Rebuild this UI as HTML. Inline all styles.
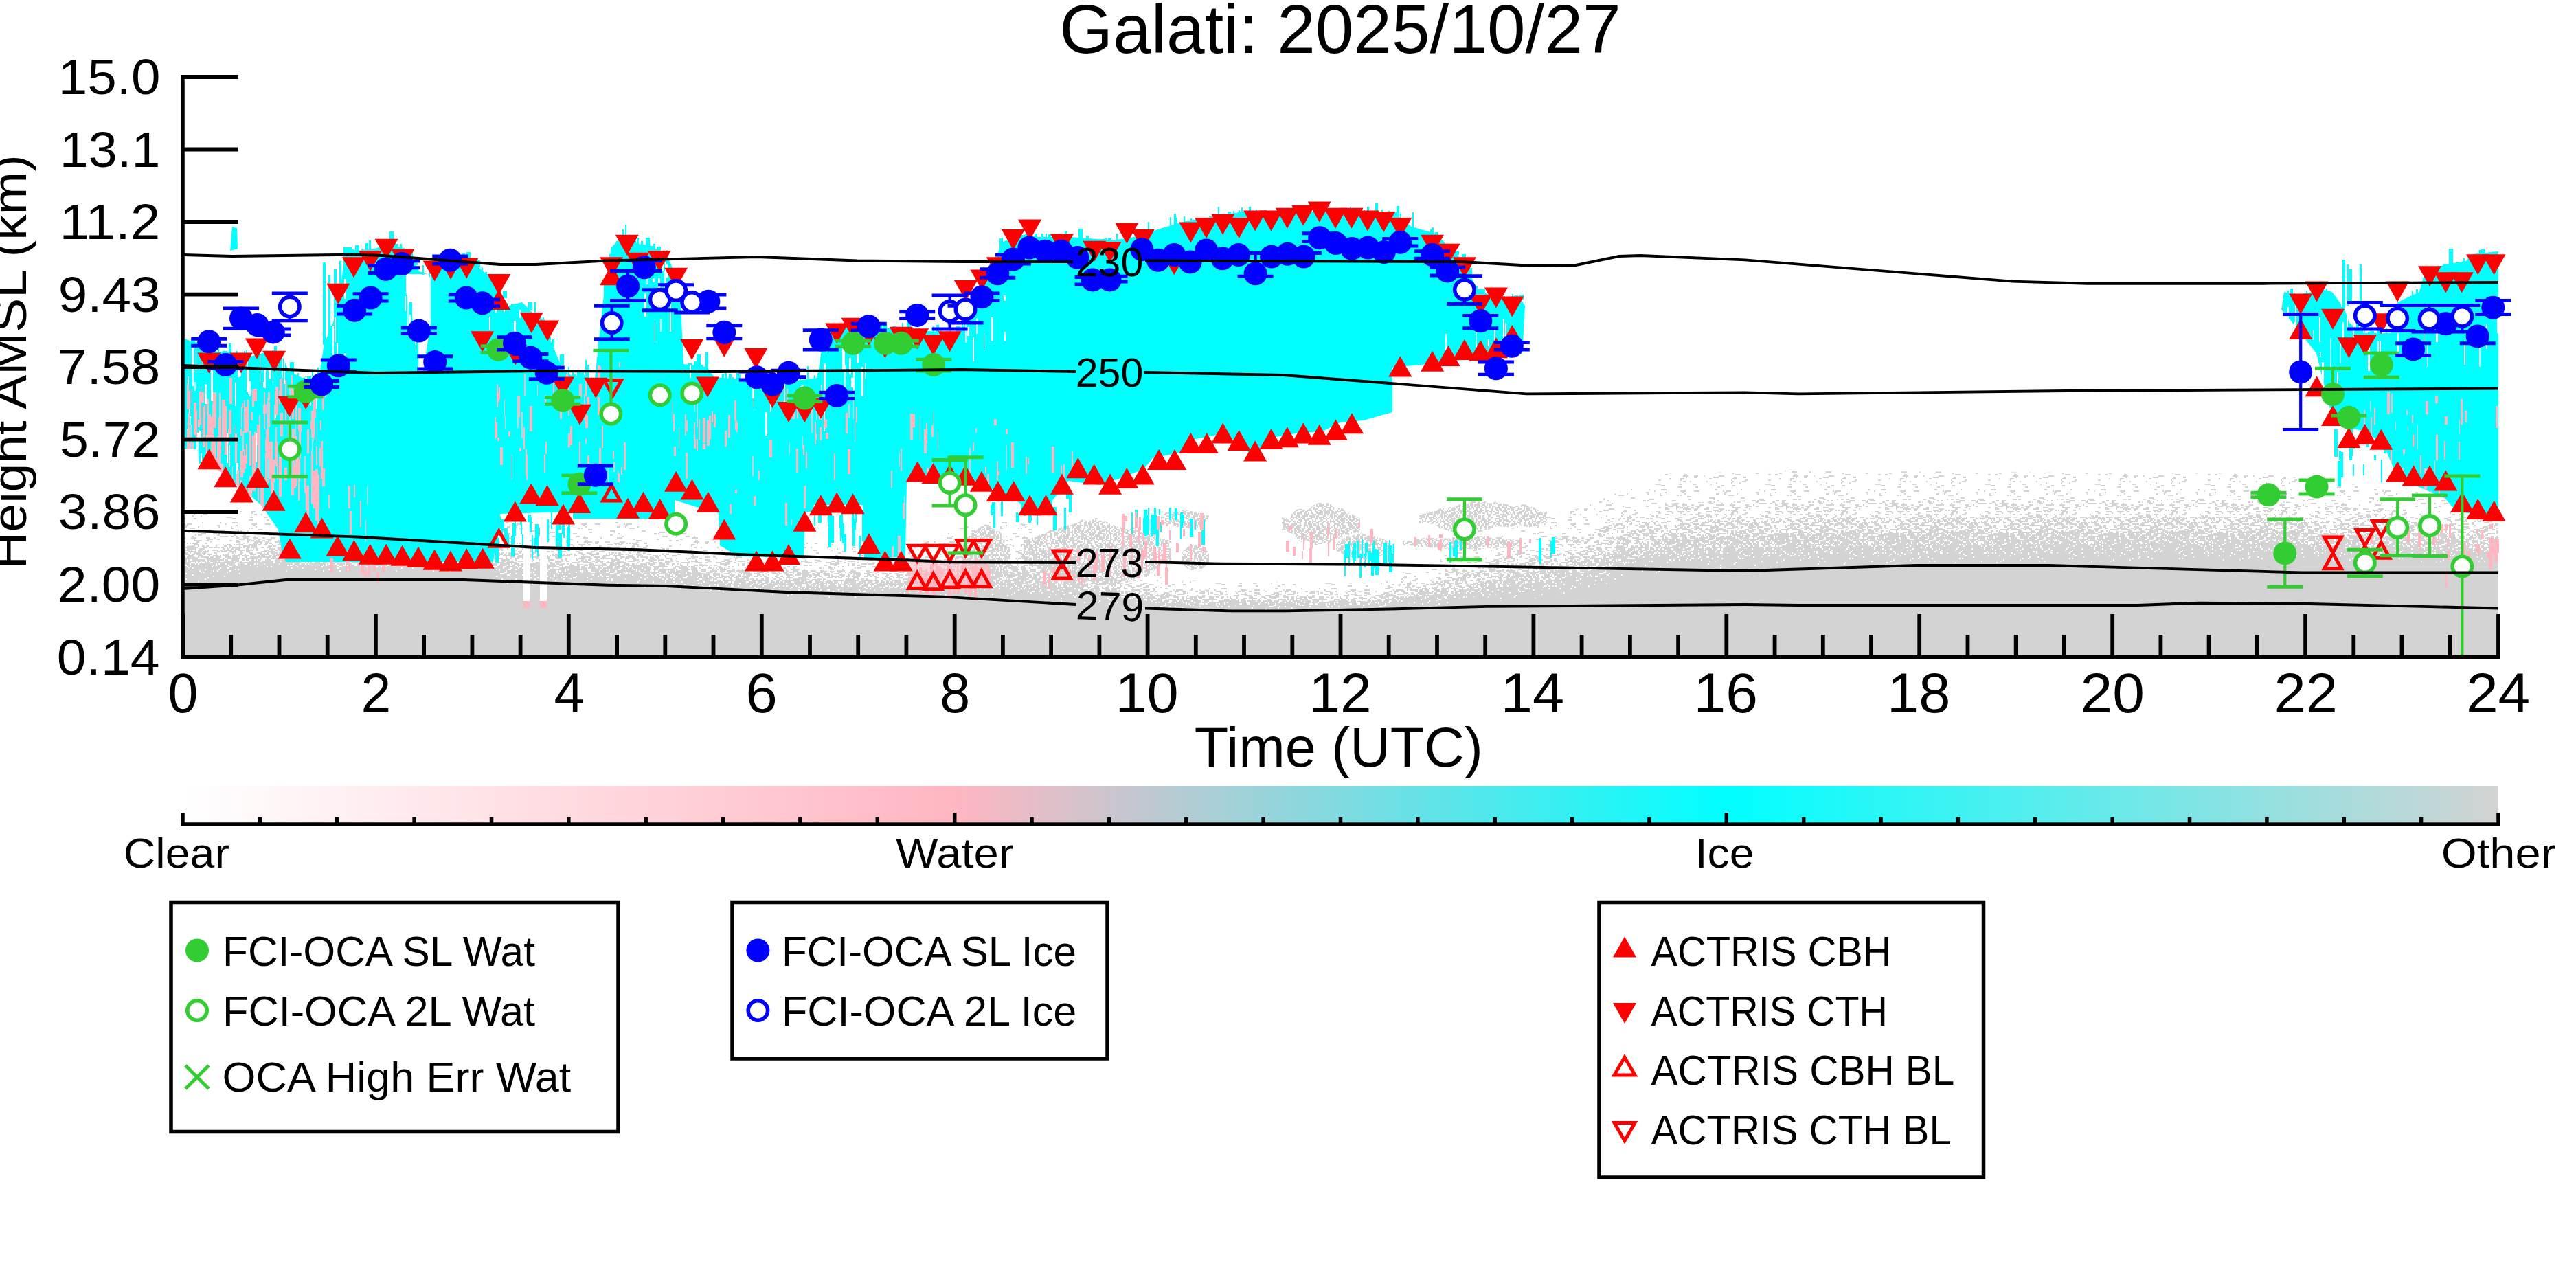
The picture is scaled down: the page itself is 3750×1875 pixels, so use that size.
<!DOCTYPE html><html><head><meta charset="utf-8"><style>html,body{margin:0;padding:0;background:#fff;}svg{display:block}text{font-family:"Liberation Sans",sans-serif}</style></head><body>
<svg width="3750" height="1875" viewBox="0 0 3750 1875">
<rect width="3750" height="1875" fill="#fff"/>
<defs><pattern id="sp0" width="160" height="48" patternUnits="userSpaceOnUse"><g fill="#d3d3d3"><rect x="16" y="0" width="4" height="2"/><rect x="42" y="0" width="2" height="2"/><rect x="46" y="0" width="2" height="2"/><rect x="116" y="0" width="8" height="2"/><rect x="56" y="2" width="6" height="2"/><rect x="88" y="4" width="8" height="2"/><rect x="134" y="4" width="6" height="2"/><rect x="0" y="6" width="8" height="2"/><rect x="58" y="6" width="4" height="2"/><rect x="94" y="6" width="2" height="2"/><rect x="34" y="8" width="6" height="2"/><rect x="100" y="8" width="2" height="2"/><rect x="152" y="8" width="4" height="2"/><rect x="158" y="8" width="2" height="2"/><rect x="88" y="10" width="4" height="2"/><rect x="4" y="12" width="8" height="2"/><rect x="24" y="12" width="2" height="2"/><rect x="38" y="12" width="6" height="2"/><rect x="50" y="12" width="2" height="2"/><rect x="106" y="12" width="2" height="2"/><rect x="48" y="14" width="8" height="2"/><rect x="74" y="14" width="2" height="2"/><rect x="98" y="14" width="8" height="2"/><rect x="30" y="16" width="4" height="2"/><rect x="122" y="16" width="2" height="2"/><rect x="156" y="16" width="4" height="2"/><rect x="14" y="18" width="4" height="2"/><rect x="24" y="18" width="4" height="2"/><rect x="52" y="18" width="4" height="2"/><rect x="126" y="18" width="8" height="2"/><rect x="50" y="20" width="8" height="2"/><rect x="66" y="20" width="6" height="2"/><rect x="80" y="20" width="2" height="2"/><rect x="102" y="20" width="8" height="2"/><rect x="54" y="22" width="2" height="2"/><rect x="66" y="22" width="4" height="2"/><rect x="94" y="22" width="8" height="2"/><rect x="124" y="22" width="4" height="2"/><rect x="138" y="22" width="4" height="2"/><rect x="30" y="24" width="2" height="2"/><rect x="46" y="24" width="6" height="2"/><rect x="88" y="24" width="4" height="2"/><rect x="122" y="24" width="6" height="2"/><rect x="14" y="26" width="4" height="2"/><rect x="46" y="26" width="2" height="2"/><rect x="120" y="26" width="2" height="2"/><rect x="140" y="26" width="4" height="2"/><rect x="50" y="28" width="4" height="2"/><rect x="60" y="28" width="2" height="2"/><rect x="84" y="28" width="2" height="2"/><rect x="122" y="28" width="2" height="2"/><rect x="136" y="28" width="6" height="2"/><rect x="98" y="30" width="2" height="2"/><rect x="120" y="30" width="2" height="2"/><rect x="132" y="30" width="2" height="2"/><rect x="10" y="32" width="8" height="2"/><rect x="44" y="32" width="4" height="2"/><rect x="64" y="32" width="6" height="2"/><rect x="90" y="32" width="2" height="2"/><rect x="18" y="34" width="6" height="2"/><rect x="106" y="34" width="4" height="2"/><rect x="122" y="34" width="4" height="2"/><rect x="42" y="36" width="6" height="2"/><rect x="68" y="36" width="4" height="2"/><rect x="100" y="36" width="4" height="2"/><rect x="0" y="40" width="2" height="2"/><rect x="18" y="40" width="8" height="2"/><rect x="96" y="40" width="4" height="2"/><rect x="134" y="40" width="2" height="2"/><rect x="8" y="42" width="2" height="2"/><rect x="46" y="42" width="8" height="2"/><rect x="66" y="42" width="8" height="2"/><rect x="108" y="42" width="2" height="2"/><rect x="112" y="42" width="8" height="2"/><rect x="24" y="44" width="2" height="2"/><rect x="48" y="44" width="4" height="2"/><rect x="110" y="44" width="4" height="2"/><rect x="156" y="44" width="4" height="2"/><rect x="16" y="46" width="2" height="2"/><rect x="52" y="46" width="2" height="2"/><rect x="98" y="46" width="4" height="2"/><rect x="110" y="46" width="2" height="2"/><rect x="128" y="46" width="2" height="2"/><rect x="158" y="46" width="2" height="2"/></g></pattern><pattern id="sp1" width="160" height="48" patternUnits="userSpaceOnUse"><g fill="#d3d3d3"><rect x="8" y="0" width="6" height="2"/><rect x="24" y="0" width="4" height="2"/><rect x="48" y="0" width="8" height="2"/><rect x="70" y="0" width="6" height="2"/><rect x="90" y="0" width="6" height="2"/><rect x="98" y="0" width="8" height="2"/><rect x="114" y="0" width="2" height="2"/><rect x="158" y="0" width="2" height="2"/><rect x="14" y="2" width="2" height="2"/><rect x="36" y="2" width="8" height="2"/><rect x="52" y="2" width="4" height="2"/><rect x="66" y="2" width="4" height="2"/><rect x="82" y="2" width="8" height="2"/><rect x="96" y="2" width="6" height="2"/><rect x="108" y="2" width="4" height="2"/><rect x="128" y="2" width="2" height="2"/><rect x="142" y="2" width="2" height="2"/><rect x="150" y="2" width="4" height="2"/><rect x="0" y="4" width="8" height="2"/><rect x="26" y="4" width="2" height="2"/><rect x="30" y="4" width="2" height="2"/><rect x="40" y="4" width="2" height="2"/><rect x="96" y="4" width="6" height="2"/><rect x="114" y="4" width="2" height="2"/><rect x="120" y="4" width="4" height="2"/><rect x="140" y="4" width="2" height="2"/><rect x="144" y="4" width="8" height="2"/><rect x="4" y="6" width="2" height="2"/><rect x="50" y="6" width="6" height="2"/><rect x="80" y="6" width="4" height="2"/><rect x="94" y="6" width="4" height="2"/><rect x="114" y="6" width="2" height="2"/><rect x="120" y="6" width="4" height="2"/><rect x="128" y="6" width="4" height="2"/><rect x="2" y="8" width="8" height="2"/><rect x="26" y="8" width="4" height="2"/><rect x="86" y="8" width="4" height="2"/><rect x="106" y="8" width="2" height="2"/><rect x="132" y="8" width="8" height="2"/><rect x="150" y="8" width="4" height="2"/><rect x="20" y="10" width="4" height="2"/><rect x="34" y="10" width="4" height="2"/><rect x="72" y="10" width="4" height="2"/><rect x="78" y="10" width="2" height="2"/><rect x="86" y="10" width="4" height="2"/><rect x="94" y="10" width="2" height="2"/><rect x="124" y="10" width="2" height="2"/><rect x="128" y="10" width="6" height="2"/><rect x="156" y="10" width="4" height="2"/><rect x="0" y="12" width="6" height="2"/><rect x="8" y="12" width="2" height="2"/><rect x="16" y="12" width="4" height="2"/><rect x="32" y="12" width="6" height="2"/><rect x="88" y="12" width="6" height="2"/><rect x="120" y="12" width="2" height="2"/><rect x="24" y="14" width="4" height="2"/><rect x="34" y="14" width="8" height="2"/><rect x="50" y="14" width="2" height="2"/><rect x="62" y="14" width="4" height="2"/><rect x="76" y="14" width="4" height="2"/><rect x="102" y="14" width="8" height="2"/><rect x="118" y="14" width="8" height="2"/><rect x="140" y="14" width="6" height="2"/><rect x="152" y="14" width="2" height="2"/><rect x="28" y="16" width="8" height="2"/><rect x="40" y="16" width="6" height="2"/><rect x="50" y="16" width="2" height="2"/><rect x="56" y="16" width="4" height="2"/><rect x="68" y="16" width="8" height="2"/><rect x="142" y="16" width="8" height="2"/><rect x="40" y="18" width="4" height="2"/><rect x="46" y="18" width="4" height="2"/><rect x="54" y="18" width="4" height="2"/><rect x="62" y="18" width="4" height="2"/><rect x="70" y="18" width="4" height="2"/><rect x="84" y="18" width="4" height="2"/><rect x="94" y="18" width="8" height="2"/><rect x="122" y="18" width="4" height="2"/><rect x="140" y="18" width="4" height="2"/><rect x="24" y="20" width="6" height="2"/><rect x="40" y="20" width="2" height="2"/><rect x="54" y="20" width="8" height="2"/><rect x="82" y="20" width="6" height="2"/><rect x="126" y="20" width="4" height="2"/><rect x="146" y="20" width="2" height="2"/><rect x="104" y="22" width="4" height="2"/><rect x="112" y="22" width="2" height="2"/><rect x="116" y="22" width="2" height="2"/><rect x="120" y="22" width="6" height="2"/><rect x="138" y="22" width="2" height="2"/><rect x="10" y="24" width="6" height="2"/><rect x="26" y="24" width="8" height="2"/><rect x="42" y="24" width="6" height="2"/><rect x="56" y="24" width="4" height="2"/><rect x="84" y="24" width="4" height="2"/><rect x="96" y="24" width="2" height="2"/><rect x="100" y="24" width="6" height="2"/><rect x="126" y="24" width="4" height="2"/><rect x="14" y="26" width="4" height="2"/><rect x="34" y="26" width="2" height="2"/><rect x="72" y="26" width="4" height="2"/><rect x="122" y="26" width="2" height="2"/><rect x="128" y="26" width="2" height="2"/><rect x="2" y="28" width="2" height="2"/><rect x="24" y="28" width="6" height="2"/><rect x="60" y="28" width="4" height="2"/><rect x="68" y="28" width="6" height="2"/><rect x="86" y="28" width="4" height="2"/><rect x="96" y="28" width="6" height="2"/><rect x="110" y="28" width="2" height="2"/><rect x="118" y="28" width="4" height="2"/><rect x="4" y="30" width="4" height="2"/><rect x="10" y="30" width="4" height="2"/><rect x="72" y="30" width="8" height="2"/><rect x="84" y="30" width="8" height="2"/><rect x="112" y="30" width="2" height="2"/><rect x="26" y="32" width="2" height="2"/><rect x="66" y="32" width="2" height="2"/><rect x="76" y="32" width="2" height="2"/><rect x="80" y="32" width="4" height="2"/><rect x="86" y="32" width="2" height="2"/><rect x="108" y="32" width="4" height="2"/><rect x="118" y="32" width="2" height="2"/><rect x="128" y="32" width="8" height="2"/><rect x="142" y="32" width="2" height="2"/><rect x="148" y="32" width="6" height="2"/><rect x="2" y="34" width="4" height="2"/><rect x="38" y="34" width="6" height="2"/><rect x="60" y="34" width="6" height="2"/><rect x="72" y="34" width="8" height="2"/><rect x="114" y="34" width="6" height="2"/><rect x="128" y="34" width="6" height="2"/><rect x="156" y="34" width="4" height="2"/><rect x="54" y="36" width="8" height="2"/><rect x="86" y="36" width="2" height="2"/><rect x="90" y="36" width="4" height="2"/><rect x="96" y="36" width="2" height="2"/><rect x="116" y="36" width="2" height="2"/><rect x="128" y="36" width="4" height="2"/><rect x="136" y="36" width="4" height="2"/><rect x="4" y="38" width="2" height="2"/><rect x="10" y="38" width="4" height="2"/><rect x="26" y="38" width="6" height="2"/><rect x="46" y="38" width="4" height="2"/><rect x="64" y="38" width="8" height="2"/><rect x="82" y="38" width="2" height="2"/><rect x="88" y="38" width="4" height="2"/><rect x="94" y="38" width="2" height="2"/><rect x="100" y="38" width="8" height="2"/><rect x="126" y="38" width="8" height="2"/><rect x="142" y="38" width="6" height="2"/><rect x="6" y="40" width="4" height="2"/><rect x="48" y="40" width="2" height="2"/><rect x="78" y="40" width="4" height="2"/><rect x="96" y="40" width="8" height="2"/><rect x="128" y="40" width="2" height="2"/><rect x="134" y="40" width="2" height="2"/><rect x="150" y="40" width="8" height="2"/><rect x="52" y="42" width="4" height="2"/><rect x="78" y="42" width="4" height="2"/><rect x="108" y="42" width="2" height="2"/><rect x="118" y="42" width="4" height="2"/><rect x="132" y="42" width="4" height="2"/><rect x="146" y="42" width="2" height="2"/><rect x="154" y="42" width="6" height="2"/><rect x="10" y="44" width="8" height="2"/><rect x="38" y="44" width="2" height="2"/><rect x="42" y="44" width="4" height="2"/><rect x="58" y="44" width="4" height="2"/><rect x="82" y="44" width="2" height="2"/><rect x="102" y="44" width="4" height="2"/><rect x="110" y="44" width="6" height="2"/><rect x="120" y="44" width="6" height="2"/><rect x="140" y="44" width="4" height="2"/><rect x="148" y="44" width="6" height="2"/><rect x="2" y="46" width="4" height="2"/><rect x="18" y="46" width="2" height="2"/><rect x="40" y="46" width="2" height="2"/><rect x="66" y="46" width="8" height="2"/><rect x="94" y="46" width="4" height="2"/><rect x="122" y="46" width="4" height="2"/><rect x="146" y="46" width="8" height="2"/></g></pattern><pattern id="sp2" width="160" height="48" patternUnits="userSpaceOnUse"><g fill="#d3d3d3"><rect x="8" y="0" width="8" height="2"/><rect x="44" y="0" width="6" height="2"/><rect x="52" y="0" width="4" height="2"/><rect x="62" y="0" width="4" height="2"/><rect x="68" y="0" width="4" height="2"/><rect x="74" y="0" width="4" height="2"/><rect x="84" y="0" width="2" height="2"/><rect x="90" y="0" width="2" height="2"/><rect x="98" y="0" width="2" height="2"/><rect x="102" y="0" width="6" height="2"/><rect x="130" y="0" width="2" height="2"/><rect x="134" y="0" width="2" height="2"/><rect x="146" y="0" width="6" height="2"/><rect x="0" y="2" width="4" height="2"/><rect x="8" y="2" width="6" height="2"/><rect x="32" y="2" width="8" height="2"/><rect x="48" y="2" width="8" height="2"/><rect x="58" y="2" width="4" height="2"/><rect x="74" y="2" width="4" height="2"/><rect x="82" y="2" width="4" height="2"/><rect x="88" y="2" width="6" height="2"/><rect x="102" y="2" width="6" height="2"/><rect x="140" y="2" width="6" height="2"/><rect x="150" y="2" width="6" height="2"/><rect x="0" y="4" width="6" height="2"/><rect x="10" y="4" width="4" height="2"/><rect x="18" y="4" width="4" height="2"/><rect x="58" y="4" width="6" height="2"/><rect x="76" y="4" width="6" height="2"/><rect x="108" y="4" width="8" height="2"/><rect x="126" y="4" width="2" height="2"/><rect x="132" y="4" width="6" height="2"/><rect x="146" y="4" width="4" height="2"/><rect x="152" y="4" width="2" height="2"/><rect x="18" y="6" width="2" height="2"/><rect x="30" y="6" width="4" height="2"/><rect x="40" y="6" width="2" height="2"/><rect x="62" y="6" width="8" height="2"/><rect x="74" y="6" width="2" height="2"/><rect x="90" y="6" width="8" height="2"/><rect x="126" y="6" width="2" height="2"/><rect x="132" y="6" width="4" height="2"/><rect x="138" y="6" width="4" height="2"/><rect x="146" y="6" width="4" height="2"/><rect x="0" y="8" width="6" height="2"/><rect x="10" y="8" width="2" height="2"/><rect x="22" y="8" width="6" height="2"/><rect x="32" y="8" width="6" height="2"/><rect x="42" y="8" width="2" height="2"/><rect x="46" y="8" width="6" height="2"/><rect x="62" y="8" width="2" height="2"/><rect x="72" y="8" width="2" height="2"/><rect x="84" y="8" width="4" height="2"/><rect x="100" y="8" width="6" height="2"/><rect x="108" y="8" width="4" height="2"/><rect x="114" y="8" width="2" height="2"/><rect x="118" y="8" width="6" height="2"/><rect x="126" y="8" width="2" height="2"/><rect x="136" y="8" width="8" height="2"/><rect x="152" y="8" width="8" height="2"/><rect x="4" y="10" width="2" height="2"/><rect x="28" y="10" width="8" height="2"/><rect x="38" y="10" width="4" height="2"/><rect x="46" y="10" width="8" height="2"/><rect x="58" y="10" width="2" height="2"/><rect x="70" y="10" width="4" height="2"/><rect x="82" y="10" width="2" height="2"/><rect x="98" y="10" width="4" height="2"/><rect x="118" y="10" width="2" height="2"/><rect x="122" y="10" width="8" height="2"/><rect x="136" y="10" width="2" height="2"/><rect x="142" y="10" width="6" height="2"/><rect x="152" y="10" width="4" height="2"/><rect x="8" y="12" width="2" height="2"/><rect x="16" y="12" width="6" height="2"/><rect x="46" y="12" width="8" height="2"/><rect x="60" y="12" width="8" height="2"/><rect x="76" y="12" width="4" height="2"/><rect x="84" y="12" width="2" height="2"/><rect x="92" y="12" width="6" height="2"/><rect x="108" y="12" width="2" height="2"/><rect x="114" y="12" width="2" height="2"/><rect x="118" y="12" width="2" height="2"/><rect x="130" y="12" width="6" height="2"/><rect x="144" y="12" width="2" height="2"/><rect x="156" y="12" width="2" height="2"/><rect x="2" y="14" width="6" height="2"/><rect x="20" y="14" width="2" height="2"/><rect x="36" y="14" width="2" height="2"/><rect x="50" y="14" width="2" height="2"/><rect x="60" y="14" width="8" height="2"/><rect x="78" y="14" width="6" height="2"/><rect x="88" y="14" width="8" height="2"/><rect x="98" y="14" width="2" height="2"/><rect x="102" y="14" width="4" height="2"/><rect x="112" y="14" width="6" height="2"/><rect x="124" y="14" width="2" height="2"/><rect x="128" y="14" width="2" height="2"/><rect x="136" y="14" width="4" height="2"/><rect x="2" y="16" width="8" height="2"/><rect x="12" y="16" width="4" height="2"/><rect x="20" y="16" width="6" height="2"/><rect x="42" y="16" width="4" height="2"/><rect x="48" y="16" width="8" height="2"/><rect x="72" y="16" width="6" height="2"/><rect x="80" y="16" width="2" height="2"/><rect x="90" y="16" width="2" height="2"/><rect x="100" y="16" width="4" height="2"/><rect x="110" y="16" width="2" height="2"/><rect x="116" y="16" width="6" height="2"/><rect x="124" y="16" width="8" height="2"/><rect x="146" y="16" width="2" height="2"/><rect x="150" y="16" width="2" height="2"/><rect x="158" y="16" width="2" height="2"/><rect x="4" y="18" width="8" height="2"/><rect x="22" y="18" width="2" height="2"/><rect x="34" y="18" width="2" height="2"/><rect x="44" y="18" width="2" height="2"/><rect x="50" y="18" width="2" height="2"/><rect x="54" y="18" width="2" height="2"/><rect x="78" y="18" width="8" height="2"/><rect x="96" y="18" width="4" height="2"/><rect x="104" y="18" width="2" height="2"/><rect x="114" y="18" width="2" height="2"/><rect x="118" y="18" width="2" height="2"/><rect x="122" y="18" width="8" height="2"/><rect x="138" y="18" width="4" height="2"/><rect x="144" y="18" width="2" height="2"/><rect x="154" y="18" width="2" height="2"/><rect x="10" y="20" width="4" height="2"/><rect x="24" y="20" width="2" height="2"/><rect x="30" y="20" width="4" height="2"/><rect x="38" y="20" width="8" height="2"/><rect x="48" y="20" width="2" height="2"/><rect x="56" y="20" width="4" height="2"/><rect x="64" y="20" width="2" height="2"/><rect x="72" y="20" width="2" height="2"/><rect x="80" y="20" width="6" height="2"/><rect x="90" y="20" width="2" height="2"/><rect x="102" y="20" width="2" height="2"/><rect x="106" y="20" width="4" height="2"/><rect x="114" y="20" width="4" height="2"/><rect x="122" y="20" width="2" height="2"/><rect x="128" y="20" width="6" height="2"/><rect x="142" y="20" width="4" height="2"/><rect x="150" y="20" width="2" height="2"/><rect x="158" y="20" width="2" height="2"/><rect x="8" y="22" width="4" height="2"/><rect x="16" y="22" width="4" height="2"/><rect x="26" y="22" width="4" height="2"/><rect x="34" y="22" width="2" height="2"/><rect x="48" y="22" width="8" height="2"/><rect x="58" y="22" width="4" height="2"/><rect x="66" y="22" width="4" height="2"/><rect x="72" y="22" width="4" height="2"/><rect x="86" y="22" width="2" height="2"/><rect x="90" y="22" width="4" height="2"/><rect x="98" y="22" width="2" height="2"/><rect x="114" y="22" width="2" height="2"/><rect x="122" y="22" width="4" height="2"/><rect x="128" y="22" width="4" height="2"/><rect x="142" y="22" width="2" height="2"/><rect x="146" y="22" width="4" height="2"/><rect x="152" y="22" width="4" height="2"/><rect x="4" y="24" width="2" height="2"/><rect x="12" y="24" width="4" height="2"/><rect x="20" y="24" width="2" height="2"/><rect x="24" y="24" width="4" height="2"/><rect x="50" y="24" width="4" height="2"/><rect x="58" y="24" width="2" height="2"/><rect x="64" y="24" width="4" height="2"/><rect x="76" y="24" width="2" height="2"/><rect x="88" y="24" width="2" height="2"/><rect x="96" y="24" width="2" height="2"/><rect x="114" y="24" width="2" height="2"/><rect x="154" y="24" width="6" height="2"/><rect x="6" y="26" width="4" height="2"/><rect x="28" y="26" width="2" height="2"/><rect x="36" y="26" width="8" height="2"/><rect x="46" y="26" width="8" height="2"/><rect x="70" y="26" width="6" height="2"/><rect x="78" y="26" width="4" height="2"/><rect x="112" y="26" width="8" height="2"/><rect x="134" y="26" width="4" height="2"/><rect x="142" y="26" width="2" height="2"/><rect x="154" y="26" width="2" height="2"/><rect x="4" y="28" width="2" height="2"/><rect x="10" y="28" width="2" height="2"/><rect x="14" y="28" width="2" height="2"/><rect x="18" y="28" width="8" height="2"/><rect x="30" y="28" width="2" height="2"/><rect x="34" y="28" width="2" height="2"/><rect x="40" y="28" width="4" height="2"/><rect x="46" y="28" width="4" height="2"/><rect x="60" y="28" width="2" height="2"/><rect x="68" y="28" width="2" height="2"/><rect x="84" y="28" width="6" height="2"/><rect x="102" y="28" width="4" height="2"/><rect x="112" y="28" width="6" height="2"/><rect x="120" y="28" width="8" height="2"/><rect x="144" y="28" width="6" height="2"/><rect x="152" y="28" width="8" height="2"/><rect x="10" y="30" width="2" height="2"/><rect x="16" y="30" width="4" height="2"/><rect x="22" y="30" width="8" height="2"/><rect x="38" y="30" width="4" height="2"/><rect x="48" y="30" width="2" height="2"/><rect x="52" y="30" width="4" height="2"/><rect x="72" y="30" width="6" height="2"/><rect x="86" y="30" width="2" height="2"/><rect x="96" y="30" width="2" height="2"/><rect x="112" y="30" width="8" height="2"/><rect x="122" y="30" width="4" height="2"/><rect x="130" y="30" width="8" height="2"/><rect x="0" y="32" width="4" height="2"/><rect x="6" y="32" width="4" height="2"/><rect x="12" y="32" width="6" height="2"/><rect x="20" y="32" width="4" height="2"/><rect x="28" y="32" width="8" height="2"/><rect x="38" y="32" width="8" height="2"/><rect x="52" y="32" width="4" height="2"/><rect x="64" y="32" width="8" height="2"/><rect x="74" y="32" width="2" height="2"/><rect x="88" y="32" width="4" height="2"/><rect x="100" y="32" width="2" height="2"/><rect x="108" y="32" width="8" height="2"/><rect x="124" y="32" width="2" height="2"/><rect x="138" y="32" width="2" height="2"/><rect x="152" y="32" width="6" height="2"/><rect x="4" y="34" width="6" height="2"/><rect x="14" y="34" width="8" height="2"/><rect x="30" y="34" width="2" height="2"/><rect x="38" y="34" width="4" height="2"/><rect x="66" y="34" width="2" height="2"/><rect x="70" y="34" width="8" height="2"/><rect x="88" y="34" width="8" height="2"/><rect x="116" y="34" width="6" height="2"/><rect x="128" y="34" width="2" height="2"/><rect x="136" y="34" width="8" height="2"/><rect x="12" y="36" width="2" height="2"/><rect x="18" y="36" width="2" height="2"/><rect x="22" y="36" width="2" height="2"/><rect x="30" y="36" width="4" height="2"/><rect x="68" y="36" width="4" height="2"/><rect x="80" y="36" width="4" height="2"/><rect x="102" y="36" width="2" height="2"/><rect x="108" y="36" width="6" height="2"/><rect x="122" y="36" width="8" height="2"/><rect x="134" y="36" width="4" height="2"/><rect x="152" y="36" width="4" height="2"/><rect x="8" y="38" width="2" height="2"/><rect x="20" y="38" width="2" height="2"/><rect x="36" y="38" width="2" height="2"/><rect x="48" y="38" width="4" height="2"/><rect x="58" y="38" width="8" height="2"/><rect x="70" y="38" width="2" height="2"/><rect x="86" y="38" width="2" height="2"/><rect x="94" y="38" width="2" height="2"/><rect x="100" y="38" width="2" height="2"/><rect x="104" y="38" width="2" height="2"/><rect x="110" y="38" width="6" height="2"/><rect x="120" y="38" width="4" height="2"/><rect x="136" y="38" width="2" height="2"/><rect x="142" y="38" width="2" height="2"/><rect x="154" y="38" width="2" height="2"/><rect x="4" y="40" width="2" height="2"/><rect x="8" y="40" width="4" height="2"/><rect x="24" y="40" width="6" height="2"/><rect x="36" y="40" width="4" height="2"/><rect x="60" y="40" width="4" height="2"/><rect x="82" y="40" width="6" height="2"/><rect x="92" y="40" width="8" height="2"/><rect x="114" y="40" width="8" height="2"/><rect x="130" y="40" width="4" height="2"/><rect x="144" y="40" width="2" height="2"/><rect x="152" y="40" width="2" height="2"/><rect x="156" y="40" width="2" height="2"/><rect x="10" y="42" width="6" height="2"/><rect x="52" y="42" width="8" height="2"/><rect x="64" y="42" width="2" height="2"/><rect x="68" y="42" width="2" height="2"/><rect x="72" y="42" width="2" height="2"/><rect x="76" y="42" width="4" height="2"/><rect x="96" y="42" width="2" height="2"/><rect x="102" y="42" width="8" height="2"/><rect x="122" y="42" width="2" height="2"/><rect x="128" y="42" width="2" height="2"/><rect x="132" y="42" width="2" height="2"/><rect x="136" y="42" width="8" height="2"/><rect x="148" y="42" width="4" height="2"/><rect x="154" y="42" width="2" height="2"/><rect x="158" y="42" width="2" height="2"/><rect x="14" y="44" width="2" height="2"/><rect x="22" y="44" width="2" height="2"/><rect x="46" y="44" width="4" height="2"/><rect x="68" y="44" width="2" height="2"/><rect x="74" y="44" width="8" height="2"/><rect x="84" y="44" width="8" height="2"/><rect x="96" y="44" width="4" height="2"/><rect x="146" y="44" width="6" height="2"/><rect x="0" y="46" width="2" height="2"/><rect x="4" y="46" width="2" height="2"/><rect x="18" y="46" width="2" height="2"/><rect x="22" y="46" width="4" height="2"/><rect x="38" y="46" width="4" height="2"/><rect x="46" y="46" width="4" height="2"/><rect x="56" y="46" width="4" height="2"/><rect x="90" y="46" width="8" height="2"/><rect x="126" y="46" width="2" height="2"/><rect x="134" y="46" width="4" height="2"/><rect x="144" y="46" width="4" height="2"/><rect x="154" y="46" width="2" height="2"/></g></pattern><pattern id="sp3" width="160" height="48" patternUnits="userSpaceOnUse"><g fill="#d3d3d3"><rect x="6" y="0" width="2" height="2"/><rect x="10" y="0" width="2" height="2"/><rect x="18" y="0" width="2" height="2"/><rect x="22" y="0" width="6" height="2"/><rect x="30" y="0" width="2" height="2"/><rect x="42" y="0" width="4" height="2"/><rect x="54" y="0" width="4" height="2"/><rect x="64" y="0" width="4" height="2"/><rect x="70" y="0" width="8" height="2"/><rect x="80" y="0" width="4" height="2"/><rect x="86" y="0" width="2" height="2"/><rect x="100" y="0" width="4" height="2"/><rect x="110" y="0" width="2" height="2"/><rect x="114" y="0" width="2" height="2"/><rect x="120" y="0" width="6" height="2"/><rect x="128" y="0" width="4" height="2"/><rect x="134" y="0" width="6" height="2"/><rect x="142" y="0" width="2" height="2"/><rect x="146" y="0" width="4" height="2"/><rect x="152" y="0" width="4" height="2"/><rect x="0" y="2" width="8" height="2"/><rect x="16" y="2" width="8" height="2"/><rect x="28" y="2" width="6" height="2"/><rect x="36" y="2" width="4" height="2"/><rect x="44" y="2" width="6" height="2"/><rect x="52" y="2" width="2" height="2"/><rect x="56" y="2" width="2" height="2"/><rect x="60" y="2" width="6" height="2"/><rect x="72" y="2" width="2" height="2"/><rect x="86" y="2" width="2" height="2"/><rect x="92" y="2" width="4" height="2"/><rect x="98" y="2" width="6" height="2"/><rect x="110" y="2" width="8" height="2"/><rect x="124" y="2" width="2" height="2"/><rect x="132" y="2" width="2" height="2"/><rect x="138" y="2" width="8" height="2"/><rect x="150" y="2" width="4" height="2"/><rect x="156" y="2" width="4" height="2"/><rect x="0" y="4" width="6" height="2"/><rect x="12" y="4" width="8" height="2"/><rect x="30" y="4" width="2" height="2"/><rect x="42" y="4" width="8" height="2"/><rect x="52" y="4" width="2" height="2"/><rect x="56" y="4" width="4" height="2"/><rect x="62" y="4" width="2" height="2"/><rect x="66" y="4" width="2" height="2"/><rect x="70" y="4" width="6" height="2"/><rect x="80" y="4" width="4" height="2"/><rect x="92" y="4" width="6" height="2"/><rect x="104" y="4" width="2" height="2"/><rect x="108" y="4" width="2" height="2"/><rect x="112" y="4" width="4" height="2"/><rect x="118" y="4" width="2" height="2"/><rect x="130" y="4" width="8" height="2"/><rect x="142" y="4" width="6" height="2"/><rect x="150" y="4" width="2" height="2"/><rect x="156" y="4" width="2" height="2"/><rect x="0" y="6" width="4" height="2"/><rect x="8" y="6" width="2" height="2"/><rect x="14" y="6" width="6" height="2"/><rect x="28" y="6" width="4" height="2"/><rect x="34" y="6" width="2" height="2"/><rect x="42" y="6" width="2" height="2"/><rect x="58" y="6" width="2" height="2"/><rect x="62" y="6" width="2" height="2"/><rect x="70" y="6" width="4" height="2"/><rect x="76" y="6" width="8" height="2"/><rect x="86" y="6" width="4" height="2"/><rect x="94" y="6" width="4" height="2"/><rect x="100" y="6" width="2" height="2"/><rect x="106" y="6" width="4" height="2"/><rect x="112" y="6" width="8" height="2"/><rect x="122" y="6" width="4" height="2"/><rect x="128" y="6" width="4" height="2"/><rect x="136" y="6" width="2" height="2"/><rect x="140" y="6" width="8" height="2"/><rect x="152" y="6" width="2" height="2"/><rect x="156" y="6" width="4" height="2"/><rect x="0" y="8" width="4" height="2"/><rect x="8" y="8" width="6" height="2"/><rect x="18" y="8" width="2" height="2"/><rect x="28" y="8" width="6" height="2"/><rect x="40" y="8" width="4" height="2"/><rect x="50" y="8" width="2" height="2"/><rect x="58" y="8" width="8" height="2"/><rect x="70" y="8" width="4" height="2"/><rect x="76" y="8" width="2" height="2"/><rect x="84" y="8" width="8" height="2"/><rect x="96" y="8" width="4" height="2"/><rect x="102" y="8" width="4" height="2"/><rect x="110" y="8" width="2" height="2"/><rect x="118" y="8" width="2" height="2"/><rect x="124" y="8" width="2" height="2"/><rect x="128" y="8" width="4" height="2"/><rect x="134" y="8" width="2" height="2"/><rect x="138" y="8" width="2" height="2"/><rect x="144" y="8" width="4" height="2"/><rect x="152" y="8" width="8" height="2"/><rect x="14" y="10" width="6" height="2"/><rect x="22" y="10" width="8" height="2"/><rect x="32" y="10" width="4" height="2"/><rect x="38" y="10" width="6" height="2"/><rect x="48" y="10" width="4" height="2"/><rect x="56" y="10" width="2" height="2"/><rect x="60" y="10" width="8" height="2"/><rect x="72" y="10" width="4" height="2"/><rect x="78" y="10" width="8" height="2"/><rect x="94" y="10" width="6" height="2"/><rect x="106" y="10" width="8" height="2"/><rect x="116" y="10" width="4" height="2"/><rect x="126" y="10" width="4" height="2"/><rect x="138" y="10" width="4" height="2"/><rect x="146" y="10" width="2" height="2"/><rect x="156" y="10" width="4" height="2"/><rect x="2" y="12" width="2" height="2"/><rect x="6" y="12" width="4" height="2"/><rect x="12" y="12" width="6" height="2"/><rect x="28" y="12" width="4" height="2"/><rect x="40" y="12" width="2" height="2"/><rect x="44" y="12" width="4" height="2"/><rect x="52" y="12" width="2" height="2"/><rect x="66" y="12" width="8" height="2"/><rect x="76" y="12" width="2" height="2"/><rect x="80" y="12" width="2" height="2"/><rect x="88" y="12" width="2" height="2"/><rect x="96" y="12" width="4" height="2"/><rect x="104" y="12" width="4" height="2"/><rect x="112" y="12" width="6" height="2"/><rect x="124" y="12" width="2" height="2"/><rect x="128" y="12" width="2" height="2"/><rect x="134" y="12" width="4" height="2"/><rect x="140" y="12" width="8" height="2"/><rect x="150" y="12" width="8" height="2"/><rect x="0" y="14" width="2" height="2"/><rect x="8" y="14" width="2" height="2"/><rect x="12" y="14" width="2" height="2"/><rect x="16" y="14" width="6" height="2"/><rect x="28" y="14" width="6" height="2"/><rect x="36" y="14" width="8" height="2"/><rect x="48" y="14" width="4" height="2"/><rect x="54" y="14" width="2" height="2"/><rect x="64" y="14" width="2" height="2"/><rect x="68" y="14" width="4" height="2"/><rect x="74" y="14" width="4" height="2"/><rect x="80" y="14" width="6" height="2"/><rect x="88" y="14" width="8" height="2"/><rect x="98" y="14" width="6" height="2"/><rect x="108" y="14" width="8" height="2"/><rect x="122" y="14" width="4" height="2"/><rect x="132" y="14" width="6" height="2"/><rect x="144" y="14" width="2" height="2"/><rect x="158" y="14" width="2" height="2"/><rect x="2" y="16" width="2" height="2"/><rect x="6" y="16" width="2" height="2"/><rect x="14" y="16" width="8" height="2"/><rect x="24" y="16" width="4" height="2"/><rect x="32" y="16" width="6" height="2"/><rect x="42" y="16" width="4" height="2"/><rect x="50" y="16" width="4" height="2"/><rect x="56" y="16" width="4" height="2"/><rect x="66" y="16" width="2" height="2"/><rect x="76" y="16" width="6" height="2"/><rect x="86" y="16" width="8" height="2"/><rect x="98" y="16" width="4" height="2"/><rect x="104" y="16" width="4" height="2"/><rect x="110" y="16" width="2" height="2"/><rect x="114" y="16" width="8" height="2"/><rect x="124" y="16" width="6" height="2"/><rect x="134" y="16" width="2" height="2"/><rect x="138" y="16" width="8" height="2"/><rect x="152" y="16" width="8" height="2"/><rect x="0" y="18" width="4" height="2"/><rect x="6" y="18" width="4" height="2"/><rect x="20" y="18" width="2" height="2"/><rect x="24" y="18" width="2" height="2"/><rect x="30" y="18" width="8" height="2"/><rect x="50" y="18" width="6" height="2"/><rect x="58" y="18" width="4" height="2"/><rect x="66" y="18" width="4" height="2"/><rect x="72" y="18" width="8" height="2"/><rect x="82" y="18" width="6" height="2"/><rect x="100" y="18" width="2" height="2"/><rect x="106" y="18" width="4" height="2"/><rect x="114" y="18" width="2" height="2"/><rect x="120" y="18" width="6" height="2"/><rect x="136" y="18" width="2" height="2"/><rect x="140" y="18" width="6" height="2"/><rect x="148" y="18" width="6" height="2"/><rect x="8" y="20" width="8" height="2"/><rect x="18" y="20" width="2" height="2"/><rect x="22" y="20" width="4" height="2"/><rect x="28" y="20" width="2" height="2"/><rect x="32" y="20" width="8" height="2"/><rect x="42" y="20" width="2" height="2"/><rect x="50" y="20" width="8" height="2"/><rect x="70" y="20" width="2" height="2"/><rect x="78" y="20" width="2" height="2"/><rect x="92" y="20" width="6" height="2"/><rect x="106" y="20" width="2" height="2"/><rect x="110" y="20" width="8" height="2"/><rect x="124" y="20" width="4" height="2"/><rect x="130" y="20" width="2" height="2"/><rect x="134" y="20" width="4" height="2"/><rect x="142" y="20" width="6" height="2"/><rect x="150" y="20" width="4" height="2"/><rect x="156" y="20" width="4" height="2"/><rect x="4" y="22" width="2" height="2"/><rect x="8" y="22" width="8" height="2"/><rect x="22" y="22" width="2" height="2"/><rect x="28" y="22" width="6" height="2"/><rect x="36" y="22" width="2" height="2"/><rect x="42" y="22" width="6" height="2"/><rect x="52" y="22" width="4" height="2"/><rect x="58" y="22" width="2" height="2"/><rect x="64" y="22" width="6" height="2"/><rect x="74" y="22" width="2" height="2"/><rect x="80" y="22" width="2" height="2"/><rect x="90" y="22" width="2" height="2"/><rect x="94" y="22" width="2" height="2"/><rect x="110" y="22" width="2" height="2"/><rect x="114" y="22" width="2" height="2"/><rect x="120" y="22" width="2" height="2"/><rect x="128" y="22" width="2" height="2"/><rect x="132" y="22" width="6" height="2"/><rect x="142" y="22" width="6" height="2"/><rect x="158" y="22" width="2" height="2"/><rect x="6" y="24" width="4" height="2"/><rect x="12" y="24" width="4" height="2"/><rect x="24" y="24" width="4" height="2"/><rect x="30" y="24" width="4" height="2"/><rect x="40" y="24" width="4" height="2"/><rect x="46" y="24" width="6" height="2"/><rect x="58" y="24" width="6" height="2"/><rect x="68" y="24" width="2" height="2"/><rect x="72" y="24" width="4" height="2"/><rect x="78" y="24" width="2" height="2"/><rect x="82" y="24" width="2" height="2"/><rect x="86" y="24" width="4" height="2"/><rect x="94" y="24" width="2" height="2"/><rect x="102" y="24" width="2" height="2"/><rect x="108" y="24" width="8" height="2"/><rect x="118" y="24" width="8" height="2"/><rect x="130" y="24" width="2" height="2"/><rect x="134" y="24" width="2" height="2"/><rect x="138" y="24" width="4" height="2"/><rect x="144" y="24" width="6" height="2"/><rect x="152" y="24" width="4" height="2"/><rect x="158" y="24" width="2" height="2"/><rect x="14" y="26" width="4" height="2"/><rect x="24" y="26" width="2" height="2"/><rect x="34" y="26" width="6" height="2"/><rect x="44" y="26" width="8" height="2"/><rect x="54" y="26" width="4" height="2"/><rect x="62" y="26" width="8" height="2"/><rect x="74" y="26" width="2" height="2"/><rect x="80" y="26" width="4" height="2"/><rect x="92" y="26" width="4" height="2"/><rect x="102" y="26" width="4" height="2"/><rect x="112" y="26" width="2" height="2"/><rect x="116" y="26" width="8" height="2"/><rect x="126" y="26" width="2" height="2"/><rect x="132" y="26" width="6" height="2"/><rect x="142" y="26" width="2" height="2"/><rect x="148" y="26" width="4" height="2"/><rect x="154" y="26" width="6" height="2"/><rect x="12" y="28" width="4" height="2"/><rect x="18" y="28" width="4" height="2"/><rect x="24" y="28" width="4" height="2"/><rect x="32" y="28" width="2" height="2"/><rect x="36" y="28" width="8" height="2"/><rect x="48" y="28" width="6" height="2"/><rect x="58" y="28" width="2" height="2"/><rect x="66" y="28" width="2" height="2"/><rect x="70" y="28" width="4" height="2"/><rect x="78" y="28" width="2" height="2"/><rect x="84" y="28" width="2" height="2"/><rect x="92" y="28" width="6" height="2"/><rect x="100" y="28" width="2" height="2"/><rect x="104" y="28" width="4" height="2"/><rect x="120" y="28" width="2" height="2"/><rect x="124" y="28" width="6" height="2"/><rect x="134" y="28" width="4" height="2"/><rect x="140" y="28" width="4" height="2"/><rect x="146" y="28" width="2" height="2"/><rect x="150" y="28" width="2" height="2"/><rect x="2" y="30" width="4" height="2"/><rect x="10" y="30" width="4" height="2"/><rect x="18" y="30" width="2" height="2"/><rect x="30" y="30" width="2" height="2"/><rect x="36" y="30" width="2" height="2"/><rect x="42" y="30" width="8" height="2"/><rect x="56" y="30" width="6" height="2"/><rect x="66" y="30" width="6" height="2"/><rect x="74" y="30" width="6" height="2"/><rect x="82" y="30" width="8" height="2"/><rect x="94" y="30" width="6" height="2"/><rect x="104" y="30" width="2" height="2"/><rect x="108" y="30" width="6" height="2"/><rect x="116" y="30" width="4" height="2"/><rect x="122" y="30" width="4" height="2"/><rect x="136" y="30" width="4" height="2"/><rect x="144" y="30" width="6" height="2"/><rect x="154" y="30" width="6" height="2"/><rect x="6" y="32" width="8" height="2"/><rect x="16" y="32" width="4" height="2"/><rect x="26" y="32" width="2" height="2"/><rect x="32" y="32" width="8" height="2"/><rect x="44" y="32" width="8" height="2"/><rect x="58" y="32" width="2" height="2"/><rect x="64" y="32" width="8" height="2"/><rect x="76" y="32" width="8" height="2"/><rect x="90" y="32" width="8" height="2"/><rect x="104" y="32" width="2" height="2"/><rect x="118" y="32" width="8" height="2"/><rect x="128" y="32" width="6" height="2"/><rect x="142" y="32" width="4" height="2"/><rect x="150" y="32" width="4" height="2"/><rect x="0" y="34" width="6" height="2"/><rect x="10" y="34" width="2" height="2"/><rect x="24" y="34" width="6" height="2"/><rect x="32" y="34" width="4" height="2"/><rect x="40" y="34" width="2" height="2"/><rect x="44" y="34" width="4" height="2"/><rect x="54" y="34" width="4" height="2"/><rect x="60" y="34" width="8" height="2"/><rect x="70" y="34" width="2" height="2"/><rect x="74" y="34" width="2" height="2"/><rect x="78" y="34" width="2" height="2"/><rect x="82" y="34" width="2" height="2"/><rect x="88" y="34" width="8" height="2"/><rect x="100" y="34" width="4" height="2"/><rect x="106" y="34" width="2" height="2"/><rect x="110" y="34" width="2" height="2"/><rect x="116" y="34" width="6" height="2"/><rect x="124" y="34" width="8" height="2"/><rect x="140" y="34" width="4" height="2"/><rect x="146" y="34" width="6" height="2"/><rect x="156" y="34" width="2" height="2"/><rect x="0" y="36" width="8" height="2"/><rect x="16" y="36" width="4" height="2"/><rect x="28" y="36" width="6" height="2"/><rect x="36" y="36" width="2" height="2"/><rect x="40" y="36" width="4" height="2"/><rect x="64" y="36" width="2" height="2"/><rect x="70" y="36" width="2" height="2"/><rect x="74" y="36" width="8" height="2"/><rect x="88" y="36" width="2" height="2"/><rect x="94" y="36" width="4" height="2"/><rect x="108" y="36" width="2" height="2"/><rect x="112" y="36" width="2" height="2"/><rect x="116" y="36" width="2" height="2"/><rect x="120" y="36" width="4" height="2"/><rect x="130" y="36" width="2" height="2"/><rect x="140" y="36" width="4" height="2"/><rect x="148" y="36" width="2" height="2"/><rect x="156" y="36" width="4" height="2"/><rect x="4" y="38" width="2" height="2"/><rect x="8" y="38" width="2" height="2"/><rect x="20" y="38" width="2" height="2"/><rect x="28" y="38" width="4" height="2"/><rect x="36" y="38" width="2" height="2"/><rect x="44" y="38" width="2" height="2"/><rect x="48" y="38" width="2" height="2"/><rect x="58" y="38" width="8" height="2"/><rect x="76" y="38" width="4" height="2"/><rect x="84" y="38" width="2" height="2"/><rect x="92" y="38" width="6" height="2"/><rect x="102" y="38" width="8" height="2"/><rect x="116" y="38" width="6" height="2"/><rect x="124" y="38" width="6" height="2"/><rect x="132" y="38" width="6" height="2"/><rect x="152" y="38" width="8" height="2"/><rect x="10" y="40" width="4" height="2"/><rect x="22" y="40" width="8" height="2"/><rect x="32" y="40" width="4" height="2"/><rect x="38" y="40" width="4" height="2"/><rect x="56" y="40" width="2" height="2"/><rect x="60" y="40" width="6" height="2"/><rect x="72" y="40" width="4" height="2"/><rect x="78" y="40" width="6" height="2"/><rect x="88" y="40" width="4" height="2"/><rect x="94" y="40" width="4" height="2"/><rect x="102" y="40" width="2" height="2"/><rect x="106" y="40" width="2" height="2"/><rect x="110" y="40" width="6" height="2"/><rect x="122" y="40" width="2" height="2"/><rect x="126" y="40" width="2" height="2"/><rect x="134" y="40" width="2" height="2"/><rect x="148" y="40" width="2" height="2"/><rect x="154" y="40" width="2" height="2"/><rect x="158" y="40" width="2" height="2"/><rect x="0" y="42" width="2" height="2"/><rect x="12" y="42" width="2" height="2"/><rect x="18" y="42" width="8" height="2"/><rect x="28" y="42" width="2" height="2"/><rect x="36" y="42" width="4" height="2"/><rect x="44" y="42" width="6" height="2"/><rect x="56" y="42" width="8" height="2"/><rect x="66" y="42" width="2" height="2"/><rect x="70" y="42" width="4" height="2"/><rect x="78" y="42" width="2" height="2"/><rect x="94" y="42" width="4" height="2"/><rect x="102" y="42" width="2" height="2"/><rect x="108" y="42" width="8" height="2"/><rect x="118" y="42" width="2" height="2"/><rect x="122" y="42" width="8" height="2"/><rect x="132" y="42" width="4" height="2"/><rect x="140" y="42" width="4" height="2"/><rect x="146" y="42" width="2" height="2"/><rect x="154" y="42" width="4" height="2"/><rect x="4" y="44" width="4" height="2"/><rect x="10" y="44" width="4" height="2"/><rect x="16" y="44" width="8" height="2"/><rect x="26" y="44" width="4" height="2"/><rect x="32" y="44" width="4" height="2"/><rect x="38" y="44" width="8" height="2"/><rect x="50" y="44" width="6" height="2"/><rect x="68" y="44" width="4" height="2"/><rect x="74" y="44" width="2" height="2"/><rect x="82" y="44" width="4" height="2"/><rect x="88" y="44" width="2" height="2"/><rect x="94" y="44" width="4" height="2"/><rect x="100" y="44" width="2" height="2"/><rect x="108" y="44" width="4" height="2"/><rect x="116" y="44" width="6" height="2"/><rect x="124" y="44" width="4" height="2"/><rect x="144" y="44" width="4" height="2"/><rect x="154" y="44" width="2" height="2"/><rect x="158" y="44" width="2" height="2"/><rect x="2" y="46" width="2" height="2"/><rect x="8" y="46" width="4" height="2"/><rect x="20" y="46" width="8" height="2"/><rect x="32" y="46" width="4" height="2"/><rect x="38" y="46" width="4" height="2"/><rect x="52" y="46" width="2" height="2"/><rect x="56" y="46" width="4" height="2"/><rect x="70" y="46" width="4" height="2"/><rect x="80" y="46" width="8" height="2"/><rect x="96" y="46" width="4" height="2"/><rect x="106" y="46" width="4" height="2"/><rect x="114" y="46" width="2" height="2"/><rect x="120" y="46" width="4" height="2"/><rect x="130" y="46" width="4" height="2"/><rect x="142" y="46" width="2" height="2"/><rect x="146" y="46" width="2" height="2"/><rect x="152" y="46" width="6" height="2"/></g></pattern><pattern id="sp4" width="160" height="48" patternUnits="userSpaceOnUse"><g fill="#d3d3d3"><rect x="2" y="0" width="2" height="2"/><rect x="6" y="0" width="4" height="2"/><rect x="14" y="0" width="2" height="2"/><rect x="18" y="0" width="4" height="2"/><rect x="24" y="0" width="8" height="2"/><rect x="34" y="0" width="8" height="2"/><rect x="44" y="0" width="4" height="2"/><rect x="52" y="0" width="4" height="2"/><rect x="58" y="0" width="4" height="2"/><rect x="70" y="0" width="8" height="2"/><rect x="82" y="0" width="6" height="2"/><rect x="90" y="0" width="4" height="2"/><rect x="100" y="0" width="8" height="2"/><rect x="112" y="0" width="4" height="2"/><rect x="118" y="0" width="4" height="2"/><rect x="124" y="0" width="4" height="2"/><rect x="132" y="0" width="8" height="2"/><rect x="144" y="0" width="2" height="2"/><rect x="148" y="0" width="2" height="2"/><rect x="152" y="0" width="8" height="2"/><rect x="2" y="2" width="4" height="2"/><rect x="8" y="2" width="8" height="2"/><rect x="20" y="2" width="2" height="2"/><rect x="24" y="2" width="2" height="2"/><rect x="28" y="2" width="8" height="2"/><rect x="38" y="2" width="8" height="2"/><rect x="48" y="2" width="2" height="2"/><rect x="52" y="2" width="8" height="2"/><rect x="62" y="2" width="2" height="2"/><rect x="66" y="2" width="2" height="2"/><rect x="70" y="2" width="2" height="2"/><rect x="74" y="2" width="2" height="2"/><rect x="80" y="2" width="8" height="2"/><rect x="94" y="2" width="8" height="2"/><rect x="108" y="2" width="4" height="2"/><rect x="114" y="2" width="8" height="2"/><rect x="128" y="2" width="2" height="2"/><rect x="132" y="2" width="4" height="2"/><rect x="140" y="2" width="2" height="2"/><rect x="144" y="2" width="8" height="2"/><rect x="154" y="2" width="4" height="2"/><rect x="2" y="4" width="2" height="2"/><rect x="6" y="4" width="6" height="2"/><rect x="14" y="4" width="8" height="2"/><rect x="28" y="4" width="8" height="2"/><rect x="42" y="4" width="8" height="2"/><rect x="56" y="4" width="4" height="2"/><rect x="62" y="4" width="2" height="2"/><rect x="68" y="4" width="4" height="2"/><rect x="74" y="4" width="8" height="2"/><rect x="84" y="4" width="2" height="2"/><rect x="88" y="4" width="4" height="2"/><rect x="94" y="4" width="4" height="2"/><rect x="100" y="4" width="4" height="2"/><rect x="106" y="4" width="6" height="2"/><rect x="114" y="4" width="4" height="2"/><rect x="120" y="4" width="4" height="2"/><rect x="126" y="4" width="4" height="2"/><rect x="132" y="4" width="8" height="2"/><rect x="142" y="4" width="4" height="2"/><rect x="152" y="4" width="4" height="2"/><rect x="158" y="4" width="2" height="2"/><rect x="0" y="6" width="4" height="2"/><rect x="6" y="6" width="2" height="2"/><rect x="10" y="6" width="2" height="2"/><rect x="16" y="6" width="8" height="2"/><rect x="26" y="6" width="2" height="2"/><rect x="30" y="6" width="4" height="2"/><rect x="36" y="6" width="4" height="2"/><rect x="42" y="6" width="2" height="2"/><rect x="46" y="6" width="8" height="2"/><rect x="56" y="6" width="6" height="2"/><rect x="66" y="6" width="8" height="2"/><rect x="76" y="6" width="2" height="2"/><rect x="80" y="6" width="2" height="2"/><rect x="84" y="6" width="6" height="2"/><rect x="92" y="6" width="2" height="2"/><rect x="100" y="6" width="2" height="2"/><rect x="106" y="6" width="2" height="2"/><rect x="110" y="6" width="4" height="2"/><rect x="116" y="6" width="4" height="2"/><rect x="122" y="6" width="4" height="2"/><rect x="128" y="6" width="4" height="2"/><rect x="134" y="6" width="4" height="2"/><rect x="142" y="6" width="6" height="2"/><rect x="150" y="6" width="2" height="2"/><rect x="156" y="6" width="4" height="2"/><rect x="0" y="8" width="2" height="2"/><rect x="4" y="8" width="2" height="2"/><rect x="8" y="8" width="6" height="2"/><rect x="18" y="8" width="8" height="2"/><rect x="28" y="8" width="2" height="2"/><rect x="34" y="8" width="8" height="2"/><rect x="44" y="8" width="4" height="2"/><rect x="50" y="8" width="4" height="2"/><rect x="56" y="8" width="6" height="2"/><rect x="66" y="8" width="2" height="2"/><rect x="70" y="8" width="4" height="2"/><rect x="78" y="8" width="8" height="2"/><rect x="92" y="8" width="8" height="2"/><rect x="104" y="8" width="2" height="2"/><rect x="108" y="8" width="4" height="2"/><rect x="114" y="8" width="6" height="2"/><rect x="124" y="8" width="2" height="2"/><rect x="128" y="8" width="6" height="2"/><rect x="136" y="8" width="2" height="2"/><rect x="140" y="8" width="4" height="2"/><rect x="150" y="8" width="2" height="2"/><rect x="154" y="8" width="6" height="2"/><rect x="2" y="10" width="2" height="2"/><rect x="6" y="10" width="4" height="2"/><rect x="14" y="10" width="4" height="2"/><rect x="22" y="10" width="2" height="2"/><rect x="26" y="10" width="6" height="2"/><rect x="38" y="10" width="8" height="2"/><rect x="48" y="10" width="4" height="2"/><rect x="54" y="10" width="6" height="2"/><rect x="62" y="10" width="2" height="2"/><rect x="66" y="10" width="4" height="2"/><rect x="72" y="10" width="2" height="2"/><rect x="76" y="10" width="4" height="2"/><rect x="84" y="10" width="2" height="2"/><rect x="90" y="10" width="6" height="2"/><rect x="98" y="10" width="6" height="2"/><rect x="106" y="10" width="2" height="2"/><rect x="110" y="10" width="2" height="2"/><rect x="114" y="10" width="2" height="2"/><rect x="118" y="10" width="2" height="2"/><rect x="122" y="10" width="4" height="2"/><rect x="128" y="10" width="8" height="2"/><rect x="144" y="10" width="8" height="2"/><rect x="156" y="10" width="4" height="2"/><rect x="0" y="12" width="4" height="2"/><rect x="6" y="12" width="4" height="2"/><rect x="12" y="12" width="2" height="2"/><rect x="20" y="12" width="2" height="2"/><rect x="24" y="12" width="2" height="2"/><rect x="36" y="12" width="6" height="2"/><rect x="44" y="12" width="8" height="2"/><rect x="58" y="12" width="4" height="2"/><rect x="64" y="12" width="4" height="2"/><rect x="70" y="12" width="2" height="2"/><rect x="74" y="12" width="8" height="2"/><rect x="84" y="12" width="4" height="2"/><rect x="90" y="12" width="6" height="2"/><rect x="98" y="12" width="4" height="2"/><rect x="104" y="12" width="4" height="2"/><rect x="110" y="12" width="6" height="2"/><rect x="118" y="12" width="2" height="2"/><rect x="122" y="12" width="2" height="2"/><rect x="126" y="12" width="4" height="2"/><rect x="132" y="12" width="2" height="2"/><rect x="136" y="12" width="2" height="2"/><rect x="140" y="12" width="2" height="2"/><rect x="148" y="12" width="4" height="2"/><rect x="0" y="14" width="8" height="2"/><rect x="10" y="14" width="4" height="2"/><rect x="22" y="14" width="2" height="2"/><rect x="26" y="14" width="4" height="2"/><rect x="32" y="14" width="6" height="2"/><rect x="50" y="14" width="2" height="2"/><rect x="54" y="14" width="4" height="2"/><rect x="62" y="14" width="6" height="2"/><rect x="70" y="14" width="8" height="2"/><rect x="80" y="14" width="4" height="2"/><rect x="86" y="14" width="6" height="2"/><rect x="98" y="14" width="2" height="2"/><rect x="102" y="14" width="2" height="2"/><rect x="106" y="14" width="4" height="2"/><rect x="112" y="14" width="6" height="2"/><rect x="122" y="14" width="8" height="2"/><rect x="132" y="14" width="8" height="2"/><rect x="144" y="14" width="6" height="2"/><rect x="152" y="14" width="4" height="2"/><rect x="158" y="14" width="2" height="2"/><rect x="0" y="16" width="6" height="2"/><rect x="8" y="16" width="2" height="2"/><rect x="12" y="16" width="4" height="2"/><rect x="18" y="16" width="2" height="2"/><rect x="24" y="16" width="2" height="2"/><rect x="30" y="16" width="4" height="2"/><rect x="40" y="16" width="8" height="2"/><rect x="50" y="16" width="4" height="2"/><rect x="58" y="16" width="6" height="2"/><rect x="66" y="16" width="2" height="2"/><rect x="70" y="16" width="2" height="2"/><rect x="76" y="16" width="4" height="2"/><rect x="82" y="16" width="4" height="2"/><rect x="90" y="16" width="4" height="2"/><rect x="98" y="16" width="8" height="2"/><rect x="108" y="16" width="6" height="2"/><rect x="116" y="16" width="2" height="2"/><rect x="120" y="16" width="4" height="2"/><rect x="128" y="16" width="4" height="2"/><rect x="138" y="16" width="6" height="2"/><rect x="146" y="16" width="2" height="2"/><rect x="156" y="16" width="4" height="2"/><rect x="2" y="18" width="2" height="2"/><rect x="8" y="18" width="2" height="2"/><rect x="14" y="18" width="4" height="2"/><rect x="20" y="18" width="4" height="2"/><rect x="34" y="18" width="8" height="2"/><rect x="48" y="18" width="2" height="2"/><rect x="52" y="18" width="6" height="2"/><rect x="60" y="18" width="6" height="2"/><rect x="68" y="18" width="8" height="2"/><rect x="78" y="18" width="4" height="2"/><rect x="84" y="18" width="4" height="2"/><rect x="94" y="18" width="2" height="2"/><rect x="100" y="18" width="2" height="2"/><rect x="104" y="18" width="4" height="2"/><rect x="112" y="18" width="8" height="2"/><rect x="122" y="18" width="2" height="2"/><rect x="130" y="18" width="8" height="2"/><rect x="142" y="18" width="4" height="2"/><rect x="148" y="18" width="2" height="2"/><rect x="154" y="18" width="6" height="2"/><rect x="0" y="20" width="6" height="2"/><rect x="8" y="20" width="4" height="2"/><rect x="14" y="20" width="4" height="2"/><rect x="20" y="20" width="2" height="2"/><rect x="28" y="20" width="4" height="2"/><rect x="34" y="20" width="2" height="2"/><rect x="38" y="20" width="2" height="2"/><rect x="42" y="20" width="6" height="2"/><rect x="50" y="20" width="2" height="2"/><rect x="54" y="20" width="8" height="2"/><rect x="64" y="20" width="6" height="2"/><rect x="72" y="20" width="2" height="2"/><rect x="76" y="20" width="2" height="2"/><rect x="80" y="20" width="4" height="2"/><rect x="88" y="20" width="2" height="2"/><rect x="94" y="20" width="4" height="2"/><rect x="106" y="20" width="2" height="2"/><rect x="112" y="20" width="2" height="2"/><rect x="116" y="20" width="4" height="2"/><rect x="122" y="20" width="2" height="2"/><rect x="126" y="20" width="4" height="2"/><rect x="132" y="20" width="2" height="2"/><rect x="136" y="20" width="2" height="2"/><rect x="140" y="20" width="6" height="2"/><rect x="148" y="20" width="4" height="2"/><rect x="156" y="20" width="4" height="2"/><rect x="0" y="22" width="4" height="2"/><rect x="12" y="22" width="8" height="2"/><rect x="22" y="22" width="2" height="2"/><rect x="26" y="22" width="6" height="2"/><rect x="34" y="22" width="4" height="2"/><rect x="40" y="22" width="4" height="2"/><rect x="46" y="22" width="2" height="2"/><rect x="50" y="22" width="8" height="2"/><rect x="62" y="22" width="4" height="2"/><rect x="68" y="22" width="2" height="2"/><rect x="74" y="22" width="2" height="2"/><rect x="78" y="22" width="4" height="2"/><rect x="88" y="22" width="8" height="2"/><rect x="100" y="22" width="4" height="2"/><rect x="108" y="22" width="4" height="2"/><rect x="116" y="22" width="8" height="2"/><rect x="126" y="22" width="8" height="2"/><rect x="140" y="22" width="4" height="2"/><rect x="146" y="22" width="2" height="2"/><rect x="154" y="22" width="2" height="2"/><rect x="2" y="24" width="2" height="2"/><rect x="8" y="24" width="6" height="2"/><rect x="18" y="24" width="6" height="2"/><rect x="26" y="24" width="2" height="2"/><rect x="32" y="24" width="2" height="2"/><rect x="38" y="24" width="6" height="2"/><rect x="52" y="24" width="2" height="2"/><rect x="62" y="24" width="2" height="2"/><rect x="66" y="24" width="6" height="2"/><rect x="78" y="24" width="4" height="2"/><rect x="86" y="24" width="2" height="2"/><rect x="92" y="24" width="8" height="2"/><rect x="106" y="24" width="4" height="2"/><rect x="116" y="24" width="6" height="2"/><rect x="124" y="24" width="8" height="2"/><rect x="134" y="24" width="8" height="2"/><rect x="144" y="24" width="8" height="2"/><rect x="156" y="24" width="4" height="2"/><rect x="0" y="26" width="4" height="2"/><rect x="6" y="26" width="4" height="2"/><rect x="12" y="26" width="2" height="2"/><rect x="18" y="26" width="2" height="2"/><rect x="22" y="26" width="2" height="2"/><rect x="26" y="26" width="4" height="2"/><rect x="32" y="26" width="8" height="2"/><rect x="42" y="26" width="2" height="2"/><rect x="46" y="26" width="6" height="2"/><rect x="56" y="26" width="4" height="2"/><rect x="62" y="26" width="6" height="2"/><rect x="70" y="26" width="4" height="2"/><rect x="76" y="26" width="8" height="2"/><rect x="86" y="26" width="4" height="2"/><rect x="92" y="26" width="2" height="2"/><rect x="96" y="26" width="8" height="2"/><rect x="106" y="26" width="4" height="2"/><rect x="116" y="26" width="2" height="2"/><rect x="120" y="26" width="2" height="2"/><rect x="124" y="26" width="4" height="2"/><rect x="130" y="26" width="2" height="2"/><rect x="134" y="26" width="4" height="2"/><rect x="140" y="26" width="8" height="2"/><rect x="152" y="26" width="8" height="2"/><rect x="0" y="28" width="8" height="2"/><rect x="10" y="28" width="8" height="2"/><rect x="22" y="28" width="4" height="2"/><rect x="30" y="28" width="2" height="2"/><rect x="34" y="28" width="6" height="2"/><rect x="42" y="28" width="8" height="2"/><rect x="60" y="28" width="2" height="2"/><rect x="64" y="28" width="4" height="2"/><rect x="74" y="28" width="2" height="2"/><rect x="78" y="28" width="4" height="2"/><rect x="84" y="28" width="2" height="2"/><rect x="92" y="28" width="8" height="2"/><rect x="102" y="28" width="4" height="2"/><rect x="108" y="28" width="2" height="2"/><rect x="112" y="28" width="2" height="2"/><rect x="116" y="28" width="8" height="2"/><rect x="126" y="28" width="2" height="2"/><rect x="132" y="28" width="4" height="2"/><rect x="138" y="28" width="4" height="2"/><rect x="144" y="28" width="4" height="2"/><rect x="150" y="28" width="2" height="2"/><rect x="154" y="28" width="6" height="2"/><rect x="0" y="30" width="6" height="2"/><rect x="10" y="30" width="6" height="2"/><rect x="24" y="30" width="2" height="2"/><rect x="28" y="30" width="2" height="2"/><rect x="34" y="30" width="4" height="2"/><rect x="40" y="30" width="2" height="2"/><rect x="44" y="30" width="8" height="2"/><rect x="54" y="30" width="4" height="2"/><rect x="60" y="30" width="4" height="2"/><rect x="66" y="30" width="8" height="2"/><rect x="76" y="30" width="2" height="2"/><rect x="80" y="30" width="2" height="2"/><rect x="90" y="30" width="2" height="2"/><rect x="98" y="30" width="4" height="2"/><rect x="106" y="30" width="8" height="2"/><rect x="116" y="30" width="4" height="2"/><rect x="122" y="30" width="6" height="2"/><rect x="130" y="30" width="2" height="2"/><rect x="134" y="30" width="2" height="2"/><rect x="138" y="30" width="6" height="2"/><rect x="146" y="30" width="4" height="2"/><rect x="152" y="30" width="4" height="2"/><rect x="158" y="30" width="2" height="2"/><rect x="0" y="32" width="2" height="2"/><rect x="4" y="32" width="2" height="2"/><rect x="10" y="32" width="2" height="2"/><rect x="14" y="32" width="6" height="2"/><rect x="26" y="32" width="2" height="2"/><rect x="32" y="32" width="4" height="2"/><rect x="38" y="32" width="2" height="2"/><rect x="42" y="32" width="2" height="2"/><rect x="46" y="32" width="2" height="2"/><rect x="52" y="32" width="2" height="2"/><rect x="58" y="32" width="2" height="2"/><rect x="62" y="32" width="4" height="2"/><rect x="68" y="32" width="2" height="2"/><rect x="72" y="32" width="4" height="2"/><rect x="84" y="32" width="2" height="2"/><rect x="88" y="32" width="4" height="2"/><rect x="94" y="32" width="2" height="2"/><rect x="100" y="32" width="6" height="2"/><rect x="110" y="32" width="8" height="2"/><rect x="120" y="32" width="4" height="2"/><rect x="128" y="32" width="8" height="2"/><rect x="140" y="32" width="4" height="2"/><rect x="146" y="32" width="2" height="2"/><rect x="150" y="32" width="4" height="2"/><rect x="156" y="32" width="4" height="2"/><rect x="0" y="34" width="2" height="2"/><rect x="8" y="34" width="4" height="2"/><rect x="14" y="34" width="6" height="2"/><rect x="26" y="34" width="8" height="2"/><rect x="40" y="34" width="4" height="2"/><rect x="46" y="34" width="8" height="2"/><rect x="58" y="34" width="2" height="2"/><rect x="62" y="34" width="4" height="2"/><rect x="68" y="34" width="4" height="2"/><rect x="74" y="34" width="2" height="2"/><rect x="86" y="34" width="2" height="2"/><rect x="90" y="34" width="6" height="2"/><rect x="98" y="34" width="2" height="2"/><rect x="106" y="34" width="4" height="2"/><rect x="112" y="34" width="2" height="2"/><rect x="116" y="34" width="6" height="2"/><rect x="124" y="34" width="4" height="2"/><rect x="130" y="34" width="2" height="2"/><rect x="142" y="34" width="8" height="2"/><rect x="152" y="34" width="6" height="2"/><rect x="4" y="36" width="4" height="2"/><rect x="16" y="36" width="2" height="2"/><rect x="26" y="36" width="2" height="2"/><rect x="30" y="36" width="8" height="2"/><rect x="42" y="36" width="6" height="2"/><rect x="50" y="36" width="6" height="2"/><rect x="58" y="36" width="4" height="2"/><rect x="64" y="36" width="4" height="2"/><rect x="70" y="36" width="2" height="2"/><rect x="78" y="36" width="4" height="2"/><rect x="88" y="36" width="2" height="2"/><rect x="94" y="36" width="2" height="2"/><rect x="98" y="36" width="6" height="2"/><rect x="108" y="36" width="2" height="2"/><rect x="112" y="36" width="2" height="2"/><rect x="116" y="36" width="4" height="2"/><rect x="122" y="36" width="8" height="2"/><rect x="134" y="36" width="6" height="2"/><rect x="142" y="36" width="6" height="2"/><rect x="156" y="36" width="2" height="2"/><rect x="0" y="38" width="4" height="2"/><rect x="8" y="38" width="2" height="2"/><rect x="12" y="38" width="8" height="2"/><rect x="22" y="38" width="4" height="2"/><rect x="28" y="38" width="4" height="2"/><rect x="34" y="38" width="2" height="2"/><rect x="38" y="38" width="4" height="2"/><rect x="44" y="38" width="4" height="2"/><rect x="54" y="38" width="4" height="2"/><rect x="62" y="38" width="4" height="2"/><rect x="70" y="38" width="2" height="2"/><rect x="74" y="38" width="4" height="2"/><rect x="80" y="38" width="4" height="2"/><rect x="86" y="38" width="8" height="2"/><rect x="96" y="38" width="8" height="2"/><rect x="106" y="38" width="2" height="2"/><rect x="110" y="38" width="2" height="2"/><rect x="116" y="38" width="2" height="2"/><rect x="122" y="38" width="2" height="2"/><rect x="126" y="38" width="2" height="2"/><rect x="132" y="38" width="4" height="2"/><rect x="140" y="38" width="4" height="2"/><rect x="148" y="38" width="4" height="2"/><rect x="154" y="38" width="2" height="2"/><rect x="158" y="38" width="2" height="2"/><rect x="2" y="40" width="6" height="2"/><rect x="10" y="40" width="2" height="2"/><rect x="16" y="40" width="8" height="2"/><rect x="26" y="40" width="2" height="2"/><rect x="38" y="40" width="2" height="2"/><rect x="42" y="40" width="4" height="2"/><rect x="48" y="40" width="2" height="2"/><rect x="52" y="40" width="4" height="2"/><rect x="62" y="40" width="4" height="2"/><rect x="68" y="40" width="4" height="2"/><rect x="74" y="40" width="6" height="2"/><rect x="86" y="40" width="2" height="2"/><rect x="92" y="40" width="4" height="2"/><rect x="98" y="40" width="2" height="2"/><rect x="104" y="40" width="2" height="2"/><rect x="108" y="40" width="6" height="2"/><rect x="116" y="40" width="2" height="2"/><rect x="120" y="40" width="2" height="2"/><rect x="124" y="40" width="8" height="2"/><rect x="134" y="40" width="6" height="2"/><rect x="144" y="40" width="2" height="2"/><rect x="150" y="40" width="6" height="2"/><rect x="2" y="42" width="2" height="2"/><rect x="6" y="42" width="4" height="2"/><rect x="12" y="42" width="6" height="2"/><rect x="26" y="42" width="2" height="2"/><rect x="30" y="42" width="6" height="2"/><rect x="38" y="42" width="4" height="2"/><rect x="44" y="42" width="4" height="2"/><rect x="50" y="42" width="4" height="2"/><rect x="58" y="42" width="2" height="2"/><rect x="64" y="42" width="8" height="2"/><rect x="76" y="42" width="8" height="2"/><rect x="88" y="42" width="6" height="2"/><rect x="98" y="42" width="2" height="2"/><rect x="102" y="42" width="2" height="2"/><rect x="106" y="42" width="8" height="2"/><rect x="120" y="42" width="2" height="2"/><rect x="124" y="42" width="6" height="2"/><rect x="132" y="42" width="8" height="2"/><rect x="142" y="42" width="6" height="2"/><rect x="154" y="42" width="4" height="2"/><rect x="0" y="44" width="6" height="2"/><rect x="8" y="44" width="4" height="2"/><rect x="14" y="44" width="8" height="2"/><rect x="24" y="44" width="4" height="2"/><rect x="30" y="44" width="8" height="2"/><rect x="44" y="44" width="8" height="2"/><rect x="58" y="44" width="4" height="2"/><rect x="66" y="44" width="6" height="2"/><rect x="74" y="44" width="2" height="2"/><rect x="78" y="44" width="4" height="2"/><rect x="84" y="44" width="8" height="2"/><rect x="94" y="44" width="4" height="2"/><rect x="100" y="44" width="4" height="2"/><rect x="114" y="44" width="8" height="2"/><rect x="128" y="44" width="4" height="2"/><rect x="134" y="44" width="2" height="2"/><rect x="140" y="44" width="4" height="2"/><rect x="146" y="44" width="4" height="2"/><rect x="152" y="44" width="2" height="2"/><rect x="158" y="44" width="2" height="2"/><rect x="0" y="46" width="4" height="2"/><rect x="6" y="46" width="4" height="2"/><rect x="12" y="46" width="4" height="2"/><rect x="18" y="46" width="6" height="2"/><rect x="26" y="46" width="4" height="2"/><rect x="32" y="46" width="4" height="2"/><rect x="40" y="46" width="4" height="2"/><rect x="46" y="46" width="2" height="2"/><rect x="50" y="46" width="2" height="2"/><rect x="56" y="46" width="4" height="2"/><rect x="62" y="46" width="6" height="2"/><rect x="70" y="46" width="6" height="2"/><rect x="78" y="46" width="2" height="2"/><rect x="84" y="46" width="2" height="2"/><rect x="88" y="46" width="2" height="2"/><rect x="94" y="46" width="6" height="2"/><rect x="102" y="46" width="8" height="2"/><rect x="112" y="46" width="4" height="2"/><rect x="120" y="46" width="6" height="2"/><rect x="128" y="46" width="4" height="2"/><rect x="134" y="46" width="2" height="2"/><rect x="138" y="46" width="4" height="2"/><rect x="144" y="46" width="8" height="2"/><rect x="156" y="46" width="2" height="2"/></g></pattern><pattern id="sp5" width="160" height="48" patternUnits="userSpaceOnUse"><g fill="#d3d3d3"><rect x="0" y="0" width="2" height="2"/><rect x="6" y="0" width="8" height="2"/><rect x="16" y="0" width="2" height="2"/><rect x="20" y="0" width="2" height="2"/><rect x="24" y="0" width="2" height="2"/><rect x="28" y="0" width="4" height="2"/><rect x="34" y="0" width="2" height="2"/><rect x="40" y="0" width="2" height="2"/><rect x="44" y="0" width="2" height="2"/><rect x="48" y="0" width="6" height="2"/><rect x="56" y="0" width="4" height="2"/><rect x="62" y="0" width="2" height="2"/><rect x="66" y="0" width="4" height="2"/><rect x="72" y="0" width="8" height="2"/><rect x="82" y="0" width="6" height="2"/><rect x="92" y="0" width="2" height="2"/><rect x="98" y="0" width="2" height="2"/><rect x="102" y="0" width="8" height="2"/><rect x="112" y="0" width="2" height="2"/><rect x="116" y="0" width="6" height="2"/><rect x="124" y="0" width="6" height="2"/><rect x="134" y="0" width="2" height="2"/><rect x="138" y="0" width="8" height="2"/><rect x="148" y="0" width="4" height="2"/><rect x="154" y="0" width="2" height="2"/><rect x="2" y="2" width="4" height="2"/><rect x="8" y="2" width="2" height="2"/><rect x="12" y="2" width="8" height="2"/><rect x="24" y="2" width="2" height="2"/><rect x="28" y="2" width="2" height="2"/><rect x="34" y="2" width="2" height="2"/><rect x="38" y="2" width="4" height="2"/><rect x="44" y="2" width="2" height="2"/><rect x="48" y="2" width="4" height="2"/><rect x="56" y="2" width="6" height="2"/><rect x="64" y="2" width="2" height="2"/><rect x="68" y="2" width="4" height="2"/><rect x="76" y="2" width="8" height="2"/><rect x="88" y="2" width="2" height="2"/><rect x="92" y="2" width="8" height="2"/><rect x="102" y="2" width="4" height="2"/><rect x="110" y="2" width="2" height="2"/><rect x="114" y="2" width="2" height="2"/><rect x="120" y="2" width="6" height="2"/><rect x="128" y="2" width="6" height="2"/><rect x="136" y="2" width="4" height="2"/><rect x="142" y="2" width="4" height="2"/><rect x="148" y="2" width="2" height="2"/><rect x="152" y="2" width="4" height="2"/><rect x="158" y="2" width="2" height="2"/><rect x="0" y="4" width="6" height="2"/><rect x="14" y="4" width="4" height="2"/><rect x="22" y="4" width="4" height="2"/><rect x="28" y="4" width="2" height="2"/><rect x="32" y="4" width="2" height="2"/><rect x="36" y="4" width="6" height="2"/><rect x="44" y="4" width="8" height="2"/><rect x="54" y="4" width="2" height="2"/><rect x="58" y="4" width="2" height="2"/><rect x="62" y="4" width="4" height="2"/><rect x="68" y="4" width="2" height="2"/><rect x="72" y="4" width="4" height="2"/><rect x="80" y="4" width="6" height="2"/><rect x="90" y="4" width="2" height="2"/><rect x="94" y="4" width="6" height="2"/><rect x="102" y="4" width="2" height="2"/><rect x="106" y="4" width="2" height="2"/><rect x="110" y="4" width="2" height="2"/><rect x="114" y="4" width="4" height="2"/><rect x="120" y="4" width="4" height="2"/><rect x="126" y="4" width="4" height="2"/><rect x="132" y="4" width="2" height="2"/><rect x="136" y="4" width="2" height="2"/><rect x="140" y="4" width="4" height="2"/><rect x="148" y="4" width="4" height="2"/><rect x="154" y="4" width="4" height="2"/><rect x="2" y="6" width="2" height="2"/><rect x="6" y="6" width="4" height="2"/><rect x="12" y="6" width="2" height="2"/><rect x="16" y="6" width="2" height="2"/><rect x="22" y="6" width="6" height="2"/><rect x="30" y="6" width="4" height="2"/><rect x="38" y="6" width="2" height="2"/><rect x="42" y="6" width="6" height="2"/><rect x="50" y="6" width="2" height="2"/><rect x="54" y="6" width="4" height="2"/><rect x="60" y="6" width="4" height="2"/><rect x="66" y="6" width="4" height="2"/><rect x="76" y="6" width="2" height="2"/><rect x="80" y="6" width="6" height="2"/><rect x="88" y="6" width="8" height="2"/><rect x="98" y="6" width="6" height="2"/><rect x="106" y="6" width="8" height="2"/><rect x="116" y="6" width="4" height="2"/><rect x="122" y="6" width="2" height="2"/><rect x="126" y="6" width="6" height="2"/><rect x="134" y="6" width="2" height="2"/><rect x="138" y="6" width="4" height="2"/><rect x="146" y="6" width="8" height="2"/><rect x="156" y="6" width="4" height="2"/><rect x="0" y="8" width="4" height="2"/><rect x="6" y="8" width="6" height="2"/><rect x="14" y="8" width="2" height="2"/><rect x="18" y="8" width="4" height="2"/><rect x="24" y="8" width="4" height="2"/><rect x="30" y="8" width="2" height="2"/><rect x="34" y="8" width="2" height="2"/><rect x="38" y="8" width="4" height="2"/><rect x="44" y="8" width="2" height="2"/><rect x="48" y="8" width="2" height="2"/><rect x="52" y="8" width="4" height="2"/><rect x="58" y="8" width="6" height="2"/><rect x="66" y="8" width="6" height="2"/><rect x="74" y="8" width="2" height="2"/><rect x="78" y="8" width="6" height="2"/><rect x="88" y="8" width="2" height="2"/><rect x="92" y="8" width="8" height="2"/><rect x="104" y="8" width="2" height="2"/><rect x="108" y="8" width="8" height="2"/><rect x="122" y="8" width="4" height="2"/><rect x="128" y="8" width="2" height="2"/><rect x="132" y="8" width="6" height="2"/><rect x="140" y="8" width="2" height="2"/><rect x="144" y="8" width="6" height="2"/><rect x="154" y="8" width="4" height="2"/><rect x="2" y="10" width="6" height="2"/><rect x="10" y="10" width="4" height="2"/><rect x="20" y="10" width="8" height="2"/><rect x="32" y="10" width="2" height="2"/><rect x="36" y="10" width="2" height="2"/><rect x="40" y="10" width="6" height="2"/><rect x="48" y="10" width="4" height="2"/><rect x="54" y="10" width="2" height="2"/><rect x="58" y="10" width="2" height="2"/><rect x="62" y="10" width="6" height="2"/><rect x="70" y="10" width="2" height="2"/><rect x="74" y="10" width="4" height="2"/><rect x="80" y="10" width="4" height="2"/><rect x="86" y="10" width="4" height="2"/><rect x="92" y="10" width="4" height="2"/><rect x="98" y="10" width="6" height="2"/><rect x="106" y="10" width="2" height="2"/><rect x="110" y="10" width="4" height="2"/><rect x="116" y="10" width="2" height="2"/><rect x="120" y="10" width="4" height="2"/><rect x="128" y="10" width="8" height="2"/><rect x="138" y="10" width="2" height="2"/><rect x="142" y="10" width="2" height="2"/><rect x="148" y="10" width="2" height="2"/><rect x="156" y="10" width="4" height="2"/><rect x="0" y="12" width="6" height="2"/><rect x="8" y="12" width="8" height="2"/><rect x="18" y="12" width="8" height="2"/><rect x="28" y="12" width="2" height="2"/><rect x="32" y="12" width="6" height="2"/><rect x="42" y="12" width="2" height="2"/><rect x="46" y="12" width="6" height="2"/><rect x="54" y="12" width="8" height="2"/><rect x="64" y="12" width="2" height="2"/><rect x="68" y="12" width="6" height="2"/><rect x="78" y="12" width="2" height="2"/><rect x="82" y="12" width="2" height="2"/><rect x="86" y="12" width="2" height="2"/><rect x="90" y="12" width="6" height="2"/><rect x="100" y="12" width="4" height="2"/><rect x="108" y="12" width="2" height="2"/><rect x="112" y="12" width="4" height="2"/><rect x="118" y="12" width="6" height="2"/><rect x="126" y="12" width="6" height="2"/><rect x="134" y="12" width="4" height="2"/><rect x="140" y="12" width="6" height="2"/><rect x="150" y="12" width="4" height="2"/><rect x="156" y="12" width="2" height="2"/><rect x="0" y="14" width="4" height="2"/><rect x="6" y="14" width="2" height="2"/><rect x="12" y="14" width="2" height="2"/><rect x="22" y="14" width="6" height="2"/><rect x="30" y="14" width="2" height="2"/><rect x="34" y="14" width="2" height="2"/><rect x="38" y="14" width="2" height="2"/><rect x="44" y="14" width="4" height="2"/><rect x="56" y="14" width="6" height="2"/><rect x="66" y="14" width="8" height="2"/><rect x="76" y="14" width="4" height="2"/><rect x="84" y="14" width="4" height="2"/><rect x="90" y="14" width="4" height="2"/><rect x="98" y="14" width="2" height="2"/><rect x="102" y="14" width="6" height="2"/><rect x="110" y="14" width="8" height="2"/><rect x="120" y="14" width="4" height="2"/><rect x="126" y="14" width="8" height="2"/><rect x="136" y="14" width="4" height="2"/><rect x="144" y="14" width="6" height="2"/><rect x="152" y="14" width="2" height="2"/><rect x="156" y="14" width="4" height="2"/><rect x="0" y="16" width="2" height="2"/><rect x="4" y="16" width="4" height="2"/><rect x="12" y="16" width="4" height="2"/><rect x="18" y="16" width="6" height="2"/><rect x="26" y="16" width="8" height="2"/><rect x="36" y="16" width="6" height="2"/><rect x="44" y="16" width="4" height="2"/><rect x="50" y="16" width="4" height="2"/><rect x="58" y="16" width="4" height="2"/><rect x="64" y="16" width="6" height="2"/><rect x="72" y="16" width="2" height="2"/><rect x="76" y="16" width="8" height="2"/><rect x="86" y="16" width="2" height="2"/><rect x="90" y="16" width="4" height="2"/><rect x="96" y="16" width="2" height="2"/><rect x="100" y="16" width="8" height="2"/><rect x="112" y="16" width="6" height="2"/><rect x="120" y="16" width="6" height="2"/><rect x="128" y="16" width="2" height="2"/><rect x="132" y="16" width="6" height="2"/><rect x="140" y="16" width="4" height="2"/><rect x="146" y="16" width="2" height="2"/><rect x="150" y="16" width="2" height="2"/><rect x="156" y="16" width="4" height="2"/><rect x="0" y="18" width="4" height="2"/><rect x="6" y="18" width="2" height="2"/><rect x="10" y="18" width="4" height="2"/><rect x="16" y="18" width="4" height="2"/><rect x="22" y="18" width="6" height="2"/><rect x="32" y="18" width="6" height="2"/><rect x="40" y="18" width="2" height="2"/><rect x="44" y="18" width="4" height="2"/><rect x="50" y="18" width="4" height="2"/><rect x="56" y="18" width="8" height="2"/><rect x="68" y="18" width="4" height="2"/><rect x="76" y="18" width="6" height="2"/><rect x="84" y="18" width="4" height="2"/><rect x="92" y="18" width="8" height="2"/><rect x="102" y="18" width="4" height="2"/><rect x="108" y="18" width="6" height="2"/><rect x="116" y="18" width="8" height="2"/><rect x="126" y="18" width="4" height="2"/><rect x="132" y="18" width="4" height="2"/><rect x="138" y="18" width="2" height="2"/><rect x="142" y="18" width="6" height="2"/><rect x="150" y="18" width="8" height="2"/><rect x="0" y="20" width="2" height="2"/><rect x="6" y="20" width="2" height="2"/><rect x="12" y="20" width="8" height="2"/><rect x="22" y="20" width="6" height="2"/><rect x="30" y="20" width="2" height="2"/><rect x="36" y="20" width="4" height="2"/><rect x="44" y="20" width="6" height="2"/><rect x="52" y="20" width="2" height="2"/><rect x="58" y="20" width="4" height="2"/><rect x="64" y="20" width="2" height="2"/><rect x="68" y="20" width="2" height="2"/><rect x="74" y="20" width="4" height="2"/><rect x="84" y="20" width="2" height="2"/><rect x="88" y="20" width="6" height="2"/><rect x="96" y="20" width="4" height="2"/><rect x="110" y="20" width="2" height="2"/><rect x="114" y="20" width="4" height="2"/><rect x="122" y="20" width="6" height="2"/><rect x="130" y="20" width="2" height="2"/><rect x="134" y="20" width="2" height="2"/><rect x="138" y="20" width="4" height="2"/><rect x="144" y="20" width="2" height="2"/><rect x="148" y="20" width="4" height="2"/><rect x="154" y="20" width="4" height="2"/><rect x="2" y="22" width="2" height="2"/><rect x="8" y="22" width="8" height="2"/><rect x="18" y="22" width="4" height="2"/><rect x="24" y="22" width="2" height="2"/><rect x="28" y="22" width="6" height="2"/><rect x="36" y="22" width="8" height="2"/><rect x="46" y="22" width="2" height="2"/><rect x="50" y="22" width="2" height="2"/><rect x="56" y="22" width="8" height="2"/><rect x="66" y="22" width="6" height="2"/><rect x="74" y="22" width="8" height="2"/><rect x="84" y="22" width="4" height="2"/><rect x="90" y="22" width="4" height="2"/><rect x="96" y="22" width="4" height="2"/><rect x="102" y="22" width="2" height="2"/><rect x="106" y="22" width="6" height="2"/><rect x="114" y="22" width="4" height="2"/><rect x="122" y="22" width="4" height="2"/><rect x="128" y="22" width="2" height="2"/><rect x="132" y="22" width="8" height="2"/><rect x="144" y="22" width="6" height="2"/><rect x="152" y="22" width="8" height="2"/><rect x="0" y="24" width="2" height="2"/><rect x="4" y="24" width="2" height="2"/><rect x="10" y="24" width="4" height="2"/><rect x="16" y="24" width="2" height="2"/><rect x="20" y="24" width="6" height="2"/><rect x="28" y="24" width="6" height="2"/><rect x="36" y="24" width="6" height="2"/><rect x="44" y="24" width="4" height="2"/><rect x="52" y="24" width="2" height="2"/><rect x="56" y="24" width="4" height="2"/><rect x="62" y="24" width="2" height="2"/><rect x="66" y="24" width="2" height="2"/><rect x="70" y="24" width="4" height="2"/><rect x="76" y="24" width="8" height="2"/><rect x="86" y="24" width="4" height="2"/><rect x="92" y="24" width="6" height="2"/><rect x="100" y="24" width="4" height="2"/><rect x="108" y="24" width="8" height="2"/><rect x="118" y="24" width="4" height="2"/><rect x="128" y="24" width="6" height="2"/><rect x="136" y="24" width="4" height="2"/><rect x="148" y="24" width="2" height="2"/><rect x="152" y="24" width="6" height="2"/><rect x="2" y="26" width="4" height="2"/><rect x="8" y="26" width="4" height="2"/><rect x="14" y="26" width="6" height="2"/><rect x="22" y="26" width="2" height="2"/><rect x="26" y="26" width="2" height="2"/><rect x="30" y="26" width="6" height="2"/><rect x="38" y="26" width="2" height="2"/><rect x="42" y="26" width="6" height="2"/><rect x="50" y="26" width="2" height="2"/><rect x="54" y="26" width="8" height="2"/><rect x="66" y="26" width="2" height="2"/><rect x="70" y="26" width="8" height="2"/><rect x="80" y="26" width="6" height="2"/><rect x="88" y="26" width="2" height="2"/><rect x="92" y="26" width="8" height="2"/><rect x="102" y="26" width="8" height="2"/><rect x="112" y="26" width="8" height="2"/><rect x="122" y="26" width="6" height="2"/><rect x="130" y="26" width="4" height="2"/><rect x="136" y="26" width="2" height="2"/><rect x="140" y="26" width="8" height="2"/><rect x="152" y="26" width="8" height="2"/><rect x="0" y="28" width="2" height="2"/><rect x="4" y="28" width="4" height="2"/><rect x="10" y="28" width="4" height="2"/><rect x="16" y="28" width="8" height="2"/><rect x="26" y="28" width="4" height="2"/><rect x="32" y="28" width="4" height="2"/><rect x="38" y="28" width="4" height="2"/><rect x="44" y="28" width="4" height="2"/><rect x="50" y="28" width="4" height="2"/><rect x="56" y="28" width="8" height="2"/><rect x="66" y="28" width="2" height="2"/><rect x="70" y="28" width="4" height="2"/><rect x="76" y="28" width="6" height="2"/><rect x="84" y="28" width="2" height="2"/><rect x="88" y="28" width="2" height="2"/><rect x="92" y="28" width="4" height="2"/><rect x="98" y="28" width="2" height="2"/><rect x="102" y="28" width="2" height="2"/><rect x="106" y="28" width="6" height="2"/><rect x="114" y="28" width="8" height="2"/><rect x="124" y="28" width="4" height="2"/><rect x="130" y="28" width="6" height="2"/><rect x="138" y="28" width="8" height="2"/><rect x="148" y="28" width="8" height="2"/><rect x="158" y="28" width="2" height="2"/><rect x="0" y="30" width="6" height="2"/><rect x="8" y="30" width="6" height="2"/><rect x="16" y="30" width="6" height="2"/><rect x="24" y="30" width="4" height="2"/><rect x="30" y="30" width="8" height="2"/><rect x="40" y="30" width="2" height="2"/><rect x="44" y="30" width="4" height="2"/><rect x="50" y="30" width="4" height="2"/><rect x="56" y="30" width="6" height="2"/><rect x="64" y="30" width="8" height="2"/><rect x="74" y="30" width="6" height="2"/><rect x="82" y="30" width="6" height="2"/><rect x="92" y="30" width="2" height="2"/><rect x="96" y="30" width="8" height="2"/><rect x="106" y="30" width="4" height="2"/><rect x="114" y="30" width="4" height="2"/><rect x="120" y="30" width="8" height="2"/><rect x="132" y="30" width="6" height="2"/><rect x="140" y="30" width="2" height="2"/><rect x="144" y="30" width="2" height="2"/><rect x="148" y="30" width="2" height="2"/><rect x="152" y="30" width="4" height="2"/><rect x="158" y="30" width="2" height="2"/><rect x="0" y="32" width="4" height="2"/><rect x="6" y="32" width="4" height="2"/><rect x="12" y="32" width="4" height="2"/><rect x="18" y="32" width="4" height="2"/><rect x="24" y="32" width="6" height="2"/><rect x="34" y="32" width="2" height="2"/><rect x="40" y="32" width="6" height="2"/><rect x="48" y="32" width="2" height="2"/><rect x="52" y="32" width="2" height="2"/><rect x="56" y="32" width="4" height="2"/><rect x="62" y="32" width="4" height="2"/><rect x="68" y="32" width="4" height="2"/><rect x="74" y="32" width="4" height="2"/><rect x="80" y="32" width="4" height="2"/><rect x="86" y="32" width="8" height="2"/><rect x="102" y="32" width="6" height="2"/><rect x="110" y="32" width="2" height="2"/><rect x="114" y="32" width="2" height="2"/><rect x="118" y="32" width="6" height="2"/><rect x="126" y="32" width="2" height="2"/><rect x="130" y="32" width="4" height="2"/><rect x="136" y="32" width="6" height="2"/><rect x="144" y="32" width="2" height="2"/><rect x="150" y="32" width="6" height="2"/><rect x="158" y="32" width="2" height="2"/><rect x="0" y="34" width="2" height="2"/><rect x="4" y="34" width="6" height="2"/><rect x="12" y="34" width="2" height="2"/><rect x="16" y="34" width="4" height="2"/><rect x="22" y="34" width="2" height="2"/><rect x="28" y="34" width="2" height="2"/><rect x="32" y="34" width="4" height="2"/><rect x="38" y="34" width="4" height="2"/><rect x="44" y="34" width="6" height="2"/><rect x="52" y="34" width="2" height="2"/><rect x="56" y="34" width="4" height="2"/><rect x="64" y="34" width="8" height="2"/><rect x="74" y="34" width="4" height="2"/><rect x="82" y="34" width="4" height="2"/><rect x="88" y="34" width="6" height="2"/><rect x="96" y="34" width="4" height="2"/><rect x="102" y="34" width="4" height="2"/><rect x="108" y="34" width="8" height="2"/><rect x="118" y="34" width="4" height="2"/><rect x="124" y="34" width="6" height="2"/><rect x="132" y="34" width="2" height="2"/><rect x="138" y="34" width="2" height="2"/><rect x="144" y="34" width="8" height="2"/><rect x="154" y="34" width="6" height="2"/><rect x="0" y="36" width="8" height="2"/><rect x="10" y="36" width="4" height="2"/><rect x="16" y="36" width="4" height="2"/><rect x="22" y="36" width="4" height="2"/><rect x="28" y="36" width="4" height="2"/><rect x="34" y="36" width="2" height="2"/><rect x="38" y="36" width="6" height="2"/><rect x="46" y="36" width="2" height="2"/><rect x="50" y="36" width="4" height="2"/><rect x="56" y="36" width="4" height="2"/><rect x="62" y="36" width="6" height="2"/><rect x="70" y="36" width="2" height="2"/><rect x="74" y="36" width="2" height="2"/><rect x="78" y="36" width="4" height="2"/><rect x="84" y="36" width="2" height="2"/><rect x="88" y="36" width="8" height="2"/><rect x="98" y="36" width="2" height="2"/><rect x="102" y="36" width="8" height="2"/><rect x="112" y="36" width="6" height="2"/><rect x="122" y="36" width="2" height="2"/><rect x="126" y="36" width="6" height="2"/><rect x="134" y="36" width="4" height="2"/><rect x="140" y="36" width="4" height="2"/><rect x="148" y="36" width="2" height="2"/><rect x="152" y="36" width="2" height="2"/><rect x="158" y="36" width="2" height="2"/><rect x="0" y="38" width="4" height="2"/><rect x="6" y="38" width="4" height="2"/><rect x="14" y="38" width="8" height="2"/><rect x="24" y="38" width="4" height="2"/><rect x="30" y="38" width="6" height="2"/><rect x="40" y="38" width="4" height="2"/><rect x="46" y="38" width="6" height="2"/><rect x="54" y="38" width="4" height="2"/><rect x="60" y="38" width="4" height="2"/><rect x="70" y="38" width="2" height="2"/><rect x="74" y="38" width="8" height="2"/><rect x="84" y="38" width="2" height="2"/><rect x="88" y="38" width="4" height="2"/><rect x="94" y="38" width="4" height="2"/><rect x="100" y="38" width="2" height="2"/><rect x="104" y="38" width="4" height="2"/><rect x="110" y="38" width="4" height="2"/><rect x="116" y="38" width="2" height="2"/><rect x="120" y="38" width="6" height="2"/><rect x="128" y="38" width="4" height="2"/><rect x="134" y="38" width="4" height="2"/><rect x="142" y="38" width="6" height="2"/><rect x="154" y="38" width="4" height="2"/><rect x="0" y="40" width="6" height="2"/><rect x="12" y="40" width="2" height="2"/><rect x="18" y="40" width="2" height="2"/><rect x="22" y="40" width="4" height="2"/><rect x="28" y="40" width="2" height="2"/><rect x="34" y="40" width="2" height="2"/><rect x="38" y="40" width="8" height="2"/><rect x="48" y="40" width="6" height="2"/><rect x="56" y="40" width="4" height="2"/><rect x="64" y="40" width="4" height="2"/><rect x="70" y="40" width="4" height="2"/><rect x="76" y="40" width="2" height="2"/><rect x="80" y="40" width="4" height="2"/><rect x="86" y="40" width="8" height="2"/><rect x="96" y="40" width="2" height="2"/><rect x="100" y="40" width="2" height="2"/><rect x="104" y="40" width="4" height="2"/><rect x="110" y="40" width="2" height="2"/><rect x="114" y="40" width="2" height="2"/><rect x="118" y="40" width="8" height="2"/><rect x="128" y="40" width="6" height="2"/><rect x="136" y="40" width="4" height="2"/><rect x="144" y="40" width="6" height="2"/><rect x="152" y="40" width="6" height="2"/><rect x="0" y="42" width="6" height="2"/><rect x="8" y="42" width="4" height="2"/><rect x="14" y="42" width="2" height="2"/><rect x="18" y="42" width="4" height="2"/><rect x="24" y="42" width="8" height="2"/><rect x="34" y="42" width="6" height="2"/><rect x="42" y="42" width="6" height="2"/><rect x="50" y="42" width="2" height="2"/><rect x="54" y="42" width="6" height="2"/><rect x="64" y="42" width="2" height="2"/><rect x="68" y="42" width="2" height="2"/><rect x="72" y="42" width="2" height="2"/><rect x="76" y="42" width="4" height="2"/><rect x="82" y="42" width="4" height="2"/><rect x="88" y="42" width="4" height="2"/><rect x="94" y="42" width="2" height="2"/><rect x="98" y="42" width="4" height="2"/><rect x="104" y="42" width="6" height="2"/><rect x="114" y="42" width="8" height="2"/><rect x="124" y="42" width="4" height="2"/><rect x="130" y="42" width="2" height="2"/><rect x="136" y="42" width="2" height="2"/><rect x="140" y="42" width="6" height="2"/><rect x="148" y="42" width="4" height="2"/><rect x="154" y="42" width="6" height="2"/><rect x="0" y="44" width="4" height="2"/><rect x="8" y="44" width="2" height="2"/><rect x="14" y="44" width="2" height="2"/><rect x="18" y="44" width="4" height="2"/><rect x="26" y="44" width="4" height="2"/><rect x="32" y="44" width="8" height="2"/><rect x="42" y="44" width="2" height="2"/><rect x="46" y="44" width="8" height="2"/><rect x="56" y="44" width="4" height="2"/><rect x="62" y="44" width="2" height="2"/><rect x="66" y="44" width="4" height="2"/><rect x="74" y="44" width="4" height="2"/><rect x="80" y="44" width="8" height="2"/><rect x="90" y="44" width="2" height="2"/><rect x="94" y="44" width="4" height="2"/><rect x="102" y="44" width="8" height="2"/><rect x="112" y="44" width="6" height="2"/><rect x="120" y="44" width="2" height="2"/><rect x="124" y="44" width="8" height="2"/><rect x="134" y="44" width="2" height="2"/><rect x="138" y="44" width="2" height="2"/><rect x="144" y="44" width="2" height="2"/><rect x="148" y="44" width="2" height="2"/><rect x="152" y="44" width="2" height="2"/><rect x="156" y="44" width="2" height="2"/><rect x="0" y="46" width="2" height="2"/><rect x="4" y="46" width="6" height="2"/><rect x="14" y="46" width="2" height="2"/><rect x="18" y="46" width="4" height="2"/><rect x="24" y="46" width="2" height="2"/><rect x="28" y="46" width="8" height="2"/><rect x="38" y="46" width="8" height="2"/><rect x="48" y="46" width="2" height="2"/><rect x="52" y="46" width="8" height="2"/><rect x="62" y="46" width="8" height="2"/><rect x="72" y="46" width="2" height="2"/><rect x="76" y="46" width="2" height="2"/><rect x="80" y="46" width="8" height="2"/><rect x="90" y="46" width="6" height="2"/><rect x="98" y="46" width="8" height="2"/><rect x="108" y="46" width="4" height="2"/><rect x="114" y="46" width="8" height="2"/><rect x="124" y="46" width="4" height="2"/><rect x="130" y="46" width="6" height="2"/><rect x="138" y="46" width="6" height="2"/><rect x="146" y="46" width="4" height="2"/><rect x="154" y="46" width="6" height="2"/></g></pattern><pattern id="spc" width="160" height="48" patternUnits="userSpaceOnUse"><g fill="#d3d3d3"><rect x="0" y="0" width="4" height="2"/><rect x="8" y="0" width="4" height="2"/><rect x="14" y="0" width="4" height="2"/><rect x="22" y="0" width="4" height="2"/><rect x="30" y="0" width="8" height="2"/><rect x="40" y="0" width="6" height="2"/><rect x="48" y="0" width="6" height="2"/><rect x="56" y="0" width="2" height="2"/><rect x="62" y="0" width="2" height="2"/><rect x="68" y="0" width="4" height="2"/><rect x="74" y="0" width="4" height="2"/><rect x="82" y="0" width="2" height="2"/><rect x="86" y="0" width="4" height="2"/><rect x="92" y="0" width="6" height="2"/><rect x="100" y="0" width="6" height="2"/><rect x="108" y="0" width="2" height="2"/><rect x="112" y="0" width="6" height="2"/><rect x="120" y="0" width="2" height="2"/><rect x="124" y="0" width="8" height="2"/><rect x="136" y="0" width="4" height="2"/><rect x="144" y="0" width="4" height="2"/><rect x="152" y="0" width="2" height="2"/><rect x="156" y="0" width="4" height="2"/><rect x="0" y="2" width="2" height="2"/><rect x="4" y="2" width="8" height="2"/><rect x="14" y="2" width="2" height="2"/><rect x="20" y="2" width="2" height="2"/><rect x="24" y="2" width="6" height="2"/><rect x="32" y="2" width="2" height="2"/><rect x="38" y="2" width="4" height="2"/><rect x="44" y="2" width="4" height="2"/><rect x="52" y="2" width="4" height="2"/><rect x="58" y="2" width="8" height="2"/><rect x="70" y="2" width="2" height="2"/><rect x="74" y="2" width="2" height="2"/><rect x="80" y="2" width="4" height="2"/><rect x="86" y="2" width="4" height="2"/><rect x="92" y="2" width="2" height="2"/><rect x="96" y="2" width="2" height="2"/><rect x="100" y="2" width="4" height="2"/><rect x="106" y="2" width="6" height="2"/><rect x="114" y="2" width="4" height="2"/><rect x="124" y="2" width="2" height="2"/><rect x="128" y="2" width="6" height="2"/><rect x="136" y="2" width="2" height="2"/><rect x="142" y="2" width="6" height="2"/><rect x="150" y="2" width="4" height="2"/><rect x="156" y="2" width="4" height="2"/><rect x="0" y="4" width="8" height="2"/><rect x="10" y="4" width="6" height="2"/><rect x="18" y="4" width="2" height="2"/><rect x="22" y="4" width="2" height="2"/><rect x="28" y="4" width="2" height="2"/><rect x="32" y="4" width="6" height="2"/><rect x="40" y="4" width="4" height="2"/><rect x="50" y="4" width="8" height="2"/><rect x="62" y="4" width="2" height="2"/><rect x="66" y="4" width="2" height="2"/><rect x="72" y="4" width="8" height="2"/><rect x="82" y="4" width="2" height="2"/><rect x="86" y="4" width="4" height="2"/><rect x="94" y="4" width="2" height="2"/><rect x="100" y="4" width="2" height="2"/><rect x="104" y="4" width="8" height="2"/><rect x="114" y="4" width="4" height="2"/><rect x="120" y="4" width="2" height="2"/><rect x="124" y="4" width="4" height="2"/><rect x="130" y="4" width="8" height="2"/><rect x="140" y="4" width="6" height="2"/><rect x="148" y="4" width="2" height="2"/><rect x="152" y="4" width="4" height="2"/><rect x="0" y="6" width="4" height="2"/><rect x="10" y="6" width="2" height="2"/><rect x="14" y="6" width="4" height="2"/><rect x="24" y="6" width="6" height="2"/><rect x="34" y="6" width="8" height="2"/><rect x="46" y="6" width="2" height="2"/><rect x="50" y="6" width="4" height="2"/><rect x="56" y="6" width="2" height="2"/><rect x="60" y="6" width="4" height="2"/><rect x="66" y="6" width="8" height="2"/><rect x="76" y="6" width="6" height="2"/><rect x="84" y="6" width="6" height="2"/><rect x="94" y="6" width="6" height="2"/><rect x="102" y="6" width="4" height="2"/><rect x="108" y="6" width="4" height="2"/><rect x="114" y="6" width="8" height="2"/><rect x="124" y="6" width="2" height="2"/><rect x="128" y="6" width="4" height="2"/><rect x="134" y="6" width="2" height="2"/><rect x="138" y="6" width="4" height="2"/><rect x="144" y="6" width="4" height="2"/><rect x="150" y="6" width="6" height="2"/><rect x="158" y="6" width="2" height="2"/><rect x="0" y="8" width="8" height="2"/><rect x="10" y="8" width="2" height="2"/><rect x="14" y="8" width="6" height="2"/><rect x="22" y="8" width="4" height="2"/><rect x="28" y="8" width="8" height="2"/><rect x="38" y="8" width="6" height="2"/><rect x="46" y="8" width="2" height="2"/><rect x="52" y="8" width="2" height="2"/><rect x="60" y="8" width="4" height="2"/><rect x="70" y="8" width="2" height="2"/><rect x="74" y="8" width="2" height="2"/><rect x="78" y="8" width="6" height="2"/><rect x="88" y="8" width="4" height="2"/><rect x="94" y="8" width="8" height="2"/><rect x="106" y="8" width="2" height="2"/><rect x="110" y="8" width="2" height="2"/><rect x="114" y="8" width="4" height="2"/><rect x="120" y="8" width="2" height="2"/><rect x="124" y="8" width="4" height="2"/><rect x="132" y="8" width="6" height="2"/><rect x="142" y="8" width="2" height="2"/><rect x="146" y="8" width="8" height="2"/><rect x="158" y="8" width="2" height="2"/><rect x="0" y="10" width="2" height="2"/><rect x="6" y="10" width="4" height="2"/><rect x="12" y="10" width="2" height="2"/><rect x="16" y="10" width="2" height="2"/><rect x="20" y="10" width="6" height="2"/><rect x="28" y="10" width="2" height="2"/><rect x="32" y="10" width="2" height="2"/><rect x="42" y="10" width="2" height="2"/><rect x="48" y="10" width="4" height="2"/><rect x="56" y="10" width="4" height="2"/><rect x="62" y="10" width="6" height="2"/><rect x="72" y="10" width="2" height="2"/><rect x="76" y="10" width="8" height="2"/><rect x="88" y="10" width="4" height="2"/><rect x="94" y="10" width="6" height="2"/><rect x="104" y="10" width="2" height="2"/><rect x="108" y="10" width="2" height="2"/><rect x="112" y="10" width="6" height="2"/><rect x="120" y="10" width="4" height="2"/><rect x="126" y="10" width="4" height="2"/><rect x="134" y="10" width="8" height="2"/><rect x="146" y="10" width="6" height="2"/><rect x="154" y="10" width="6" height="2"/><rect x="0" y="12" width="4" height="2"/><rect x="6" y="12" width="2" height="2"/><rect x="10" y="12" width="4" height="2"/><rect x="16" y="12" width="2" height="2"/><rect x="20" y="12" width="2" height="2"/><rect x="24" y="12" width="4" height="2"/><rect x="30" y="12" width="4" height="2"/><rect x="36" y="12" width="8" height="2"/><rect x="48" y="12" width="4" height="2"/><rect x="54" y="12" width="4" height="2"/><rect x="60" y="12" width="4" height="2"/><rect x="70" y="12" width="8" height="2"/><rect x="80" y="12" width="2" height="2"/><rect x="84" y="12" width="8" height="2"/><rect x="94" y="12" width="2" height="2"/><rect x="98" y="12" width="2" height="2"/><rect x="102" y="12" width="4" height="2"/><rect x="108" y="12" width="8" height="2"/><rect x="120" y="12" width="2" height="2"/><rect x="124" y="12" width="4" height="2"/><rect x="130" y="12" width="8" height="2"/><rect x="140" y="12" width="6" height="2"/><rect x="148" y="12" width="2" height="2"/><rect x="152" y="12" width="8" height="2"/><rect x="0" y="14" width="8" height="2"/><rect x="10" y="14" width="4" height="2"/><rect x="16" y="14" width="2" height="2"/><rect x="22" y="14" width="4" height="2"/><rect x="28" y="14" width="2" height="2"/><rect x="34" y="14" width="4" height="2"/><rect x="40" y="14" width="6" height="2"/><rect x="50" y="14" width="8" height="2"/><rect x="60" y="14" width="4" height="2"/><rect x="66" y="14" width="8" height="2"/><rect x="78" y="14" width="4" height="2"/><rect x="84" y="14" width="2" height="2"/><rect x="88" y="14" width="4" height="2"/><rect x="100" y="14" width="6" height="2"/><rect x="108" y="14" width="8" height="2"/><rect x="118" y="14" width="6" height="2"/><rect x="128" y="14" width="4" height="2"/><rect x="134" y="14" width="8" height="2"/><rect x="146" y="14" width="8" height="2"/><rect x="156" y="14" width="2" height="2"/><rect x="0" y="16" width="6" height="2"/><rect x="8" y="16" width="4" height="2"/><rect x="16" y="16" width="4" height="2"/><rect x="22" y="16" width="6" height="2"/><rect x="30" y="16" width="2" height="2"/><rect x="34" y="16" width="2" height="2"/><rect x="38" y="16" width="8" height="2"/><rect x="48" y="16" width="2" height="2"/><rect x="52" y="16" width="8" height="2"/><rect x="62" y="16" width="2" height="2"/><rect x="66" y="16" width="2" height="2"/><rect x="70" y="16" width="4" height="2"/><rect x="76" y="16" width="2" height="2"/><rect x="80" y="16" width="4" height="2"/><rect x="88" y="16" width="2" height="2"/><rect x="92" y="16" width="4" height="2"/><rect x="100" y="16" width="4" height="2"/><rect x="106" y="16" width="4" height="2"/><rect x="112" y="16" width="2" height="2"/><rect x="116" y="16" width="8" height="2"/><rect x="126" y="16" width="4" height="2"/><rect x="134" y="16" width="2" height="2"/><rect x="138" y="16" width="8" height="2"/><rect x="148" y="16" width="4" height="2"/><rect x="156" y="16" width="4" height="2"/><rect x="4" y="18" width="4" height="2"/><rect x="10" y="18" width="8" height="2"/><rect x="20" y="18" width="4" height="2"/><rect x="26" y="18" width="6" height="2"/><rect x="34" y="18" width="4" height="2"/><rect x="40" y="18" width="2" height="2"/><rect x="44" y="18" width="2" height="2"/><rect x="50" y="18" width="2" height="2"/><rect x="54" y="18" width="6" height="2"/><rect x="62" y="18" width="4" height="2"/><rect x="68" y="18" width="6" height="2"/><rect x="78" y="18" width="2" height="2"/><rect x="82" y="18" width="4" height="2"/><rect x="88" y="18" width="2" height="2"/><rect x="92" y="18" width="2" height="2"/><rect x="96" y="18" width="8" height="2"/><rect x="106" y="18" width="8" height="2"/><rect x="118" y="18" width="8" height="2"/><rect x="130" y="18" width="2" height="2"/><rect x="138" y="18" width="2" height="2"/><rect x="142" y="18" width="8" height="2"/><rect x="152" y="18" width="2" height="2"/><rect x="158" y="18" width="2" height="2"/><rect x="4" y="20" width="2" height="2"/><rect x="8" y="20" width="2" height="2"/><rect x="14" y="20" width="4" height="2"/><rect x="20" y="20" width="2" height="2"/><rect x="28" y="20" width="2" height="2"/><rect x="32" y="20" width="8" height="2"/><rect x="42" y="20" width="4" height="2"/><rect x="48" y="20" width="8" height="2"/><rect x="58" y="20" width="4" height="2"/><rect x="64" y="20" width="2" height="2"/><rect x="68" y="20" width="4" height="2"/><rect x="74" y="20" width="4" height="2"/><rect x="82" y="20" width="2" height="2"/><rect x="90" y="20" width="4" height="2"/><rect x="96" y="20" width="4" height="2"/><rect x="102" y="20" width="4" height="2"/><rect x="110" y="20" width="2" height="2"/><rect x="114" y="20" width="4" height="2"/><rect x="120" y="20" width="4" height="2"/><rect x="128" y="20" width="8" height="2"/><rect x="138" y="20" width="2" height="2"/><rect x="142" y="20" width="6" height="2"/><rect x="152" y="20" width="6" height="2"/><rect x="0" y="22" width="4" height="2"/><rect x="6" y="22" width="4" height="2"/><rect x="12" y="22" width="8" height="2"/><rect x="26" y="22" width="2" height="2"/><rect x="30" y="22" width="8" height="2"/><rect x="42" y="22" width="8" height="2"/><rect x="56" y="22" width="4" height="2"/><rect x="66" y="22" width="6" height="2"/><rect x="74" y="22" width="6" height="2"/><rect x="82" y="22" width="6" height="2"/><rect x="90" y="22" width="4" height="2"/><rect x="98" y="22" width="4" height="2"/><rect x="104" y="22" width="2" height="2"/><rect x="108" y="22" width="6" height="2"/><rect x="120" y="22" width="4" height="2"/><rect x="126" y="22" width="4" height="2"/><rect x="136" y="22" width="4" height="2"/><rect x="142" y="22" width="8" height="2"/><rect x="154" y="22" width="2" height="2"/><rect x="158" y="22" width="2" height="2"/><rect x="2" y="24" width="4" height="2"/><rect x="8" y="24" width="8" height="2"/><rect x="18" y="24" width="4" height="2"/><rect x="24" y="24" width="8" height="2"/><rect x="36" y="24" width="2" height="2"/><rect x="40" y="24" width="2" height="2"/><rect x="44" y="24" width="8" height="2"/><rect x="54" y="24" width="8" height="2"/><rect x="64" y="24" width="4" height="2"/><rect x="70" y="24" width="8" height="2"/><rect x="82" y="24" width="4" height="2"/><rect x="88" y="24" width="4" height="2"/><rect x="94" y="24" width="2" height="2"/><rect x="100" y="24" width="2" height="2"/><rect x="106" y="24" width="8" height="2"/><rect x="116" y="24" width="2" height="2"/><rect x="122" y="24" width="4" height="2"/><rect x="132" y="24" width="6" height="2"/><rect x="140" y="24" width="4" height="2"/><rect x="148" y="24" width="2" height="2"/><rect x="154" y="24" width="4" height="2"/><rect x="0" y="26" width="6" height="2"/><rect x="8" y="26" width="8" height="2"/><rect x="18" y="26" width="8" height="2"/><rect x="32" y="26" width="8" height="2"/><rect x="42" y="26" width="2" height="2"/><rect x="46" y="26" width="2" height="2"/><rect x="50" y="26" width="6" height="2"/><rect x="58" y="26" width="6" height="2"/><rect x="66" y="26" width="4" height="2"/><rect x="72" y="26" width="4" height="2"/><rect x="78" y="26" width="4" height="2"/><rect x="84" y="26" width="2" height="2"/><rect x="90" y="26" width="2" height="2"/><rect x="96" y="26" width="6" height="2"/><rect x="108" y="26" width="2" height="2"/><rect x="112" y="26" width="4" height="2"/><rect x="118" y="26" width="2" height="2"/><rect x="122" y="26" width="4" height="2"/><rect x="128" y="26" width="8" height="2"/><rect x="138" y="26" width="4" height="2"/><rect x="144" y="26" width="2" height="2"/><rect x="148" y="26" width="4" height="2"/><rect x="156" y="26" width="4" height="2"/><rect x="0" y="28" width="6" height="2"/><rect x="8" y="28" width="2" height="2"/><rect x="12" y="28" width="2" height="2"/><rect x="16" y="28" width="4" height="2"/><rect x="22" y="28" width="2" height="2"/><rect x="26" y="28" width="2" height="2"/><rect x="30" y="28" width="8" height="2"/><rect x="40" y="28" width="2" height="2"/><rect x="48" y="28" width="8" height="2"/><rect x="58" y="28" width="4" height="2"/><rect x="64" y="28" width="8" height="2"/><rect x="84" y="28" width="6" height="2"/><rect x="94" y="28" width="4" height="2"/><rect x="104" y="28" width="8" height="2"/><rect x="114" y="28" width="4" height="2"/><rect x="120" y="28" width="2" height="2"/><rect x="124" y="28" width="2" height="2"/><rect x="128" y="28" width="4" height="2"/><rect x="134" y="28" width="2" height="2"/><rect x="138" y="28" width="8" height="2"/><rect x="150" y="28" width="6" height="2"/><rect x="158" y="28" width="2" height="2"/><rect x="6" y="30" width="4" height="2"/><rect x="16" y="30" width="4" height="2"/><rect x="22" y="30" width="4" height="2"/><rect x="28" y="30" width="8" height="2"/><rect x="38" y="30" width="4" height="2"/><rect x="44" y="30" width="2" height="2"/><rect x="48" y="30" width="6" height="2"/><rect x="56" y="30" width="8" height="2"/><rect x="66" y="30" width="4" height="2"/><rect x="72" y="30" width="4" height="2"/><rect x="78" y="30" width="2" height="2"/><rect x="86" y="30" width="4" height="2"/><rect x="98" y="30" width="6" height="2"/><rect x="106" y="30" width="8" height="2"/><rect x="120" y="30" width="2" height="2"/><rect x="126" y="30" width="6" height="2"/><rect x="136" y="30" width="8" height="2"/><rect x="146" y="30" width="8" height="2"/><rect x="156" y="30" width="4" height="2"/><rect x="0" y="32" width="8" height="2"/><rect x="10" y="32" width="2" height="2"/><rect x="14" y="32" width="2" height="2"/><rect x="18" y="32" width="2" height="2"/><rect x="22" y="32" width="2" height="2"/><rect x="26" y="32" width="8" height="2"/><rect x="36" y="32" width="2" height="2"/><rect x="40" y="32" width="6" height="2"/><rect x="48" y="32" width="4" height="2"/><rect x="56" y="32" width="4" height="2"/><rect x="62" y="32" width="2" height="2"/><rect x="66" y="32" width="2" height="2"/><rect x="72" y="32" width="4" height="2"/><rect x="78" y="32" width="2" height="2"/><rect x="86" y="32" width="2" height="2"/><rect x="90" y="32" width="4" height="2"/><rect x="102" y="32" width="6" height="2"/><rect x="112" y="32" width="2" height="2"/><rect x="120" y="32" width="8" height="2"/><rect x="130" y="32" width="2" height="2"/><rect x="134" y="32" width="6" height="2"/><rect x="148" y="32" width="6" height="2"/><rect x="156" y="32" width="2" height="2"/><rect x="0" y="34" width="4" height="2"/><rect x="6" y="34" width="4" height="2"/><rect x="12" y="34" width="2" height="2"/><rect x="18" y="34" width="2" height="2"/><rect x="22" y="34" width="2" height="2"/><rect x="26" y="34" width="4" height="2"/><rect x="32" y="34" width="8" height="2"/><rect x="42" y="34" width="4" height="2"/><rect x="50" y="34" width="6" height="2"/><rect x="58" y="34" width="2" height="2"/><rect x="62" y="34" width="4" height="2"/><rect x="68" y="34" width="2" height="2"/><rect x="72" y="34" width="4" height="2"/><rect x="78" y="34" width="4" height="2"/><rect x="84" y="34" width="4" height="2"/><rect x="90" y="34" width="2" height="2"/><rect x="96" y="34" width="8" height="2"/><rect x="106" y="34" width="4" height="2"/><rect x="112" y="34" width="2" height="2"/><rect x="118" y="34" width="2" height="2"/><rect x="122" y="34" width="2" height="2"/><rect x="126" y="34" width="4" height="2"/><rect x="132" y="34" width="2" height="2"/><rect x="136" y="34" width="4" height="2"/><rect x="142" y="34" width="8" height="2"/><rect x="154" y="34" width="4" height="2"/><rect x="2" y="36" width="4" height="2"/><rect x="10" y="36" width="2" height="2"/><rect x="16" y="36" width="2" height="2"/><rect x="20" y="36" width="2" height="2"/><rect x="24" y="36" width="4" height="2"/><rect x="30" y="36" width="8" height="2"/><rect x="40" y="36" width="2" height="2"/><rect x="44" y="36" width="8" height="2"/><rect x="54" y="36" width="6" height="2"/><rect x="62" y="36" width="4" height="2"/><rect x="68" y="36" width="4" height="2"/><rect x="76" y="36" width="8" height="2"/><rect x="86" y="36" width="4" height="2"/><rect x="96" y="36" width="2" height="2"/><rect x="102" y="36" width="4" height="2"/><rect x="108" y="36" width="8" height="2"/><rect x="120" y="36" width="2" height="2"/><rect x="130" y="36" width="6" height="2"/><rect x="138" y="36" width="8" height="2"/><rect x="150" y="36" width="2" height="2"/><rect x="154" y="36" width="2" height="2"/><rect x="0" y="38" width="4" height="2"/><rect x="6" y="38" width="4" height="2"/><rect x="12" y="38" width="2" height="2"/><rect x="16" y="38" width="8" height="2"/><rect x="26" y="38" width="4" height="2"/><rect x="32" y="38" width="6" height="2"/><rect x="42" y="38" width="2" height="2"/><rect x="46" y="38" width="4" height="2"/><rect x="52" y="38" width="4" height="2"/><rect x="58" y="38" width="8" height="2"/><rect x="68" y="38" width="2" height="2"/><rect x="72" y="38" width="6" height="2"/><rect x="80" y="38" width="8" height="2"/><rect x="90" y="38" width="4" height="2"/><rect x="98" y="38" width="8" height="2"/><rect x="108" y="38" width="2" height="2"/><rect x="112" y="38" width="8" height="2"/><rect x="122" y="38" width="4" height="2"/><rect x="128" y="38" width="2" height="2"/><rect x="132" y="38" width="4" height="2"/><rect x="140" y="38" width="2" height="2"/><rect x="146" y="38" width="2" height="2"/><rect x="150" y="38" width="6" height="2"/><rect x="158" y="38" width="2" height="2"/><rect x="4" y="40" width="4" height="2"/><rect x="10" y="40" width="4" height="2"/><rect x="16" y="40" width="2" height="2"/><rect x="20" y="40" width="4" height="2"/><rect x="28" y="40" width="4" height="2"/><rect x="34" y="40" width="4" height="2"/><rect x="40" y="40" width="6" height="2"/><rect x="50" y="40" width="2" height="2"/><rect x="58" y="40" width="2" height="2"/><rect x="62" y="40" width="8" height="2"/><rect x="72" y="40" width="2" height="2"/><rect x="76" y="40" width="2" height="2"/><rect x="80" y="40" width="4" height="2"/><rect x="86" y="40" width="6" height="2"/><rect x="94" y="40" width="4" height="2"/><rect x="100" y="40" width="4" height="2"/><rect x="106" y="40" width="4" height="2"/><rect x="116" y="40" width="2" height="2"/><rect x="124" y="40" width="2" height="2"/><rect x="128" y="40" width="6" height="2"/><rect x="138" y="40" width="4" height="2"/><rect x="144" y="40" width="4" height="2"/><rect x="150" y="40" width="2" height="2"/><rect x="156" y="40" width="4" height="2"/><rect x="2" y="42" width="4" height="2"/><rect x="14" y="42" width="2" height="2"/><rect x="22" y="42" width="8" height="2"/><rect x="32" y="42" width="4" height="2"/><rect x="42" y="42" width="6" height="2"/><rect x="50" y="42" width="8" height="2"/><rect x="64" y="42" width="4" height="2"/><rect x="70" y="42" width="4" height="2"/><rect x="78" y="42" width="2" height="2"/><rect x="82" y="42" width="6" height="2"/><rect x="94" y="42" width="2" height="2"/><rect x="98" y="42" width="6" height="2"/><rect x="108" y="42" width="8" height="2"/><rect x="120" y="42" width="8" height="2"/><rect x="132" y="42" width="2" height="2"/><rect x="138" y="42" width="4" height="2"/><rect x="144" y="42" width="6" height="2"/><rect x="152" y="42" width="4" height="2"/><rect x="158" y="42" width="2" height="2"/><rect x="4" y="44" width="4" height="2"/><rect x="12" y="44" width="4" height="2"/><rect x="20" y="44" width="4" height="2"/><rect x="26" y="44" width="6" height="2"/><rect x="34" y="44" width="6" height="2"/><rect x="42" y="44" width="8" height="2"/><rect x="52" y="44" width="4" height="2"/><rect x="60" y="44" width="2" height="2"/><rect x="64" y="44" width="6" height="2"/><rect x="72" y="44" width="2" height="2"/><rect x="76" y="44" width="4" height="2"/><rect x="82" y="44" width="2" height="2"/><rect x="86" y="44" width="2" height="2"/><rect x="92" y="44" width="2" height="2"/><rect x="96" y="44" width="2" height="2"/><rect x="100" y="44" width="6" height="2"/><rect x="108" y="44" width="4" height="2"/><rect x="114" y="44" width="2" height="2"/><rect x="118" y="44" width="8" height="2"/><rect x="128" y="44" width="8" height="2"/><rect x="138" y="44" width="6" height="2"/><rect x="146" y="44" width="4" height="2"/><rect x="152" y="44" width="8" height="2"/><rect x="0" y="46" width="2" height="2"/><rect x="4" y="46" width="6" height="2"/><rect x="12" y="46" width="4" height="2"/><rect x="18" y="46" width="2" height="2"/><rect x="22" y="46" width="2" height="2"/><rect x="26" y="46" width="2" height="2"/><rect x="30" y="46" width="2" height="2"/><rect x="34" y="46" width="6" height="2"/><rect x="44" y="46" width="8" height="2"/><rect x="54" y="46" width="8" height="2"/><rect x="64" y="46" width="2" height="2"/><rect x="68" y="46" width="2" height="2"/><rect x="74" y="46" width="4" height="2"/><rect x="80" y="46" width="4" height="2"/><rect x="86" y="46" width="8" height="2"/><rect x="96" y="46" width="4" height="2"/><rect x="102" y="46" width="4" height="2"/><rect x="108" y="46" width="8" height="2"/><rect x="120" y="46" width="4" height="2"/><rect x="126" y="46" width="8" height="2"/><rect x="138" y="46" width="2" height="2"/><rect x="142" y="46" width="2" height="2"/><rect x="146" y="46" width="6" height="2"/><rect x="156" y="46" width="4" height="2"/></g></pattern></defs>
<path d="M266.0,740.0 L276.0,740.3 L286.0,740.7 L296.0,741.0 L306.0,741.3 L316.0,741.7 L326.0,742.0 L336.0,742.3 L346.0,742.7 L356.0,743.0 L366.0,743.3 L376.0,743.7 L386.0,744.0 L396.0,744.3 L406.0,744.7 L416.0,745.0 L426.0,790.2 L436.0,790.6 L446.0,790.9 L456.0,791.3 L466.0,791.6 L476.0,792.0 L486.0,792.4 L496.0,792.7 L506.0,793.1 L516.0,793.4 L526.0,793.8 L536.0,794.1 L546.0,794.5 L556.0,794.9 L566.0,795.2 L576.0,795.6 L586.0,795.9 L596.0,796.3 L606.0,796.6 L616.0,797.0 L626.0,797.4 L636.0,797.7 L646.0,798.1 L656.0,798.4 L666.0,798.8 L676.0,799.1 L686.0,799.5 L696.0,799.9 L706.0,791.4 L716.0,777.1 L726.0,762.9 L736.0,760.0 L746.0,760.0 L756.0,760.0 L766.0,760.0 L776.0,760.0 L786.0,760.0 L796.0,760.0 L806.0,760.0 L816.0,760.0 L826.0,760.0 L836.0,760.0 L846.0,760.0 L856.0,760.0 L866.0,760.0 L876.0,760.0 L886.0,760.0 L896.0,760.0 L906.0,760.0 L916.0,760.0 L926.0,760.0 L936.0,761.4 L946.0,763.8 L956.0,766.2 L966.0,768.5 L976.0,770.9 L986.0,773.3 L996.0,775.7 L1006.0,778.0 L1016.0,780.4 L1026.0,782.8 L1036.0,785.1 L1046.0,787.5 L1056.0,789.9 L1066.0,792.3 L1076.0,794.6 L1086.0,797.0 L1096.0,796.2 L1106.0,795.5 L1116.0,794.7 L1126.0,793.9 L1136.0,793.2 L1146.0,792.4 L1156.0,791.6 L1166.0,790.8 L1176.0,790.1 L1186.0,790.6 L1196.0,791.3 L1206.0,792.0 L1216.0,792.7 L1226.0,793.4 L1236.0,794.1 L1246.0,794.8 L1256.0,795.5 L1266.0,796.2 L1276.0,796.9 L1286.0,797.6 L1296.0,798.3 L1306.0,799.0 L1316.0,799.7 L1326.0,797.6 L1336.0,793.6 L1346.0,789.6 L1356.0,785.5 L1366.0,781.5 L1376.0,777.5 L1386.0,773.5 L1396.0,769.5 L1406.0,765.5 L1416.0,761.4 L1426.0,757.4 L1436.0,753.4 L1446.0,754.6 L1456.0,756.5 L1466.0,758.3 L1476.0,760.1 L1486.0,762.0 L1496.0,763.8 L1506.0,765.6 L1516.0,767.4 L1526.0,769.3 L1536.0,772.6 L1546.0,776.9 L1556.0,781.1 L1566.0,785.4 L1576.0,789.7 L1586.0,794.0 L1596.0,798.3 L1606.0,802.7 L1616.0,807.2 L1626.0,811.7 L1636.0,816.2 L1646.0,820.7 L1656.0,825.2 L1666.0,829.7 L1676.0,834.2 L1686.0,838.7 L1696.0,843.2 L1706.0,845.1 L1716.0,845.3 L1726.0,845.4 L1736.0,845.6 L1746.0,845.8 L1756.0,845.9 L1766.0,846.1 L1776.0,846.3 L1786.0,846.4 L1796.0,846.6 L1806.0,846.8 L1816.0,846.9 L1826.0,847.1 L1836.0,847.3 L1846.0,847.4 L1856.0,847.6 L1866.0,847.8 L1876.0,847.9 L1886.0,848.1 L1896.0,848.3 L1906.0,848.4 L1916.0,848.6 L1926.0,848.8 L1936.0,848.9 L1946.0,849.1 L1956.0,849.3 L1966.0,849.4 L1976.0,849.6 L1986.0,849.8 L1996.0,849.9 L2006.0,847.6 L2016.0,843.6 L2026.0,839.6 L2036.0,835.6 L2046.0,831.6 L2056.0,827.6 L2066.0,823.6 L2076.0,819.6 L2086.0,815.6 L2096.0,811.6 L2106.0,807.6 L2116.0,803.6 L2126.0,799.6 L2136.0,795.6 L2146.0,791.6 L2156.0,787.6 L2166.0,783.6 L2176.0,779.6 L2186.0,775.6 L2196.0,771.6 L2206.0,767.6 L2216.0,763.6 L2226.0,759.6 L2236.0,755.6 L2246.0,751.6 L2256.0,748.8 L2266.0,746.8 L2276.0,744.8 L2286.0,742.8 L2296.0,740.8 L2306.0,737.5 L2316.0,733.3 L2326.0,729.2 L2336.0,725.0 L2346.0,720.8 L2356.0,716.7 L2366.0,712.5 L2376.0,708.3 L2386.0,704.2 L2396.0,700.0 L2406.0,695.8 L2416.0,691.7 L2426.0,689.8 L2436.0,689.6 L2446.0,689.3 L2456.0,689.0 L2466.0,688.7 L2476.0,688.4 L2486.0,688.2 L2496.0,687.9 L2506.0,687.6 L2516.0,687.3 L2526.0,687.1 L2536.0,686.8 L2546.0,686.5 L2556.0,686.2 L2566.0,685.9 L2576.0,685.7 L2586.0,685.4 L2596.0,685.1 L2606.0,685.0 L2616.0,685.1 L2626.0,685.2 L2636.0,685.3 L2646.0,685.3 L2656.0,685.4 L2666.0,685.5 L2676.0,685.5 L2686.0,685.6 L2696.0,685.7 L2706.0,685.8 L2716.0,685.8 L2726.0,685.9 L2736.0,686.0 L2746.0,686.1 L2756.0,686.1 L2766.0,686.2 L2776.0,686.3 L2786.0,686.3 L2796.0,686.4 L2806.0,686.5 L2816.0,686.6 L2826.0,686.6 L2836.0,686.7 L2846.0,686.8 L2856.0,686.8 L2866.0,686.9 L2876.0,687.0 L2886.0,687.1 L2896.0,687.1 L2906.0,687.2 L2916.0,687.3 L2926.0,687.3 L2936.0,687.4 L2946.0,687.5 L2956.0,687.6 L2966.0,687.6 L2976.0,687.7 L2986.0,687.8 L2996.0,687.9 L3006.0,687.9 L3016.0,688.0 L3026.0,688.1 L3036.0,688.1 L3046.0,688.2 L3056.0,688.3 L3066.0,688.4 L3076.0,688.4 L3086.0,688.5 L3096.0,688.6 L3106.0,688.6 L3116.0,688.7 L3126.0,688.8 L3136.0,688.9 L3146.0,688.9 L3156.0,689.0 L3166.0,689.1 L3176.0,689.1 L3186.0,689.2 L3196.0,689.3 L3206.0,689.4 L3216.0,689.4 L3226.0,689.5 L3236.0,689.6 L3246.0,689.7 L3256.0,689.7 L3266.0,689.8 L3276.0,689.9 L3286.0,689.9 L3296.0,690.2 L3306.0,691.4 L3316.0,692.6 L3326.0,693.7 L3336.0,694.9 L3346.0,696.1 L3356.0,697.2 L3366.0,698.4 L3376.0,699.6 L3386.0,700.7 L3396.0,701.9 L3406.0,703.1 L3416.0,704.2 L3426.0,705.4 L3436.0,706.6 L3446.0,707.7 L3456.0,708.9 L3466.0,710.1 L3476.0,711.2 L3486.0,712.4 L3496.0,713.6 L3506.0,714.7 L3516.0,715.9 L3526.0,717.1 L3536.0,718.2 L3546.0,719.4 L3556.0,720.6 L3566.0,721.7 L3576.0,722.9 L3586.0,724.1 L3596.0,725.2 L3606.0,726.4 L3616.0,727.6 L3626.0,728.7 L3636.0,729.9 L3637.0,730.0 L3637.0,956.0 L266.0,956.0 Z" fill="url(#sp0)" />
<path d="M266.0,773.0 L276.0,772.9 L286.0,772.7 L296.0,772.6 L306.0,772.5 L316.0,772.4 L326.0,772.2 L336.0,772.1 L346.0,772.0 L356.0,771.9 L366.0,771.7 L376.0,771.6 L386.0,771.5 L396.0,771.4 L406.0,771.2 L416.0,771.1 L426.0,802.8 L436.0,803.0 L446.0,803.2 L456.0,803.5 L466.0,803.8 L476.0,804.0 L486.0,804.2 L496.0,804.5 L506.0,804.8 L516.0,805.0 L526.0,805.2 L536.0,805.5 L546.0,805.8 L556.0,806.0 L566.0,806.2 L576.0,806.5 L586.0,806.8 L596.0,807.0 L606.0,807.2 L616.0,807.5 L626.0,807.8 L636.0,808.0 L646.0,808.2 L656.0,808.5 L666.0,808.8 L676.0,809.0 L686.0,809.2 L696.0,809.5 L706.0,804.7 L716.0,796.5 L726.0,788.3 L736.0,787.0 L746.0,787.1 L756.0,787.2 L766.0,787.3 L776.0,787.3 L786.0,787.4 L796.0,787.5 L806.0,787.6 L816.0,787.6 L826.0,787.7 L836.0,787.8 L846.0,787.9 L856.0,787.9 L866.0,788.0 L876.0,788.1 L886.0,788.2 L896.0,788.2 L906.0,788.3 L916.0,788.4 L926.0,788.5 L936.0,789.6 L946.0,791.4 L956.0,793.3 L966.0,795.1 L976.0,797.0 L986.0,798.8 L996.0,800.7 L1006.0,802.5 L1016.0,804.3 L1026.0,806.2 L1036.0,808.0 L1046.0,809.9 L1056.0,811.7 L1066.0,813.6 L1076.0,815.4 L1086.0,817.2 L1096.0,816.9 L1106.0,816.5 L1116.0,816.2 L1126.0,815.8 L1136.0,815.5 L1146.0,815.1 L1156.0,814.7 L1166.0,814.4 L1176.0,814.0 L1186.0,814.4 L1196.0,814.9 L1206.0,815.4 L1216.0,815.9 L1226.0,816.4 L1236.0,816.9 L1246.0,817.4 L1256.0,817.9 L1266.0,818.4 L1276.0,818.8 L1286.0,819.3 L1296.0,819.8 L1306.0,820.3 L1316.0,820.8 L1326.0,819.3 L1336.0,816.5 L1346.0,813.7 L1356.0,810.9 L1366.0,808.1 L1376.0,805.3 L1386.0,802.4 L1396.0,799.6 L1406.0,796.8 L1416.0,794.0 L1426.0,791.2 L1436.0,788.4 L1446.0,789.4 L1456.0,790.8 L1466.0,792.3 L1476.0,793.7 L1486.0,795.2 L1496.0,796.6 L1506.0,798.0 L1516.0,799.5 L1526.0,800.9 L1536.0,803.4 L1546.0,806.7 L1556.0,809.9 L1566.0,813.1 L1576.0,816.4 L1586.0,819.6 L1596.0,822.8 L1606.0,826.1 L1616.0,829.5 L1626.0,832.9 L1636.0,836.3 L1646.0,839.7 L1656.0,843.0 L1666.0,846.4 L1676.0,849.8 L1686.0,853.2 L1696.0,856.5 L1706.0,858.0 L1716.0,858.1 L1726.0,858.2 L1736.0,858.3 L1746.0,858.4 L1756.0,858.6 L1766.0,858.7 L1776.0,858.8 L1786.0,858.9 L1796.0,859.0 L1806.0,859.1 L1816.0,859.3 L1826.0,859.4 L1836.0,859.5 L1846.0,859.6 L1856.0,859.7 L1866.0,859.8 L1876.0,860.0 L1886.0,860.1 L1896.0,860.2 L1906.0,860.3 L1916.0,860.4 L1926.0,860.5 L1936.0,860.7 L1946.0,860.8 L1956.0,860.9 L1966.0,861.0 L1976.0,861.1 L1986.0,861.2 L1996.0,861.4 L2006.0,859.6 L2016.0,856.6 L2026.0,853.6 L2036.0,850.5 L2046.0,847.5 L2056.0,844.5 L2066.0,841.5 L2076.0,838.5 L2086.0,835.5 L2096.0,832.4 L2106.0,829.4 L2116.0,826.4 L2126.0,823.4 L2136.0,820.4 L2146.0,817.4 L2156.0,814.4 L2166.0,811.3 L2176.0,808.3 L2186.0,805.3 L2196.0,802.3 L2206.0,799.3 L2216.0,796.3 L2226.0,793.2 L2236.0,790.2 L2246.0,787.2 L2256.0,784.7 L2266.0,782.6 L2276.0,780.5 L2286.0,778.4 L2296.0,776.3 L2306.0,773.3 L2316.0,769.7 L2326.0,766.1 L2336.0,762.5 L2346.0,758.9 L2356.0,755.2 L2366.0,751.6 L2376.0,748.0 L2386.0,744.4 L2396.0,740.8 L2406.0,737.5 L2416.0,734.4 L2426.0,732.9 L2436.0,732.5 L2446.0,732.2 L2456.0,731.8 L2466.0,731.4 L2476.0,731.0 L2486.0,730.7 L2496.0,730.3 L2506.0,729.9 L2516.0,729.5 L2526.0,729.2 L2536.0,728.8 L2546.0,728.4 L2556.0,728.0 L2566.0,727.7 L2576.0,727.3 L2586.0,726.9 L2596.0,726.5 L2606.0,726.4 L2616.0,726.4 L2626.0,726.4 L2636.0,726.5 L2646.0,726.5 L2656.0,726.5 L2666.0,726.5 L2676.0,726.5 L2686.0,726.5 L2696.0,726.6 L2706.0,726.6 L2716.0,726.6 L2726.0,726.6 L2736.0,726.6 L2746.0,726.6 L2756.0,726.6 L2766.0,726.7 L2776.0,726.7 L2786.0,726.7 L2796.0,726.7 L2806.0,726.7 L2816.0,726.7 L2826.0,726.8 L2836.0,726.8 L2846.0,726.8 L2856.0,726.8 L2866.0,726.8 L2876.0,726.8 L2886.0,726.9 L2896.0,726.9 L2906.0,726.9 L2916.0,726.9 L2926.0,726.9 L2936.0,726.9 L2946.0,726.9 L2956.0,727.0 L2966.0,727.0 L2976.0,727.0 L2986.0,727.0 L2996.0,727.0 L3006.0,727.0 L3016.0,727.1 L3026.0,727.1 L3036.0,727.1 L3046.0,727.1 L3056.0,727.1 L3066.0,727.1 L3076.0,727.2 L3086.0,727.2 L3096.0,727.2 L3106.0,727.2 L3116.0,727.2 L3126.0,727.2 L3136.0,727.2 L3146.0,727.3 L3156.0,727.3 L3166.0,727.3 L3176.0,727.3 L3186.0,727.3 L3196.0,727.3 L3206.0,727.4 L3216.0,727.4 L3226.0,727.4 L3236.0,727.4 L3246.0,727.4 L3256.0,727.4 L3266.0,727.5 L3276.0,727.5 L3286.0,727.5 L3296.0,727.7 L3306.0,728.5 L3316.0,729.4 L3326.0,730.3 L3336.0,731.1 L3346.0,732.0 L3356.0,732.8 L3366.0,733.7 L3376.0,734.6 L3386.0,735.4 L3396.0,736.3 L3406.0,737.1 L3416.0,738.0 L3426.0,738.9 L3436.0,739.7 L3446.0,740.6 L3456.0,741.4 L3466.0,742.3 L3476.0,743.2 L3486.0,744.0 L3496.0,744.9 L3506.0,745.7 L3516.0,746.6 L3526.0,747.5 L3536.0,748.3 L3546.0,749.2 L3556.0,750.0 L3566.0,750.9 L3576.0,751.8 L3586.0,752.6 L3596.0,753.5 L3606.0,754.3 L3616.0,755.2 L3626.0,756.1 L3636.0,756.9 L3637.0,757.0 L3637.0,956.0 L266.0,956.0 Z" fill="url(#sp1)" />
<path d="M266.0,795.0 L276.0,794.6 L286.0,794.1 L296.0,793.7 L306.0,793.3 L316.0,792.8 L326.0,792.4 L336.0,792.0 L346.0,791.5 L356.0,791.1 L366.0,790.7 L376.0,790.2 L386.0,789.8 L396.0,789.4 L406.0,788.9 L416.0,788.5 L426.0,811.1 L436.0,811.3 L446.0,811.5 L456.0,811.6 L466.0,811.8 L476.0,812.0 L486.0,812.2 L496.0,812.4 L506.0,812.5 L516.0,812.7 L526.0,812.9 L536.0,813.1 L546.0,813.2 L556.0,813.4 L566.0,813.6 L576.0,813.8 L586.0,814.0 L596.0,814.1 L606.0,814.3 L616.0,814.5 L626.0,814.7 L636.0,814.9 L646.0,815.0 L656.0,815.2 L666.0,815.4 L676.0,815.6 L686.0,815.8 L696.0,815.9 L706.0,813.5 L716.0,809.4 L726.0,805.2 L736.0,805.1 L746.0,805.2 L756.0,805.3 L766.0,805.5 L776.0,805.6 L786.0,805.7 L796.0,805.8 L806.0,806.0 L816.0,806.1 L826.0,806.2 L836.0,806.3 L846.0,806.5 L856.0,806.6 L866.0,806.7 L876.0,806.8 L886.0,807.0 L896.0,807.1 L906.0,807.2 L916.0,807.3 L926.0,807.5 L936.0,808.4 L946.0,809.9 L956.0,811.4 L966.0,812.9 L976.0,814.4 L986.0,815.8 L996.0,817.3 L1006.0,818.8 L1016.0,820.3 L1026.0,821.8 L1036.0,823.3 L1046.0,824.8 L1056.0,826.3 L1066.0,827.8 L1076.0,829.2 L1086.0,830.7 L1096.0,830.7 L1106.0,830.6 L1116.0,830.5 L1126.0,830.4 L1136.0,830.3 L1146.0,830.3 L1156.0,830.2 L1166.0,830.1 L1176.0,830.0 L1186.0,830.3 L1196.0,830.7 L1206.0,831.0 L1216.0,831.4 L1226.0,831.7 L1236.0,832.1 L1246.0,832.4 L1256.0,832.8 L1266.0,833.1 L1276.0,833.5 L1286.0,833.8 L1296.0,834.2 L1306.0,834.5 L1316.0,834.9 L1326.0,833.8 L1336.0,831.8 L1346.0,829.8 L1356.0,827.8 L1366.0,825.8 L1376.0,823.8 L1386.0,821.7 L1396.0,819.7 L1406.0,817.7 L1416.0,815.7 L1426.0,813.7 L1436.0,811.7 L1446.0,812.6 L1456.0,813.7 L1466.0,814.9 L1476.0,816.1 L1486.0,817.3 L1496.0,818.5 L1506.0,819.7 L1516.0,820.8 L1526.0,822.0 L1536.0,824.0 L1546.0,826.5 L1556.0,829.1 L1566.0,831.6 L1576.0,834.1 L1586.0,836.6 L1596.0,839.2 L1606.0,841.8 L1616.0,844.4 L1626.0,847.0 L1636.0,849.7 L1646.0,852.3 L1656.0,854.9 L1666.0,857.5 L1676.0,860.2 L1686.0,862.8 L1696.0,865.4 L1706.0,866.5 L1716.0,866.6 L1726.0,866.7 L1736.0,866.8 L1746.0,866.9 L1756.0,867.0 L1766.0,867.0 L1776.0,867.1 L1786.0,867.2 L1796.0,867.3 L1806.0,867.4 L1816.0,867.5 L1826.0,867.5 L1836.0,867.6 L1846.0,867.7 L1856.0,867.8 L1866.0,867.9 L1876.0,868.0 L1886.0,868.0 L1896.0,868.1 L1906.0,868.2 L1916.0,868.3 L1926.0,868.4 L1936.0,868.5 L1946.0,868.5 L1956.0,868.6 L1966.0,868.7 L1976.0,868.8 L1986.0,868.9 L1996.0,869.0 L2006.0,867.6 L2016.0,865.2 L2026.0,862.9 L2036.0,860.5 L2046.0,858.1 L2056.0,855.8 L2066.0,853.4 L2076.0,851.1 L2086.0,848.7 L2096.0,846.3 L2106.0,844.0 L2116.0,841.6 L2126.0,839.3 L2136.0,836.9 L2146.0,834.5 L2156.0,832.2 L2166.0,829.8 L2176.0,827.5 L2186.0,825.1 L2196.0,822.7 L2206.0,820.4 L2216.0,818.0 L2226.0,815.7 L2236.0,813.3 L2246.0,810.9 L2256.0,808.7 L2266.0,806.5 L2276.0,804.4 L2286.0,802.2 L2296.0,800.0 L2306.0,797.2 L2316.0,794.0 L2326.0,790.7 L2336.0,787.5 L2346.0,784.2 L2356.0,781.0 L2366.0,777.7 L2376.0,774.5 L2386.0,771.2 L2396.0,768.0 L2406.0,765.2 L2416.0,762.9 L2426.0,761.6 L2436.0,761.2 L2446.0,760.8 L2456.0,760.3 L2466.0,759.9 L2476.0,759.4 L2486.0,759.0 L2496.0,758.6 L2506.0,758.1 L2516.0,757.7 L2526.0,757.2 L2536.0,756.8 L2546.0,756.4 L2556.0,755.9 L2566.0,755.5 L2576.0,755.1 L2586.0,754.6 L2596.0,754.2 L2606.0,754.0 L2616.0,754.0 L2626.0,753.9 L2636.0,753.9 L2646.0,753.9 L2656.0,753.9 L2666.0,753.9 L2676.0,753.8 L2686.0,753.8 L2696.0,753.8 L2706.0,753.8 L2716.0,753.7 L2726.0,753.7 L2736.0,753.7 L2746.0,753.7 L2756.0,753.7 L2766.0,753.6 L2776.0,753.6 L2786.0,753.6 L2796.0,753.6 L2806.0,753.6 L2816.0,753.5 L2826.0,753.5 L2836.0,753.5 L2846.0,753.5 L2856.0,753.4 L2866.0,753.4 L2876.0,753.4 L2886.0,753.4 L2896.0,753.4 L2906.0,753.3 L2916.0,753.3 L2926.0,753.3 L2936.0,753.3 L2946.0,753.3 L2956.0,753.2 L2966.0,753.2 L2976.0,753.2 L2986.0,753.2 L2996.0,753.1 L3006.0,753.1 L3016.0,753.1 L3026.0,753.1 L3036.0,753.1 L3046.0,753.0 L3056.0,753.0 L3066.0,753.0 L3076.0,753.0 L3086.0,752.9 L3096.0,752.9 L3106.0,752.9 L3116.0,752.9 L3126.0,752.9 L3136.0,752.8 L3146.0,752.8 L3156.0,752.8 L3166.0,752.8 L3176.0,752.8 L3186.0,752.7 L3196.0,752.7 L3206.0,752.7 L3216.0,752.7 L3226.0,752.6 L3236.0,752.6 L3246.0,752.6 L3256.0,752.6 L3266.0,752.6 L3276.0,752.5 L3286.0,752.5 L3296.0,752.6 L3306.0,753.3 L3316.0,753.9 L3326.0,754.6 L3336.0,755.3 L3346.0,755.9 L3356.0,756.6 L3366.0,757.2 L3376.0,757.9 L3386.0,758.5 L3396.0,759.2 L3406.0,759.8 L3416.0,760.5 L3426.0,761.2 L3436.0,761.8 L3446.0,762.5 L3456.0,763.1 L3466.0,763.8 L3476.0,764.4 L3486.0,765.1 L3496.0,765.8 L3506.0,766.4 L3516.0,767.1 L3526.0,767.7 L3536.0,768.4 L3546.0,769.0 L3556.0,769.7 L3566.0,770.3 L3576.0,771.0 L3586.0,771.7 L3596.0,772.3 L3606.0,773.0 L3616.0,773.6 L3626.0,774.3 L3636.0,774.9 L3637.0,775.0 L3637.0,956.0 L266.0,956.0 Z" fill="url(#sp2)" />
<path d="M266.0,812.6 L276.0,811.9 L286.0,811.2 L296.0,810.6 L306.0,809.9 L316.0,809.2 L326.0,808.5 L336.0,807.8 L346.0,807.2 L356.0,806.5 L366.0,805.8 L376.0,805.1 L386.0,804.5 L396.0,803.8 L406.0,803.1 L416.0,802.4 L426.0,817.8 L436.0,817.9 L446.0,818.0 L456.0,818.2 L466.0,818.3 L476.0,818.4 L486.0,818.5 L496.0,818.6 L506.0,818.8 L516.0,818.9 L526.0,819.0 L536.0,819.1 L546.0,819.2 L556.0,819.4 L566.0,819.5 L576.0,819.6 L586.0,819.7 L596.0,819.9 L606.0,820.0 L616.0,820.1 L626.0,820.2 L636.0,820.3 L646.0,820.5 L656.0,820.6 L666.0,820.7 L676.0,820.8 L686.0,821.0 L696.0,821.1 L706.0,820.6 L716.0,819.7 L726.0,818.8 L736.0,819.5 L746.0,819.7 L756.0,819.8 L766.0,820.0 L776.0,820.2 L786.0,820.3 L796.0,820.5 L806.0,820.7 L816.0,820.8 L826.0,821.0 L836.0,821.1 L846.0,821.3 L856.0,821.5 L866.0,821.6 L876.0,821.8 L886.0,822.0 L896.0,822.1 L906.0,822.3 L916.0,822.5 L926.0,822.6 L936.0,823.4 L946.0,824.6 L956.0,825.8 L966.0,827.0 L976.0,828.3 L986.0,829.5 L996.0,830.7 L1006.0,831.9 L1016.0,833.1 L1026.0,834.3 L1036.0,835.5 L1046.0,836.7 L1056.0,837.9 L1066.0,839.1 L1076.0,840.3 L1086.0,841.5 L1096.0,841.7 L1106.0,841.8 L1116.0,842.0 L1126.0,842.1 L1136.0,842.2 L1146.0,842.4 L1156.0,842.5 L1166.0,842.6 L1176.0,842.8 L1186.0,843.0 L1196.0,843.3 L1206.0,843.5 L1216.0,843.7 L1226.0,844.0 L1236.0,844.2 L1246.0,844.4 L1256.0,844.7 L1266.0,844.9 L1276.0,845.2 L1286.0,845.4 L1296.0,845.6 L1306.0,845.9 L1316.0,846.1 L1326.0,845.4 L1336.0,844.0 L1346.0,842.6 L1356.0,841.3 L1366.0,839.9 L1376.0,838.6 L1386.0,837.2 L1396.0,835.8 L1406.0,834.5 L1416.0,833.1 L1426.0,831.7 L1436.0,830.4 L1446.0,831.1 L1456.0,832.1 L1466.0,833.1 L1476.0,834.0 L1486.0,835.0 L1496.0,836.0 L1506.0,837.0 L1516.0,837.9 L1526.0,838.9 L1536.0,840.5 L1546.0,842.4 L1556.0,844.4 L1566.0,846.4 L1576.0,848.3 L1586.0,850.3 L1596.0,852.2 L1606.0,854.3 L1616.0,856.3 L1626.0,858.3 L1636.0,860.4 L1646.0,862.4 L1656.0,864.4 L1666.0,866.5 L1676.0,868.5 L1686.0,870.5 L1696.0,872.6 L1706.0,873.4 L1716.0,873.5 L1726.0,873.5 L1736.0,873.6 L1746.0,873.6 L1756.0,873.7 L1766.0,873.8 L1776.0,873.8 L1786.0,873.9 L1796.0,873.9 L1806.0,874.0 L1816.0,874.0 L1826.0,874.1 L1836.0,874.2 L1846.0,874.2 L1856.0,874.3 L1866.0,874.3 L1876.0,874.4 L1886.0,874.4 L1896.0,874.5 L1906.0,874.5 L1916.0,874.6 L1926.0,874.7 L1936.0,874.7 L1946.0,874.8 L1956.0,874.8 L1966.0,874.9 L1976.0,874.9 L1986.0,875.0 L1996.0,875.1 L2006.0,874.0 L2016.0,872.1 L2026.0,870.3 L2036.0,868.5 L2046.0,866.6 L2056.0,864.8 L2066.0,863.0 L2076.0,861.1 L2086.0,859.3 L2096.0,857.5 L2106.0,855.6 L2116.0,853.8 L2126.0,852.0 L2136.0,850.1 L2146.0,848.3 L2156.0,846.5 L2166.0,844.6 L2176.0,842.8 L2186.0,840.9 L2196.0,839.1 L2206.0,837.3 L2216.0,835.4 L2226.0,833.6 L2236.0,831.8 L2246.0,829.9 L2256.0,827.9 L2266.0,825.6 L2276.0,823.4 L2286.0,821.2 L2296.0,819.0 L2306.0,816.3 L2316.0,813.4 L2326.0,810.4 L2336.0,807.5 L2346.0,804.5 L2356.0,801.5 L2366.0,798.6 L2376.0,795.6 L2386.0,792.7 L2396.0,789.7 L2406.0,787.4 L2416.0,785.6 L2426.0,784.6 L2436.0,784.1 L2446.0,783.6 L2456.0,783.1 L2466.0,782.7 L2476.0,782.2 L2486.0,781.7 L2496.0,781.2 L2506.0,780.7 L2516.0,780.2 L2526.0,779.7 L2536.0,779.2 L2546.0,778.7 L2556.0,778.2 L2566.0,777.7 L2576.0,777.3 L2586.0,776.8 L2596.0,776.3 L2606.0,776.0 L2616.0,776.0 L2626.0,775.9 L2636.0,775.9 L2646.0,775.8 L2656.0,775.8 L2666.0,775.7 L2676.0,775.7 L2686.0,775.6 L2696.0,775.6 L2706.0,775.5 L2716.0,775.5 L2726.0,775.4 L2736.0,775.4 L2746.0,775.3 L2756.0,775.3 L2766.0,775.2 L2776.0,775.2 L2786.0,775.1 L2796.0,775.1 L2806.0,775.0 L2816.0,775.0 L2826.0,774.9 L2836.0,774.9 L2846.0,774.8 L2856.0,774.8 L2866.0,774.7 L2876.0,774.7 L2886.0,774.6 L2896.0,774.6 L2906.0,774.5 L2916.0,774.4 L2926.0,774.4 L2936.0,774.3 L2946.0,774.3 L2956.0,774.2 L2966.0,774.2 L2976.0,774.1 L2986.0,774.1 L2996.0,774.0 L3006.0,774.0 L3016.0,773.9 L3026.0,773.9 L3036.0,773.8 L3046.0,773.8 L3056.0,773.7 L3066.0,773.7 L3076.0,773.6 L3086.0,773.6 L3096.0,773.5 L3106.0,773.5 L3116.0,773.4 L3126.0,773.4 L3136.0,773.3 L3146.0,773.3 L3156.0,773.2 L3166.0,773.2 L3176.0,773.1 L3186.0,773.1 L3196.0,773.0 L3206.0,773.0 L3216.0,772.9 L3226.0,772.9 L3236.0,772.8 L3246.0,772.7 L3256.0,772.7 L3266.0,772.6 L3276.0,772.6 L3286.0,772.5 L3296.0,772.6 L3306.0,773.1 L3316.0,773.6 L3326.0,774.1 L3336.0,774.6 L3346.0,775.1 L3356.0,775.6 L3366.0,776.0 L3376.0,776.5 L3386.0,777.0 L3396.0,777.5 L3406.0,778.0 L3416.0,778.5 L3426.0,779.0 L3436.0,779.5 L3446.0,780.0 L3456.0,780.5 L3466.0,781.0 L3476.0,781.5 L3486.0,782.0 L3496.0,782.5 L3506.0,782.9 L3516.0,783.4 L3526.0,783.9 L3536.0,784.4 L3546.0,784.9 L3556.0,785.4 L3566.0,785.9 L3576.0,786.4 L3586.0,786.9 L3596.0,787.4 L3606.0,787.9 L3616.0,788.4 L3626.0,788.9 L3636.0,789.4 L3637.0,789.4 L3637.0,956.0 L266.0,956.0 Z" fill="url(#sp3)" />
<path d="M266.0,828.0 L276.0,827.1 L286.0,826.2 L296.0,825.3 L306.0,824.4 L316.0,823.5 L326.0,822.6 L336.0,821.7 L346.0,820.9 L356.0,820.0 L366.0,819.1 L376.0,818.2 L386.0,817.3 L396.0,816.4 L406.0,815.5 L416.0,814.6 L426.0,823.6 L436.0,823.7 L446.0,823.8 L456.0,823.9 L466.0,823.9 L476.0,824.0 L486.0,824.1 L496.0,824.1 L506.0,824.2 L516.0,824.3 L526.0,824.4 L536.0,824.4 L546.0,824.5 L556.0,824.6 L566.0,824.6 L576.0,824.7 L586.0,824.8 L596.0,824.9 L606.0,824.9 L616.0,825.0 L626.0,825.1 L636.0,825.1 L646.0,825.2 L656.0,825.3 L666.0,825.4 L676.0,825.4 L686.0,825.5 L696.0,825.6 L706.0,826.8 L716.0,828.7 L726.0,830.7 L736.0,832.1 L746.0,832.3 L756.0,832.5 L766.0,832.7 L776.0,832.9 L786.0,833.1 L796.0,833.3 L806.0,833.5 L816.0,833.7 L826.0,833.9 L836.0,834.1 L846.0,834.3 L856.0,834.5 L866.0,834.7 L876.0,834.9 L886.0,835.1 L896.0,835.3 L906.0,835.5 L916.0,835.7 L926.0,835.9 L936.0,836.6 L946.0,837.5 L956.0,838.5 L966.0,839.5 L976.0,840.4 L986.0,841.4 L996.0,842.3 L1006.0,843.3 L1016.0,844.3 L1026.0,845.2 L1036.0,846.2 L1046.0,847.1 L1056.0,848.1 L1066.0,849.1 L1076.0,850.0 L1086.0,851.0 L1096.0,851.3 L1106.0,851.6 L1116.0,852.0 L1126.0,852.3 L1136.0,852.6 L1146.0,853.0 L1156.0,853.3 L1166.0,853.6 L1176.0,854.0 L1186.0,854.1 L1196.0,854.3 L1206.0,854.4 L1216.0,854.5 L1226.0,854.7 L1236.0,854.8 L1246.0,855.0 L1256.0,855.1 L1266.0,855.2 L1276.0,855.4 L1286.0,855.5 L1296.0,855.7 L1306.0,855.8 L1316.0,855.9 L1326.0,855.5 L1336.0,854.7 L1346.0,853.9 L1356.0,853.1 L1366.0,852.3 L1376.0,851.5 L1386.0,850.7 L1396.0,849.9 L1406.0,849.1 L1416.0,848.3 L1426.0,847.5 L1436.0,846.7 L1446.0,847.3 L1456.0,848.1 L1466.0,848.9 L1476.0,849.7 L1486.0,850.5 L1496.0,851.3 L1506.0,852.1 L1516.0,852.9 L1526.0,853.7 L1536.0,854.9 L1546.0,856.4 L1556.0,857.8 L1566.0,859.3 L1576.0,860.8 L1586.0,862.2 L1596.0,863.7 L1606.0,865.2 L1616.0,866.7 L1626.0,868.2 L1636.0,869.7 L1646.0,871.2 L1656.0,872.7 L1666.0,874.3 L1676.0,875.8 L1686.0,877.3 L1696.0,878.8 L1706.0,879.4 L1716.0,879.5 L1726.0,879.5 L1736.0,879.5 L1746.0,879.6 L1756.0,879.6 L1766.0,879.6 L1776.0,879.7 L1786.0,879.7 L1796.0,879.7 L1806.0,879.8 L1816.0,879.8 L1826.0,879.8 L1836.0,879.9 L1846.0,879.9 L1856.0,879.9 L1866.0,880.0 L1876.0,880.0 L1886.0,880.0 L1896.0,880.1 L1906.0,880.1 L1916.0,880.1 L1926.0,880.2 L1936.0,880.2 L1946.0,880.2 L1956.0,880.3 L1966.0,880.3 L1976.0,880.3 L1986.0,880.4 L1996.0,880.4 L2006.0,879.6 L2016.0,878.2 L2026.0,876.8 L2036.0,875.4 L2046.0,874.1 L2056.0,872.7 L2066.0,871.3 L2076.0,869.9 L2086.0,868.6 L2096.0,867.2 L2106.0,865.8 L2116.0,864.4 L2126.0,863.1 L2136.0,861.7 L2146.0,860.3 L2156.0,858.9 L2166.0,857.6 L2176.0,856.2 L2186.0,854.8 L2196.0,853.4 L2206.0,852.1 L2216.0,850.7 L2226.0,849.3 L2236.0,847.9 L2246.0,846.6 L2256.0,844.6 L2266.0,842.4 L2276.0,840.1 L2286.0,837.8 L2296.0,835.6 L2306.0,833.0 L2316.0,830.3 L2326.0,827.6 L2336.0,824.9 L2346.0,822.2 L2356.0,819.5 L2366.0,816.8 L2376.0,814.1 L2386.0,811.4 L2396.0,808.7 L2406.0,806.9 L2416.0,805.6 L2426.0,804.7 L2436.0,804.2 L2446.0,803.6 L2456.0,803.1 L2466.0,802.6 L2476.0,802.0 L2486.0,801.5 L2496.0,801.0 L2506.0,800.4 L2516.0,799.9 L2526.0,799.4 L2536.0,798.8 L2546.0,798.3 L2556.0,797.8 L2566.0,797.2 L2576.0,796.7 L2586.0,796.1 L2596.0,795.6 L2606.0,795.4 L2616.0,795.3 L2626.0,795.2 L2636.0,795.1 L2646.0,795.0 L2656.0,795.0 L2666.0,794.9 L2676.0,794.8 L2686.0,794.7 L2696.0,794.7 L2706.0,794.6 L2716.0,794.5 L2726.0,794.4 L2736.0,794.3 L2746.0,794.3 L2756.0,794.2 L2766.0,794.1 L2776.0,794.0 L2786.0,794.0 L2796.0,793.9 L2806.0,793.8 L2816.0,793.7 L2826.0,793.6 L2836.0,793.6 L2846.0,793.5 L2856.0,793.4 L2866.0,793.3 L2876.0,793.3 L2886.0,793.2 L2896.0,793.1 L2906.0,793.0 L2916.0,792.9 L2926.0,792.9 L2936.0,792.8 L2946.0,792.7 L2956.0,792.6 L2966.0,792.6 L2976.0,792.5 L2986.0,792.4 L2996.0,792.3 L3006.0,792.2 L3016.0,792.2 L3026.0,792.1 L3036.0,792.0 L3046.0,791.9 L3056.0,791.9 L3066.0,791.8 L3076.0,791.7 L3086.0,791.6 L3096.0,791.5 L3106.0,791.5 L3116.0,791.4 L3126.0,791.3 L3136.0,791.2 L3146.0,791.2 L3156.0,791.1 L3166.0,791.0 L3176.0,790.9 L3186.0,790.8 L3196.0,790.8 L3206.0,790.7 L3216.0,790.6 L3226.0,790.5 L3236.0,790.5 L3246.0,790.4 L3256.0,790.3 L3266.0,790.2 L3276.0,790.1 L3286.0,790.1 L3296.0,790.1 L3306.0,790.4 L3316.0,790.8 L3326.0,791.1 L3336.0,791.5 L3346.0,791.8 L3356.0,792.2 L3366.0,792.5 L3376.0,792.9 L3386.0,793.2 L3396.0,793.6 L3406.0,793.9 L3416.0,794.3 L3426.0,794.6 L3436.0,795.0 L3446.0,795.3 L3456.0,795.7 L3466.0,796.0 L3476.0,796.4 L3486.0,796.7 L3496.0,797.1 L3506.0,797.4 L3516.0,797.8 L3526.0,798.1 L3536.0,798.5 L3546.0,798.8 L3556.0,799.2 L3566.0,799.5 L3576.0,799.9 L3586.0,800.2 L3596.0,800.6 L3606.0,800.9 L3616.0,801.3 L3626.0,801.6 L3636.0,802.0 L3637.0,802.0 L3637.0,956.0 L266.0,956.0 Z" fill="url(#sp4)" />
<path d="M266.0,839.0 L276.0,838.0 L286.0,836.9 L296.0,835.9 L306.0,834.8 L316.0,833.8 L326.0,832.7 L336.0,831.7 L346.0,830.6 L356.0,829.6 L366.0,828.5 L376.0,827.5 L386.0,826.4 L396.0,825.4 L406.0,824.3 L416.0,823.3 L426.0,827.8 L436.0,827.9 L446.0,827.9 L456.0,827.9 L466.0,828.0 L476.0,828.0 L486.0,828.0 L496.0,828.1 L506.0,828.1 L516.0,828.1 L526.0,828.2 L536.0,828.2 L546.0,828.2 L556.0,828.3 L566.0,828.3 L576.0,828.4 L586.0,828.4 L596.0,828.4 L606.0,828.5 L616.0,828.5 L626.0,828.5 L636.0,828.6 L646.0,828.6 L656.0,828.6 L666.0,828.7 L676.0,828.7 L686.0,828.8 L696.0,828.8 L706.0,831.2 L716.0,835.2 L726.0,839.1 L736.0,841.1 L746.0,841.4 L756.0,841.6 L766.0,841.8 L776.0,842.0 L786.0,842.3 L796.0,842.5 L806.0,842.7 L816.0,842.9 L826.0,843.2 L836.0,843.4 L846.0,843.6 L856.0,843.8 L866.0,844.1 L876.0,844.3 L886.0,844.5 L896.0,844.7 L906.0,845.0 L916.0,845.2 L926.0,845.4 L936.0,846.0 L946.0,846.8 L956.0,847.5 L966.0,848.3 L976.0,849.1 L986.0,849.9 L996.0,850.7 L1006.0,851.5 L1016.0,852.2 L1026.0,853.0 L1036.0,853.8 L1046.0,854.6 L1056.0,855.4 L1066.0,856.2 L1076.0,856.9 L1086.0,857.7 L1096.0,858.2 L1106.0,858.7 L1116.0,859.1 L1126.0,859.6 L1136.0,860.1 L1146.0,860.5 L1156.0,861.0 L1166.0,861.5 L1176.0,862.0 L1186.0,862.1 L1196.0,862.1 L1206.0,862.2 L1216.0,862.3 L1226.0,862.3 L1236.0,862.4 L1246.0,862.5 L1256.0,862.6 L1266.0,862.6 L1276.0,862.7 L1286.0,862.8 L1296.0,862.8 L1306.0,862.9 L1316.0,863.0 L1326.0,862.8 L1336.0,862.4 L1346.0,862.0 L1356.0,861.6 L1366.0,861.2 L1376.0,860.8 L1386.0,860.3 L1396.0,859.9 L1406.0,859.5 L1416.0,859.1 L1426.0,858.7 L1436.0,858.3 L1446.0,858.9 L1456.0,859.6 L1466.0,860.2 L1476.0,860.9 L1486.0,861.6 L1496.0,862.2 L1506.0,862.9 L1516.0,863.6 L1526.0,864.2 L1536.0,865.2 L1546.0,866.3 L1556.0,867.4 L1566.0,868.5 L1576.0,869.6 L1586.0,870.8 L1596.0,871.9 L1606.0,873.0 L1616.0,874.1 L1626.0,875.3 L1636.0,876.4 L1646.0,877.6 L1656.0,878.7 L1666.0,879.8 L1676.0,881.0 L1686.0,882.1 L1696.0,883.2 L1706.0,883.7 L1716.0,883.7 L1726.0,883.7 L1736.0,883.8 L1746.0,883.8 L1756.0,883.8 L1766.0,883.8 L1776.0,883.8 L1786.0,883.8 L1796.0,883.9 L1806.0,883.9 L1816.0,883.9 L1826.0,883.9 L1836.0,883.9 L1846.0,883.9 L1856.0,884.0 L1866.0,884.0 L1876.0,884.0 L1886.0,884.0 L1896.0,884.0 L1906.0,884.0 L1916.0,884.1 L1926.0,884.1 L1936.0,884.1 L1946.0,884.1 L1956.0,884.1 L1966.0,884.1 L1976.0,884.2 L1986.0,884.2 L1996.0,884.2 L2006.0,883.6 L2016.0,882.5 L2026.0,881.5 L2036.0,880.4 L2046.0,879.4 L2056.0,878.3 L2066.0,877.3 L2076.0,876.2 L2086.0,875.2 L2096.0,874.1 L2106.0,873.1 L2116.0,872.0 L2126.0,871.0 L2136.0,869.9 L2146.0,868.9 L2156.0,867.9 L2166.0,866.8 L2176.0,865.8 L2186.0,864.7 L2196.0,863.7 L2206.0,862.6 L2216.0,861.6 L2226.0,860.5 L2236.0,859.5 L2246.0,858.4 L2256.0,856.6 L2266.0,854.3 L2276.0,852.0 L2286.0,849.7 L2296.0,847.4 L2306.0,845.0 L2316.0,842.5 L2326.0,840.0 L2336.0,837.4 L2346.0,834.9 L2356.0,832.4 L2366.0,829.9 L2376.0,827.4 L2386.0,824.9 L2396.0,822.3 L2406.0,820.8 L2416.0,819.8 L2426.0,819.1 L2436.0,818.5 L2446.0,817.9 L2456.0,817.4 L2466.0,816.8 L2476.0,816.2 L2486.0,815.7 L2496.0,815.1 L2506.0,814.5 L2516.0,814.0 L2526.0,813.4 L2536.0,812.8 L2546.0,812.3 L2556.0,811.7 L2566.0,811.1 L2576.0,810.6 L2586.0,810.0 L2596.0,809.4 L2606.0,809.1 L2616.0,809.0 L2626.0,808.9 L2636.0,808.9 L2646.0,808.8 L2656.0,808.7 L2666.0,808.6 L2676.0,808.5 L2686.0,808.4 L2696.0,808.3 L2706.0,808.2 L2716.0,808.1 L2726.0,808.0 L2736.0,807.9 L2746.0,807.8 L2756.0,807.7 L2766.0,807.6 L2776.0,807.5 L2786.0,807.4 L2796.0,807.3 L2806.0,807.2 L2816.0,807.1 L2826.0,807.0 L2836.0,806.9 L2846.0,806.8 L2856.0,806.7 L2866.0,806.6 L2876.0,806.5 L2886.0,806.4 L2896.0,806.3 L2906.0,806.2 L2916.0,806.1 L2926.0,806.1 L2936.0,806.0 L2946.0,805.9 L2956.0,805.8 L2966.0,805.7 L2976.0,805.6 L2986.0,805.5 L2996.0,805.4 L3006.0,805.3 L3016.0,805.2 L3026.0,805.1 L3036.0,805.0 L3046.0,804.9 L3056.0,804.8 L3066.0,804.7 L3076.0,804.6 L3086.0,804.5 L3096.0,804.4 L3106.0,804.3 L3116.0,804.2 L3126.0,804.1 L3136.0,804.0 L3146.0,803.9 L3156.0,803.8 L3166.0,803.7 L3176.0,803.6 L3186.0,803.5 L3196.0,803.4 L3206.0,803.3 L3216.0,803.3 L3226.0,803.2 L3236.0,803.1 L3246.0,803.0 L3256.0,802.9 L3266.0,802.8 L3276.0,802.7 L3286.0,802.6 L3296.0,802.5 L3306.0,802.8 L3316.0,803.0 L3326.0,803.3 L3336.0,803.5 L3346.0,803.8 L3356.0,804.0 L3366.0,804.3 L3376.0,804.5 L3386.0,804.8 L3396.0,805.0 L3406.0,805.3 L3416.0,805.5 L3426.0,805.8 L3436.0,806.0 L3446.0,806.3 L3456.0,806.5 L3466.0,806.8 L3476.0,807.0 L3486.0,807.3 L3496.0,807.5 L3506.0,807.8 L3516.0,808.0 L3526.0,808.2 L3536.0,808.5 L3546.0,808.7 L3556.0,809.0 L3566.0,809.2 L3576.0,809.5 L3586.0,809.7 L3596.0,810.0 L3606.0,810.2 L3616.0,810.5 L3626.0,810.7 L3636.0,811.0 L3637.0,811.0 L3637.0,956.0 L266.0,956.0 Z" fill="url(#sp5)" />
<path d="M266.0,850.0 L276.0,848.8 L286.0,847.6 L296.0,846.4 L306.0,845.2 L316.0,844.0 L326.0,842.8 L336.0,841.6 L346.0,840.4 L356.0,839.2 L366.0,838.0 L376.0,836.8 L386.0,835.6 L396.0,834.4 L406.0,833.2 L416.0,832.0 L426.0,832.0 L436.0,832.0 L446.0,832.0 L456.0,832.0 L466.0,832.0 L476.0,832.0 L486.0,832.0 L496.0,832.0 L506.0,832.0 L516.0,832.0 L526.0,832.0 L536.0,832.0 L546.0,832.0 L556.0,832.0 L566.0,832.0 L576.0,832.0 L586.0,832.0 L596.0,832.0 L606.0,832.0 L616.0,832.0 L626.0,832.0 L636.0,832.0 L646.0,832.0 L656.0,832.0 L666.0,832.0 L676.0,832.0 L686.0,832.0 L696.0,832.0 L706.0,835.6 L716.0,841.6 L726.0,847.6 L736.0,850.1 L746.0,850.4 L756.0,850.6 L766.0,850.9 L776.0,851.1 L786.0,851.4 L796.0,851.6 L806.0,851.9 L816.0,852.1 L826.0,852.4 L836.0,852.6 L846.0,852.9 L856.0,853.1 L866.0,853.4 L876.0,853.6 L886.0,853.9 L896.0,854.1 L906.0,854.4 L916.0,854.6 L926.0,854.9 L936.0,855.4 L946.0,856.0 L956.0,856.6 L966.0,857.2 L976.0,857.8 L986.0,858.4 L996.0,859.0 L1006.0,859.6 L1016.0,860.2 L1026.0,860.8 L1036.0,861.4 L1046.0,862.0 L1056.0,862.7 L1066.0,863.3 L1076.0,863.9 L1086.0,864.5 L1096.0,865.1 L1106.0,865.7 L1116.0,866.3 L1126.0,866.9 L1136.0,867.5 L1146.0,868.1 L1156.0,868.7 L1166.0,869.3 L1176.0,869.9 L1186.0,870.0 L1196.0,870.0 L1206.0,870.0 L1216.0,870.0 L1226.0,870.0 L1236.0,870.0 L1246.0,870.0 L1256.0,870.0 L1266.0,870.0 L1276.0,870.0 L1286.0,870.0 L1296.0,870.0 L1306.0,870.0 L1316.0,870.0 L1326.0,870.0 L1336.0,870.0 L1346.0,870.0 L1356.0,870.0 L1366.0,870.0 L1376.0,870.0 L1386.0,870.0 L1396.0,870.0 L1406.0,870.0 L1416.0,870.0 L1426.0,870.0 L1436.0,870.0 L1446.0,870.5 L1456.0,871.0 L1466.0,871.6 L1476.0,872.1 L1486.0,872.6 L1496.0,873.2 L1506.0,873.7 L1516.0,874.2 L1526.0,874.8 L1536.0,875.5 L1546.0,876.2 L1556.0,877.0 L1566.0,877.8 L1576.0,878.5 L1586.0,879.3 L1596.0,880.0 L1606.0,880.8 L1616.0,881.6 L1626.0,882.3 L1636.0,883.1 L1646.0,883.9 L1656.0,884.6 L1666.0,885.4 L1676.0,886.2 L1686.0,886.9 L1696.0,887.7 L1706.0,888.0 L1716.0,888.0 L1726.0,888.0 L1736.0,888.0 L1746.0,888.0 L1756.0,888.0 L1766.0,888.0 L1776.0,888.0 L1786.0,888.0 L1796.0,888.0 L1806.0,888.0 L1816.0,888.0 L1826.0,888.0 L1836.0,888.0 L1846.0,888.0 L1856.0,888.0 L1866.0,888.0 L1876.0,888.0 L1886.0,888.0 L1896.0,888.0 L1906.0,888.0 L1916.0,888.0 L1926.0,888.0 L1936.0,888.0 L1946.0,888.0 L1956.0,888.0 L1966.0,888.0 L1976.0,888.0 L1986.0,888.0 L1996.0,888.0 L2006.0,887.6 L2016.0,886.8 L2026.0,886.1 L2036.0,885.4 L2046.0,884.7 L2056.0,884.0 L2066.0,883.2 L2076.0,882.5 L2086.0,881.8 L2096.0,881.1 L2106.0,880.4 L2116.0,879.6 L2126.0,878.9 L2136.0,878.2 L2146.0,877.5 L2156.0,876.8 L2166.0,876.0 L2176.0,875.3 L2186.0,874.6 L2196.0,873.9 L2206.0,873.2 L2216.0,872.4 L2226.0,871.7 L2236.0,871.0 L2246.0,870.3 L2256.0,868.6 L2266.0,866.3 L2276.0,863.9 L2286.0,861.6 L2296.0,859.3 L2306.0,856.9 L2316.0,854.6 L2326.0,852.3 L2336.0,849.9 L2346.0,847.6 L2356.0,845.3 L2366.0,842.9 L2376.0,840.6 L2386.0,838.3 L2396.0,835.9 L2406.0,834.6 L2416.0,834.0 L2426.0,833.4 L2436.0,832.8 L2446.0,832.2 L2456.0,831.6 L2466.0,831.0 L2476.0,830.4 L2486.0,829.8 L2496.0,829.2 L2506.0,828.6 L2516.0,828.0 L2526.0,827.4 L2536.0,826.8 L2546.0,826.2 L2556.0,825.6 L2566.0,825.0 L2576.0,824.4 L2586.0,823.8 L2596.0,823.2 L2606.0,822.9 L2616.0,822.8 L2626.0,822.7 L2636.0,822.6 L2646.0,822.5 L2656.0,822.4 L2666.0,822.2 L2676.0,822.1 L2686.0,822.0 L2696.0,821.9 L2706.0,821.8 L2716.0,821.7 L2726.0,821.5 L2736.0,821.4 L2746.0,821.3 L2756.0,821.2 L2766.0,821.1 L2776.0,821.0 L2786.0,820.9 L2796.0,820.7 L2806.0,820.6 L2816.0,820.5 L2826.0,820.4 L2836.0,820.3 L2846.0,820.2 L2856.0,820.0 L2866.0,819.9 L2876.0,819.8 L2886.0,819.7 L2896.0,819.6 L2906.0,819.5 L2916.0,819.4 L2926.0,819.2 L2936.0,819.1 L2946.0,819.0 L2956.0,818.9 L2966.0,818.8 L2976.0,818.7 L2986.0,818.6 L2996.0,818.4 L3006.0,818.3 L3016.0,818.2 L3026.0,818.1 L3036.0,818.0 L3046.0,817.9 L3056.0,817.7 L3066.0,817.6 L3076.0,817.5 L3086.0,817.4 L3096.0,817.3 L3106.0,817.2 L3116.0,817.1 L3126.0,816.9 L3136.0,816.8 L3146.0,816.7 L3156.0,816.6 L3166.0,816.5 L3176.0,816.4 L3186.0,816.2 L3196.0,816.1 L3206.0,816.0 L3216.0,815.9 L3226.0,815.8 L3236.0,815.7 L3246.0,815.6 L3256.0,815.4 L3266.0,815.3 L3276.0,815.2 L3286.0,815.1 L3296.0,815.0 L3306.0,815.2 L3316.0,815.3 L3326.0,815.5 L3336.0,815.6 L3346.0,815.8 L3356.0,815.9 L3366.0,816.0 L3376.0,816.2 L3386.0,816.3 L3396.0,816.5 L3406.0,816.6 L3416.0,816.8 L3426.0,816.9 L3436.0,817.1 L3446.0,817.2 L3456.0,817.4 L3466.0,817.5 L3476.0,817.7 L3486.0,817.8 L3496.0,817.9 L3506.0,818.1 L3516.0,818.2 L3526.0,818.4 L3536.0,818.5 L3546.0,818.7 L3556.0,818.8 L3566.0,819.0 L3576.0,819.1 L3586.0,819.3 L3596.0,819.4 L3606.0,819.5 L3616.0,819.7 L3626.0,819.8 L3636.0,820.0 L3637.0,820.0 L3637.0,956.0 L266.0,956.0 Z" fill="#d3d3d3" />
<path d="M1866.0,752.5 L1871.2,754.9 L1876.4,752.0 L1881.5,747.5 L1886.7,742.5 L1891.9,740.4 L1897.1,741.2 L1902.3,742.9 L1907.5,739.8 L1912.6,735.1 L1917.8,732.6 L1923.0,731.9 L1928.2,733.0 L1933.4,732.0 L1938.5,735.0 L1943.7,740.1 L1948.9,738.9 L1954.1,739.9 L1959.3,745.3 L1964.5,747.8 L1969.6,748.7 L1974.8,752.4 L1980.0,754.6 L1980.0,775.2 L1974.8,775.5 L1969.6,775.8 L1964.5,779.2 L1959.3,779.2 L1954.1,783.1 L1948.9,783.4 L1943.7,784.9 L1938.5,787.9 L1933.4,791.7 L1928.2,790.5 L1923.0,792.3 L1917.8,793.5 L1912.6,792.9 L1907.5,789.0 L1902.3,786.9 L1897.1,789.5 L1891.9,788.0 L1886.7,782.6 L1881.5,776.7 L1876.4,776.0 L1871.2,770.9 L1866.0,771.7 Z" fill="url(#spc)" />
<path d="M1945.0,787.5 L1950.0,788.3 L1955.0,784.8 L1960.0,781.0 L1965.0,780.6 L1970.0,779.2 L1975.0,777.6 L1980.0,776.8 L1985.0,776.6 L1990.0,778.5 L1995.0,780.5 L2000.0,780.4 L2005.0,782.2 L2010.0,783.5 L2015.0,784.7 L2020.0,787.9 L2025.0,791.8 L2030.0,790.9 L2030.0,802.4 L2025.0,802.6 L2020.0,804.9 L2015.0,807.0 L2010.0,809.0 L2005.0,811.2 L2000.0,812.4 L1995.0,813.5 L1990.0,814.5 L1985.0,813.8 L1980.0,814.2 L1975.0,813.6 L1970.0,812.7 L1965.0,809.8 L1960.0,809.7 L1955.0,806.9 L1950.0,803.1 L1945.0,802.5 Z" fill="url(#spc)" />
<path d="M2066.0,747.1 L2071.0,748.3 L2076.1,747.4 L2081.1,746.5 L2086.1,744.6 L2091.1,743.7 L2096.2,740.1 L2101.2,740.2 L2106.2,740.4 L2111.2,737.7 L2116.3,738.7 L2121.3,736.5 L2126.3,732.5 L2131.4,734.4 L2136.4,733.4 L2141.4,730.1 L2146.4,729.1 L2151.5,729.0 L2156.5,732.2 L2161.5,729.8 L2166.5,732.6 L2171.6,732.2 L2176.6,730.1 L2181.6,733.5 L2186.6,732.6 L2191.7,733.6 L2196.7,735.0 L2201.7,738.3 L2206.8,736.7 L2211.8,735.9 L2216.8,734.1 L2221.8,734.7 L2226.9,738.8 L2231.9,737.4 L2236.9,742.0 L2241.9,744.6 L2247.0,746.8 L2252.0,745.3 L2252.0,761.0 L2247.0,761.3 L2241.9,761.9 L2236.9,764.8 L2231.9,766.1 L2226.9,767.5 L2221.8,766.9 L2216.8,765.8 L2211.8,763.2 L2206.8,764.1 L2201.7,765.9 L2196.7,768.1 L2191.7,766.3 L2186.6,767.0 L2181.6,765.5 L2176.6,766.7 L2171.6,768.8 L2166.5,771.2 L2161.5,770.8 L2156.5,774.1 L2151.5,775.2 L2146.4,775.2 L2141.4,775.1 L2136.4,776.7 L2131.4,775.6 L2126.3,775.9 L2121.3,774.0 L2116.3,774.7 L2111.2,774.5 L2106.2,771.9 L2101.2,770.6 L2096.2,769.3 L2091.1,765.0 L2086.1,763.1 L2081.1,762.7 L2076.1,759.6 L2071.0,761.7 L2066.0,761.6 Z" fill="url(#spc)" />
<path d="M2043.0,786.8 L2048.1,787.2 L2053.1,787.1 L2058.2,785.7 L2063.2,784.1 L2068.3,784.1 L2073.4,783.1 L2078.4,783.3 L2083.5,783.1 L2088.5,783.1 L2093.6,783.7 L2098.6,783.8 L2103.7,783.5 L2108.8,783.2 L2113.8,782.3 L2118.9,781.7 L2123.9,782.0 L2129.0,782.6 L2134.1,783.1 L2139.1,781.6 L2144.2,780.9 L2149.2,780.4 L2154.3,781.5 L2159.4,780.8 L2164.4,781.6 L2169.5,782.5 L2174.5,783.9 L2179.6,784.3 L2184.6,784.5 L2189.7,783.7 L2194.8,784.9 L2199.8,785.6 L2204.9,787.5 L2209.9,786.7 L2215.0,787.4 L2215.0,795.9 L2209.9,795.2 L2204.9,794.5 L2199.8,795.9 L2194.8,796.9 L2189.7,797.4 L2184.6,797.5 L2179.6,798.7 L2174.5,798.4 L2169.5,797.7 L2164.4,797.5 L2159.4,798.5 L2154.3,800.0 L2149.2,799.7 L2144.2,799.2 L2139.1,799.2 L2134.1,798.6 L2129.0,799.3 L2123.9,799.5 L2118.9,800.4 L2113.8,800.7 L2108.8,799.4 L2103.7,798.4 L2098.6,798.1 L2093.6,798.4 L2088.5,797.0 L2083.5,797.3 L2078.4,796.3 L2073.4,796.3 L2068.3,796.9 L2063.2,796.2 L2058.2,795.4 L2053.1,793.6 L2048.1,794.5 L2043.0,793.4 Z" fill="url(#spc)" />
<path d="M1400.0,794.0 L1405.0,787.4 L1410.0,779.4 L1415.0,775.6 L1420.0,773.9 L1425.0,768.7 L1430.0,765.0 L1435.0,763.3 L1440.0,764.1 L1445.0,768.1 L1450.0,773.1 L1455.0,773.3 L1460.0,780.5 L1465.0,790.9 L1470.0,794.6 L1470.0,824.4 L1465.0,830.2 L1460.0,835.1 L1455.0,840.1 L1450.0,844.2 L1445.0,849.6 L1440.0,848.1 L1435.0,850.3 L1430.0,850.6 L1425.0,847.6 L1420.0,841.9 L1415.0,838.9 L1410.0,834.6 L1405.0,827.2 L1400.0,823.6 Z" fill="url(#spc)" />
<path d="M1490.0,786.1 L1495.0,785.5 L1500.0,784.4 L1505.0,782.0 L1510.0,780.6 L1515.0,777.3 L1520.0,777.6 L1525.0,774.4 L1530.0,770.4 L1535.0,773.0 L1540.0,770.8 L1545.0,767.2 L1550.0,765.1 L1555.0,764.6 L1560.0,764.1 L1565.0,762.1 L1570.0,760.4 L1575.0,756.1 L1580.0,757.4 L1585.0,759.8 L1590.0,756.6 L1595.0,753.7 L1600.0,755.6 L1605.0,760.1 L1610.0,759.0 L1615.0,762.0 L1620.0,764.0 L1625.0,765.8 L1630.0,767.4 L1635.0,767.4 L1640.0,770.8 L1645.0,770.6 L1650.0,766.9 L1655.0,771.8 L1660.0,774.6 L1665.0,776.6 L1670.0,777.7 L1675.0,774.5 L1680.0,777.3 L1685.0,778.5 L1690.0,784.2 L1695.0,783.9 L1700.0,785.9 L1705.0,788.4 L1705.0,820.4 L1700.0,817.4 L1695.0,817.1 L1690.0,822.1 L1685.0,828.0 L1680.0,830.2 L1675.0,835.6 L1670.0,834.8 L1665.0,833.5 L1660.0,836.4 L1655.0,840.0 L1650.0,844.6 L1645.0,846.4 L1640.0,848.5 L1635.0,845.6 L1630.0,847.9 L1625.0,849.7 L1620.0,851.6 L1615.0,848.2 L1610.0,849.4 L1605.0,851.2 L1600.0,853.9 L1595.0,850.9 L1590.0,847.5 L1585.0,844.6 L1580.0,848.1 L1575.0,848.2 L1570.0,845.0 L1565.0,845.9 L1560.0,849.4 L1555.0,848.1 L1550.0,846.2 L1545.0,842.5 L1540.0,840.1 L1535.0,836.8 L1530.0,836.8 L1525.0,835.5 L1520.0,829.2 L1515.0,826.3 L1510.0,825.2 L1505.0,825.8 L1500.0,818.1 L1495.0,820.6 L1490.0,817.4 Z" fill="url(#spc)" />
<path d="M1690.0,749.5 L1695.0,747.3 L1700.0,745.8 L1705.0,744.9 L1710.0,745.3 L1715.0,745.5 L1720.0,743.1 L1725.0,743.1 L1730.0,743.6 L1735.0,744.3 L1740.0,746.3 L1745.0,746.5 L1750.0,749.4 L1755.0,749.9 L1760.0,750.6 L1760.0,758.7 L1755.0,761.0 L1750.0,764.7 L1745.0,767.7 L1740.0,767.8 L1735.0,767.0 L1730.0,768.8 L1725.0,768.1 L1720.0,768.6 L1715.0,767.3 L1710.0,765.5 L1705.0,763.6 L1700.0,763.0 L1695.0,761.8 L1690.0,760.4 Z" fill="url(#spc)" />
<path d="M1720.0,804.8 L1725.0,799.3 L1730.0,795.8 L1735.0,793.4 L1740.0,792.4 L1745.0,795.2 L1750.0,796.7 L1755.0,800.4 L1760.0,803.6 L1760.0,819.4 L1755.0,824.0 L1750.0,827.9 L1745.0,828.1 L1740.0,828.9 L1735.0,830.3 L1730.0,828.7 L1725.0,824.3 L1720.0,820.1 Z" fill="url(#spc)" />
<path d="M269.0,493.0 L285.0,500.0 L300.0,512.0 L330.0,512.0 L360.0,520.0 L390.0,512.0 L410.0,515.0 L420.0,540.0 L440.0,550.0 L465.0,545.0 L472.0,500.0 L485.0,470.0 L495.0,420.0 L505.0,360.0 L520.0,365.0 L545.0,362.0 L570.0,355.0 L595.0,365.0 L610.0,395.0 L625.0,400.0 L640.0,380.0 L660.0,368.0 L680.0,375.0 L700.0,392.0 L720.0,410.0 L740.0,445.0 L760.0,440.0 L780.0,460.0 L800.0,492.0 L820.0,540.0 L835.0,548.0 L850.0,545.0 L865.0,560.0 L880.0,420.0 L890.0,360.0 L905.0,345.0 L930.0,355.0 L950.0,358.0 L975.0,380.0 L990.0,420.0 L995.0,530.0 L1029.0,534.0 L1040.0,549.0 L1075.0,552.0 L1130.0,558.0 L1190.0,550.0 L1200.0,482.0 L1216.0,478.0 L1250.0,476.0 L1300.0,478.0 L1390.0,485.0 L1400.0,480.0 L1420.0,440.0 L1440.0,395.0 L1460.0,352.0 L1480.0,345.0 L1560.0,345.0 L1620.0,350.0 L1650.0,345.0 L1725.0,322.0 L1810.0,308.0 L1920.0,308.0 L2030.0,310.0 L2055.0,330.0 L2090.0,340.0 L2110.0,360.0 L2130.0,380.0 L2150.0,420.0 L2180.0,435.0 L2210.0,430.0 L2220.0,445.0 L2217.0,500.0 L2215.0,515.0 L2175.0,520.0 L2120.0,525.0 L2080.0,530.0 L2027.0,535.0 L2027.0,600.0 L1985.0,612.0 L1951.0,615.0 L1925.0,628.0 L1886.0,631.0 L1847.0,638.0 L1826.0,667.0 L1808.0,649.0 L1782.0,631.0 L1730.0,641.0 L1717.0,659.0 L1678.0,667.0 L1665.0,683.0 L1626.0,698.0 L1600.0,706.0 L1555.0,700.0 L1525.0,737.0 L1494.0,737.0 L1452.0,716.0 L1420.0,700.0 L1320.0,700.0 L1318.0,810.0 L1258.0,815.0 L1256.0,735.0 L1185.0,735.0 L1182.0,745.0 L1172.0,745.0 L1170.0,812.0 L1075.0,810.0 L1048.0,794.0 L1046.0,747.0 L1020.0,740.0 L982.0,728.0 L982.0,755.0 L834.0,755.0 L834.0,745.0 L728.0,748.0 L718.0,818.0 L416.0,818.0 L410.0,800.0 L405.0,771.0 L380.0,735.0 L350.0,710.0 L312.0,680.0 L290.0,675.0 L288.0,654.0 L269.0,654.0 Z" fill="#00ffff" />
<path d="M3321.0,451.0 L3325.0,425.0 L3345.0,430.0 L3365.0,425.0 L3376.0,420.0 L3395.0,425.0 L3413.0,450.0 L3420.0,470.0 L3440.0,485.0 L3480.0,485.0 L3490.0,440.0 L3522.0,425.0 L3530.0,395.0 L3560.0,385.0 L3590.0,380.0 L3598.0,370.0 L3637.0,366.0 L3637.0,752.0 L3576.0,745.0 L3560.0,726.0 L3503.0,701.0 L3487.0,688.0 L3471.0,650.0 L3448.0,630.0 L3420.0,622.0 L3396.0,612.0 L3372.0,514.0 L3351.0,488.0 L3331.0,462.0 Z" fill="#00ffff" />
<path d="M335.0,365.0 L338.0,330.0 L345.0,332.0 L346.0,362.0 Z" fill="#00ffff" />
<g fill="#00ffff"><rect x="3410" y="378" width="4" height="70"/><rect x="3416" y="385" width="3" height="60"/><rect x="3420" y="392" width="4" height="50"/><rect x="3435" y="385" width="3" height="65"/></g>
<path d="M591.0,399.0 L627.0,399.0 L627.0,470.0 L616.0,540.0 L609.0,540.0 L600.0,460.0 L591.0,425.0 Z" fill="#fff" />
<g fill="#00ffff"><rect x="596" y="440" width="4" height="80"/><rect x="606" y="470" width="3" height="70"/></g>
<g fill="#00ffff"><rect x="470" y="382" width="4" height="120"/><rect x="478" y="400" width="3" height="100"/><rect x="486" y="392" width="4" height="90"/><rect x="494" y="380" width="3" height="80"/><rect x="500" y="360" width="5" height="60"/></g>
<defs><clipPath id="cc"><path d="M269,493 L285,500 L300,512 L330,512 L360,520 L390,512 L410,515 L420,540 L440,550 L465,545 L472,500 L485,470 L495,420 L505,360 L520,365 L545,362 L570,355 L595,365 L610,395 L625,400 L640,380 L660,368 L680,375 L700,392 L720,410 L740,445 L760,440 L780,460 L800,492 L820,540 L835,548 L850,545 L865,560 L880,420 L890,360 L905,345 L930,355 L950,358 L975,380 L990,420 L995,530 L1029,534 L1040,549 L1075,552 L1130,558 L1190,550 L1200,482 L1216,478 L1250,476 L1300,478 L1390,485 L1400,480 L1420,440 L1440,395 L1460,352 L1480,345 L1560,345 L1620,350 L1650,345 L1725,322 L1810,308 L1920,308 L2030,310 L2055,330 L2090,340 L2110,360 L2130,380 L2150,420 L2180,435 L2210,430 L2220,445 L2217,500 L2215,515 L2175,520 L2120,525 L2080,530 L2027,535 L2027,600 L1985,612 L1951,615 L1925,628 L1886,631 L1847,638 L1826,667 L1808,649 L1782,631 L1730,641 L1717,659 L1678,667 L1665,683 L1626,698 L1600,706 L1555,700 L1525,737 L1494,737 L1452,716 L1420,700 L1320,700 L1318,810 L1258,815 L1256,735 L1185,735 L1182,745 L1172,745 L1170,812 L1075,810 L1048,794 L1046,747 L1020,740 L982,728 L982,755 L834,755 L834,745 L728,748 L718,818 L416,818 L410,800 L405,771 L380,735 L350,710 L312,680 L290,675 L288,654 L269,654 Z M3321,451 L3325,425 L3345,430 L3365,425 L3376,420 L3395,425 L3413,450 L3420,470 L3440,485 L3480,485 L3490,440 L3522,425 L3530,395 L3560,385 L3590,380 L3598,370 L3637,366 L3637,752 L3576,745 L3560,726 L3503,701 L3487,688 L3471,650 L3448,630 L3420,622 L3396,612 L3372,514 L3351,488 L3331,462 Z"/></clipPath></defs>
<g fill="#00ffff"><rect x="278" y="496" width="6" height="4"/><rect x="283" y="498" width="6" height="4"/><rect x="289" y="500" width="2" height="6"/><rect x="306" y="510" width="4" height="5"/><rect x="311" y="511" width="3" height="4"/><rect x="317" y="502" width="2" height="13"/><rect x="324" y="511" width="6" height="4"/><rect x="333" y="500" width="4" height="16"/><rect x="344" y="511" width="2" height="8"/><rect x="349" y="515" width="2" height="6"/><rect x="355" y="511" width="2" height="10"/><rect x="358" y="510" width="2" height="13"/><rect x="364" y="514" width="2" height="8"/><rect x="396" y="510" width="4" height="6"/><rect x="399" y="504" width="4" height="12"/><rect x="402" y="512" width="2" height="4"/><rect x="405" y="511" width="6" height="7"/><rect x="422" y="527" width="6" height="17"/><rect x="433" y="543" width="2" height="6"/><rect x="444" y="548" width="6" height="5"/><rect x="454" y="540" width="2" height="10"/><rect x="462" y="535" width="2" height="14"/><rect x="468" y="524" width="4" height="4"/><rect x="481" y="474" width="6" height="8"/><rect x="492" y="424" width="3" height="14"/><rect x="503" y="372" width="4" height="3"/><rect x="506" y="360" width="6" height="3"/><rect x="517" y="357" width="6" height="10"/><rect x="526" y="363" width="4" height="4"/><rect x="532" y="354" width="4" height="12"/><rect x="537" y="350" width="3" height="16"/><rect x="562" y="356" width="3" height="4"/><rect x="567" y="337" width="6" height="22"/><rect x="573" y="355" width="6" height="5"/><rect x="582" y="355" width="3" height="8"/><rect x="587" y="361" width="2" height="4"/><rect x="598" y="366" width="3" height="8"/><rect x="604" y="383" width="4" height="3"/><rect x="615" y="386" width="2" height="14"/><rect x="624" y="397" width="2" height="6"/><rect x="633" y="387" width="3" height="6"/><rect x="638" y="375" width="2" height="11"/><rect x="647" y="371" width="2" height="8"/><rect x="653" y="366" width="3" height="9"/><rect x="665" y="366" width="2" height="7"/><rect x="668" y="370" width="3" height="4"/><rect x="673" y="368" width="4" height="7"/><rect x="679" y="367" width="6" height="11"/><rect x="684" y="375" width="2" height="7"/><rect x="687" y="379" width="2" height="5"/><rect x="690" y="377" width="6" height="9"/><rect x="693" y="379" width="6" height="10"/><rect x="701" y="389" width="2" height="7"/><rect x="706" y="396" width="3" height="4"/><rect x="712" y="400" width="3" height="6"/><rect x="725" y="417" width="6" height="5"/><rect x="732" y="424" width="6" height="10"/><rect x="738" y="441" width="2" height="3"/><rect x="744" y="443" width="6" height="4"/><rect x="755" y="441" width="3" height="4"/><rect x="769" y="440" width="6" height="12"/><rect x="778" y="440" width="2" height="21"/><rect x="783" y="457" width="4" height="10"/><rect x="787" y="465" width="6" height="9"/><rect x="790" y="462" width="2" height="17"/><rect x="794" y="480" width="6" height="5"/><rect x="800" y="490" width="2" height="5"/><rect x="804" y="494" width="3" height="11"/><rect x="815" y="516" width="6" height="15"/><rect x="821" y="538" width="4" height="5"/><rect x="824" y="539" width="2" height="6"/><rect x="827" y="534" width="2" height="13"/><rect x="833" y="538" width="3" height="12"/><rect x="836" y="545" width="3" height="6"/><rect x="840" y="538" width="6" height="12"/><rect x="843" y="543" width="4" height="6"/><rect x="847" y="541" width="3" height="7"/><rect x="852" y="524" width="2" height="26"/><rect x="855" y="531" width="3" height="22"/><rect x="865" y="552" width="4" height="11"/><rect x="871" y="491" width="4" height="16"/><rect x="879" y="411" width="2" height="21"/><rect x="887" y="370" width="3" height="11"/><rect x="897" y="351" width="2" height="5"/><rect x="902" y="342" width="2" height="9"/><rect x="906" y="334" width="2" height="14"/><rect x="910" y="327" width="2" height="23"/><rect x="917" y="342" width="6" height="10"/><rect x="923" y="350" width="3" height="6"/><rect x="927" y="346" width="3" height="11"/><rect x="933" y="351" width="3" height="7"/><rect x="940" y="346" width="6" height="14"/><rect x="951" y="355" width="3" height="7"/><rect x="956" y="359" width="6" height="7"/><rect x="970" y="364" width="2" height="15"/><rect x="984" y="390" width="2" height="17"/><rect x="1001" y="529" width="6" height="5"/><rect x="1010" y="526" width="4" height="9"/><rect x="1014" y="516" width="6" height="19"/><rect x="1020" y="531" width="3" height="5"/><rect x="1027" y="513" width="4" height="24"/><rect x="1051" y="544" width="3" height="9"/><rect x="1055" y="543" width="3" height="10"/><rect x="1061" y="544" width="4" height="10"/><rect x="1066" y="549" width="2" height="5"/><rect x="1072" y="543" width="4" height="12"/><rect x="1075" y="545" width="3" height="10"/><rect x="1084" y="552" width="2" height="4"/><rect x="1104" y="543" width="3" height="15"/><rect x="1115" y="552" width="4" height="7"/><rect x="1118" y="554" width="2" height="6"/><rect x="1121" y="548" width="4" height="12"/><rect x="1137" y="547" width="6" height="13"/><rect x="1143" y="553" width="2" height="6"/><rect x="1149" y="549" width="2" height="9"/><rect x="1153" y="545" width="3" height="13"/><rect x="1164" y="547" width="2" height="9"/><rect x="1168" y="553" width="2" height="3"/><rect x="1175" y="533" width="2" height="22"/><rect x="1185" y="546" width="2" height="7"/><rect x="1190" y="543" width="3" height="10"/><rect x="1195" y="515" width="6" height="4"/><rect x="1205" y="477" width="2" height="7"/><rect x="1208" y="477" width="2" height="6"/><rect x="1216" y="478" width="2" height="3"/><rect x="1219" y="471" width="4" height="10"/><rect x="1225" y="475" width="6" height="6"/><rect x="1231" y="475" width="3" height="5"/><rect x="1235" y="471" width="4" height="9"/><rect x="1241" y="476" width="2" height="3"/><rect x="1252" y="475" width="2" height="5"/><rect x="1257" y="476" width="3" height="4"/><rect x="1272" y="471" width="6" height="9"/><rect x="1279" y="476" width="4" height="5"/><rect x="1282" y="473" width="2" height="7"/><rect x="1285" y="471" width="6" height="9"/><rect x="1299" y="475" width="6" height="6"/><rect x="1305" y="477" width="3" height="4"/><rect x="1309" y="476" width="2" height="6"/><rect x="1313" y="470" width="2" height="12"/><rect x="1320" y="469" width="6" height="13"/><rect x="1338" y="478" width="2" height="6"/><rect x="1347" y="478" width="2" height="6"/><rect x="1358" y="475" width="2" height="11"/><rect x="1363" y="473" width="4" height="13"/><rect x="1368" y="481" width="2" height="6"/><rect x="1372" y="483" width="2" height="4"/><rect x="1377" y="482" width="3" height="5"/><rect x="1382" y="479" width="2" height="9"/><rect x="1392" y="475" width="6" height="12"/><rect x="1396" y="479" width="3" height="6"/><rect x="1400" y="470" width="2" height="13"/><rect x="1408" y="446" width="2" height="21"/><rect x="1428" y="410" width="2" height="15"/><rect x="1441" y="382" width="6" height="14"/><rect x="1447" y="379" width="4" height="4"/><rect x="1450" y="369" width="3" height="8"/><rect x="1455" y="347" width="4" height="19"/><rect x="1458" y="346" width="2" height="13"/><rect x="1464" y="351" width="2" height="3"/><rect x="1486" y="342" width="6" height="6"/><rect x="1492" y="340" width="4" height="8"/><rect x="1496" y="336" width="3" height="12"/><rect x="1502" y="344" width="6" height="4"/><rect x="1506" y="340" width="4" height="8"/><rect x="1516" y="340" width="3" height="8"/><rect x="1522" y="340" width="2" height="8"/><rect x="1526" y="341" width="4" height="7"/><rect x="1535" y="340" width="2" height="8"/><rect x="1547" y="340" width="3" height="8"/><rect x="1550" y="336" width="3" height="12"/><rect x="1570" y="333" width="6" height="16"/><rect x="1581" y="343" width="4" height="7"/><rect x="1602" y="348" width="6" height="3"/><rect x="1608" y="347" width="3" height="5"/><rect x="1613" y="346" width="4" height="6"/><rect x="1619" y="349" width="2" height="4"/><rect x="1625" y="340" width="2" height="12"/><rect x="1631" y="348" width="2" height="3"/><rect x="1636" y="328" width="2" height="22"/><rect x="1657" y="336" width="4" height="10"/><rect x="1666" y="334" width="2" height="10"/><rect x="1671" y="323" width="2" height="19"/><rect x="1688" y="333" width="2" height="3"/><rect x="1703" y="316" width="2" height="15"/><rect x="1709" y="311" width="3" height="19"/><rect x="1712" y="317" width="2" height="12"/><rect x="1718" y="324" width="2" height="3"/><rect x="1723" y="315" width="2" height="10"/><rect x="1728" y="321" width="6" height="4"/><rect x="1733" y="318" width="2" height="5"/><rect x="1747" y="317" width="2" height="4"/><rect x="1760" y="315" width="4" height="4"/><rect x="1766" y="313" width="2" height="5"/><rect x="1773" y="301" width="2" height="16"/><rect x="1788" y="308" width="4" height="6"/><rect x="1795" y="307" width="2" height="7"/><rect x="1803" y="306" width="2" height="6"/><rect x="1807" y="302" width="2" height="9"/><rect x="1818" y="301" width="3" height="10"/><rect x="1828" y="305" width="2" height="6"/><rect x="1841" y="306" width="2" height="5"/><rect x="1850" y="307" width="2" height="4"/><rect x="1872" y="308" width="4" height="3"/><rect x="1875" y="303" width="2" height="8"/><rect x="1881" y="299" width="2" height="12"/><rect x="1884" y="303" width="3" height="8"/><rect x="1890" y="306" width="2" height="5"/><rect x="1893" y="301" width="3" height="10"/><rect x="1896" y="302" width="2" height="9"/><rect x="1902" y="305" width="6" height="6"/><rect x="1907" y="302" width="3" height="9"/><rect x="1918" y="303" width="6" height="8"/><rect x="1927" y="306" width="2" height="5"/><rect x="1942" y="306" width="2" height="5"/><rect x="1948" y="305" width="2" height="7"/><rect x="1965" y="301" width="2" height="10"/><rect x="1970" y="303" width="2" height="8"/><rect x="1981" y="307" width="6" height="5"/><rect x="1985" y="305" width="2" height="7"/><rect x="1990" y="301" width="3" height="11"/><rect x="1999" y="308" width="3" height="5"/><rect x="2002" y="296" width="4" height="17"/><rect x="2006" y="308" width="2" height="5"/><rect x="2011" y="305" width="3" height="7"/><rect x="2020" y="307" width="4" height="6"/><rect x="2030" y="309" width="6" height="4"/><rect x="2033" y="300" width="4" height="16"/><rect x="2038" y="311" width="2" height="9"/><rect x="2044" y="319" width="2" height="5"/><rect x="2056" y="309" width="2" height="24"/><rect x="2082" y="334" width="3" height="7"/><rect x="2085" y="331" width="2" height="11"/><rect x="2089" y="338" width="4" height="4"/><rect x="2106" y="356" width="4" height="3"/><rect x="2118" y="365" width="6" height="6"/><rect x="2128" y="370" width="6" height="11"/><rect x="2133" y="383" width="2" height="6"/><rect x="2139" y="390" width="4" height="11"/><rect x="2149" y="416" width="2" height="5"/><rect x="2153" y="421" width="4" height="4"/><rect x="2156" y="421" width="6" height="5"/><rect x="2173" y="419" width="3" height="16"/><rect x="2177" y="427" width="2" height="9"/><rect x="2185" y="431" width="6" height="6"/><rect x="2197" y="432" width="4" height="3"/><rect x="2201" y="428" width="2" height="6"/><rect x="2205" y="430" width="2" height="4"/><rect x="2212" y="429" width="6" height="7"/><rect x="3324" y="431" width="2" height="4"/><rect x="3330" y="423" width="2" height="6"/><rect x="3334" y="420" width="4" height="10"/><rect x="3339" y="427" width="2" height="4"/><rect x="3344" y="428" width="2" height="5"/><rect x="3353" y="427" width="4" height="4"/><rect x="3357" y="423" width="2" height="7"/><rect x="3366" y="422" width="3" height="6"/><rect x="3376" y="412" width="2" height="11"/><rect x="3386" y="420" width="2" height="6"/><rect x="3430" y="471" width="4" height="10"/><rect x="3436" y="471" width="4" height="14"/><rect x="3441" y="470" width="2" height="18"/><rect x="3447" y="483" width="3" height="5"/><rect x="3450" y="482" width="6" height="6"/><rect x="3460" y="479" width="6" height="9"/><rect x="3463" y="478" width="3" height="10"/><rect x="3473" y="477" width="2" height="11"/><rect x="3478" y="485" width="4" height="3"/><rect x="3487" y="453" width="4" height="3"/><rect x="3508" y="431" width="3" height="4"/><rect x="3511" y="423" width="2" height="11"/><rect x="3517" y="421" width="3" height="9"/><rect x="3543" y="390" width="2" height="4"/><rect x="3548" y="387" width="3" height="5"/><rect x="3557" y="384" width="3" height="5"/><rect x="3565" y="362" width="6" height="25"/><rect x="3575" y="382" width="2" height="3"/><rect x="3586" y="376" width="2" height="8"/><rect x="3593" y="371" width="2" height="8"/><rect x="3609" y="364" width="3" height="8"/><rect x="3612" y="363" width="6" height="8"/><rect x="3615" y="367" width="2" height="4"/></g>
<g clip-path="url(#cc)" fill="#fff"><rect x="292" y="506" width="1" height="34"/><rect x="289" y="626" width="2" height="13"/><rect x="272" y="625" width="1" height="18"/><rect x="300" y="494" width="2" height="23"/><rect x="279" y="506" width="3" height="38"/><rect x="280" y="522" width="2" height="40"/><rect x="275" y="570" width="2" height="39"/><rect x="285" y="506" width="1" height="38"/><rect x="273" y="548" width="2" height="22"/><rect x="298" y="559" width="3" height="29"/><rect x="296" y="620" width="3" height="16"/><rect x="277" y="606" width="1" height="37"/><rect x="283" y="556" width="2" height="13"/><rect x="286" y="630" width="3" height="32"/><rect x="391" y="535" width="3" height="17"/><rect x="307" y="539" width="3" height="45"/><rect x="349" y="533" width="2" height="15"/><rect x="384" y="538" width="3" height="27"/><rect x="445" y="521" width="3" height="12"/><rect x="411" y="512" width="1" height="38"/><rect x="359" y="515" width="2" height="29"/><rect x="333" y="524" width="3" height="9"/><rect x="363" y="555" width="2" height="22"/><rect x="413" y="521" width="2" height="38"/><rect x="383" y="556" width="2" height="8"/><rect x="361" y="537" width="2" height="37"/><rect x="450" y="512" width="1" height="31"/><rect x="463" y="521" width="1" height="23"/><rect x="451" y="554" width="2" height="37"/><rect x="346" y="533" width="3" height="16"/><rect x="397" y="539" width="1" height="18"/><rect x="404" y="521" width="1" height="24"/><rect x="444" y="522" width="3" height="43"/><rect x="436" y="522" width="3" height="20"/><rect x="453" y="526" width="2" height="41"/><rect x="359" y="534" width="2" height="37"/><rect x="460" y="550" width="1" height="45"/><rect x="342" y="557" width="2" height="34"/><rect x="378" y="516" width="1" height="45"/><rect x="485" y="420" width="2" height="40"/><rect x="490" y="499" width="2" height="16"/><rect x="484" y="451" width="2" height="9"/><rect x="487" y="462" width="2" height="36"/><rect x="473" y="546" width="2" height="32"/><rect x="479" y="453" width="3" height="19"/><rect x="484" y="474" width="2" height="43"/><rect x="477" y="406" width="2" height="44"/><rect x="501" y="406" width="3" height="29"/><rect x="501" y="514" width="2" height="22"/><rect x="608" y="405" width="2" height="32"/><rect x="593" y="434" width="2" height="41"/><rect x="604" y="411" width="1" height="41"/><rect x="596" y="458" width="2" height="29"/><rect x="589" y="431" width="2" height="22"/><rect x="608" y="404" width="3" height="24"/><rect x="981" y="424" width="1" height="6"/><rect x="968" y="381" width="2" height="19"/><rect x="996" y="413" width="1" height="20"/><rect x="1000" y="436" width="2" height="10"/><rect x="963" y="428" width="1" height="20"/><rect x="975" y="460" width="2" height="23"/><rect x="969" y="385" width="3" height="19"/><rect x="958" y="405" width="3" height="26"/><rect x="964" y="360" width="2" height="35"/><rect x="996" y="437" width="2" height="24"/><rect x="938" y="368" width="3" height="23"/><rect x="938" y="427" width="3" height="34"/><rect x="941" y="383" width="2" height="31"/><rect x="992" y="407" width="2" height="8"/><rect x="950" y="405" width="3" height="6"/><rect x="975" y="426" width="2" height="41"/><rect x="972" y="436" width="1" height="18"/><rect x="999" y="407" width="2" height="27"/><rect x="961" y="465" width="2" height="18"/><rect x="953" y="469" width="1" height="30"/><rect x="934" y="372" width="2" height="26"/><rect x="967" y="395" width="3" height="32"/><rect x="1004" y="515" width="2" height="35"/><rect x="1050" y="471" width="1" height="15"/><rect x="1029" y="476" width="1" height="16"/><rect x="1014" y="492" width="3" height="21"/><rect x="1057" y="509" width="2" height="20"/><rect x="1028" y="500" width="2" height="22"/><rect x="1011" y="497" width="2" height="9"/><rect x="1019" y="471" width="2" height="31"/><rect x="1005" y="472" width="2" height="11"/><rect x="1017" y="504" width="1" height="9"/><rect x="1193" y="508" width="2" height="10"/><rect x="1259" y="528" width="1" height="24"/><rect x="1247" y="501" width="3" height="27"/><rect x="1226" y="503" width="3" height="38"/><rect x="1199" y="529" width="3" height="41"/><rect x="1242" y="538" width="2" height="33"/><rect x="1203" y="505" width="1" height="8"/><rect x="1239" y="550" width="3" height="14"/><rect x="1229" y="532" width="2" height="36"/><rect x="1227" y="501" width="3" height="36"/><rect x="1236" y="521" width="3" height="24"/><rect x="1254" y="534" width="3" height="43"/><rect x="1462" y="483" width="2" height="14"/><rect x="1434" y="421" width="1" height="23"/><rect x="1421" y="468" width="1" height="16"/><rect x="1416" y="491" width="2" height="35"/><rect x="1421" y="463" width="2" height="23"/><rect x="1405" y="469" width="2" height="30"/><rect x="1432" y="485" width="1" height="23"/><rect x="1443" y="462" width="3" height="35"/><rect x="1408" y="476" width="3" height="13"/><rect x="1461" y="430" width="3" height="8"/><rect x="2191" y="470" width="2" height="43"/><rect x="2188" y="464" width="2" height="31"/><rect x="2164" y="496" width="1" height="22"/><rect x="2166" y="494" width="2" height="10"/><rect x="2193" y="496" width="2" height="31"/><rect x="2104" y="486" width="2" height="26"/><rect x="2149" y="482" width="1" height="33"/><rect x="2175" y="479" width="2" height="19"/><rect x="3350" y="620" width="2" height="27"/><rect x="3384" y="591" width="2" height="20"/><rect x="3376" y="462" width="2" height="36"/><rect x="3334" y="615" width="1" height="41"/><rect x="3368" y="566" width="2" height="13"/><rect x="3377" y="513" width="2" height="6"/><rect x="3391" y="594" width="2" height="15"/><rect x="3337" y="546" width="2" height="35"/><rect x="3367" y="480" width="1" height="15"/><rect x="3323" y="439" width="1" height="38"/><rect x="3351" y="578" width="2" height="37"/><rect x="3410" y="469" width="2" height="35"/><rect x="3425" y="468" width="2" height="31"/><rect x="3340" y="469" width="2" height="11"/><rect x="3391" y="620" width="1" height="33"/><rect x="3330" y="447" width="2" height="40"/><rect x="3380" y="527" width="3" height="40"/><rect x="3447" y="506" width="3" height="34"/><rect x="3402" y="542" width="2" height="18"/><rect x="3408" y="433" width="2" height="14"/><rect x="3416" y="436" width="2" height="44"/><rect x="3446" y="491" width="2" height="13"/><rect x="3322" y="585" width="1" height="14"/><rect x="3339" y="555" width="2" height="15"/><rect x="3407" y="492" width="1" height="37"/><rect x="3392" y="492" width="1" height="43"/><rect x="3341" y="445" width="2" height="27"/><rect x="3340" y="499" width="2" height="44"/><rect x="3546" y="479" width="3" height="19"/><rect x="3464" y="497" width="2" height="44"/><rect x="3609" y="499" width="2" height="35"/><rect x="3528" y="462" width="1" height="36"/><rect x="3587" y="495" width="2" height="36"/><rect x="3546" y="470" width="3" height="11"/><rect x="3619" y="472" width="2" height="36"/><rect x="3533" y="497" width="1" height="37"/><rect x="3635" y="449" width="2" height="36"/><rect x="3490" y="485" width="2" height="34"/><rect x="3451" y="449" width="2" height="15"/><rect x="3541" y="460" width="2" height="11"/><rect x="3461" y="496" width="2" height="41"/><rect x="3543" y="470" width="3" height="8"/><rect x="730" y="424" width="1" height="23"/><rect x="739" y="403" width="2" height="44"/><rect x="756" y="451" width="2" height="12"/><rect x="728" y="430" width="3" height="13"/><rect x="721" y="438" width="2" height="18"/><rect x="733" y="428" width="2" height="26"/><rect x="748" y="467" width="3" height="32"/><rect x="712" y="461" width="2" height="20"/><rect x="400" y="569" width="2" height="39"/><rect x="371" y="631" width="3" height="42"/><rect x="292" y="660" width="2" height="23"/><rect x="330" y="631" width="2" height="43"/><rect x="375" y="636" width="3" height="40"/><rect x="333" y="648" width="2" height="32"/><rect x="291" y="627" width="2" height="11"/><rect x="333" y="625" width="3" height="7"/><rect x="277" y="652" width="2" height="27"/><rect x="344" y="674" width="3" height="16"/><rect x="1114" y="600" width="3" height="34"/><rect x="1167" y="561" width="2" height="25"/><rect x="1199" y="593" width="2" height="35"/><rect x="1097" y="553" width="1" height="41"/><rect x="1095" y="561" width="2" height="19"/><rect x="1165" y="562" width="2" height="43"/><rect x="1141" y="551" width="2" height="36"/><rect x="1181" y="585" width="2" height="19"/><rect x="1121" y="573" width="2" height="27"/><rect x="1195" y="560" width="1" height="40"/></g>
<g clip-path="url(#cc)" fill="#ffb6c1"><rect x="434" y="699" width="2" height="30"/><rect x="355" y="596" width="4" height="34"/><rect x="368" y="692" width="3" height="20"/><rect x="412" y="655" width="4" height="11"/><rect x="443" y="664" width="2" height="53"/><rect x="469" y="566" width="3" height="31"/><rect x="363" y="693" width="4" height="34"/><rect x="401" y="563" width="4" height="41"/><rect x="370" y="629" width="3" height="11"/><rect x="457" y="578" width="3" height="27"/><rect x="447" y="709" width="3" height="57"/><rect x="375" y="646" width="4" height="57"/><rect x="357" y="592" width="5" height="37"/><rect x="399" y="600" width="2" height="12"/><rect x="307" y="607" width="4" height="60"/><rect x="434" y="668" width="3" height="33"/><rect x="350" y="656" width="4" height="39"/><rect x="280" y="668" width="5" height="30"/><rect x="386" y="659" width="2" height="46"/><rect x="400" y="643" width="4" height="32"/><rect x="302" y="603" width="5" height="38"/><rect x="419" y="617" width="4" height="48"/><rect x="388" y="647" width="5" height="20"/><rect x="460" y="691" width="5" height="51"/><rect x="318" y="607" width="4" height="53"/><rect x="355" y="654" width="2" height="12"/><rect x="285" y="597" width="2" height="41"/><rect x="342" y="631" width="3" height="43"/><rect x="430" y="654" width="2" height="54"/><rect x="425" y="643" width="4" height="51"/><rect x="469" y="682" width="4" height="26"/><rect x="384" y="571" width="2" height="53"/><rect x="425" y="624" width="4" height="48"/><rect x="414" y="681" width="4" height="18"/><rect x="276" y="681" width="3" height="21"/><rect x="319" y="572" width="2" height="43"/><rect x="280" y="644" width="2" height="44"/><rect x="415" y="577" width="2" height="42"/><rect x="389" y="653" width="2" height="43"/><rect x="272" y="584" width="5" height="12"/><rect x="279" y="713" width="2" height="19"/><rect x="277" y="618" width="2" height="46"/><rect x="295" y="592" width="4" height="59"/><rect x="469" y="583" width="2" height="11"/><rect x="426" y="679" width="5" height="32"/><rect x="349" y="704" width="4" height="25"/><rect x="454" y="685" width="5" height="22"/><rect x="386" y="639" width="5" height="18"/><rect x="360" y="582" width="2" height="18"/><rect x="406" y="569" width="2" height="19"/><rect x="459" y="683" width="4" height="40"/><rect x="290" y="570" width="3" height="48"/><rect x="307" y="640" width="4" height="20"/><rect x="453" y="598" width="5" height="39"/><rect x="271" y="652" width="5" height="39"/><rect x="462" y="710" width="2" height="55"/><rect x="387" y="625" width="5" height="35"/><rect x="344" y="691" width="2" height="21"/><rect x="309" y="639" width="5" height="42"/><rect x="301" y="709" width="4" height="25"/><rect x="459" y="716" width="4" height="42"/><rect x="379" y="703" width="5" height="41"/><rect x="425" y="567" width="3" height="43"/><rect x="353" y="663" width="3" height="25"/><rect x="395" y="669" width="5" height="33"/><rect x="282" y="586" width="4" height="47"/><rect x="465" y="652" width="3" height="27"/><rect x="363" y="627" width="3" height="51"/><rect x="314" y="667" width="4" height="25"/><rect x="445" y="707" width="5" height="36"/><rect x="367" y="699" width="5" height="16"/><rect x="316" y="635" width="5" height="52"/><rect x="367" y="634" width="5" height="59"/><rect x="310" y="571" width="5" height="52"/><rect x="375" y="677" width="2" height="52"/><rect x="355" y="710" width="5" height="12"/><rect x="355" y="663" width="3" height="20"/><rect x="467" y="642" width="3" height="31"/><rect x="370" y="566" width="4" height="18"/><rect x="428" y="635" width="4" height="21"/><rect x="394" y="681" width="5" height="60"/><rect x="307" y="649" width="3" height="40"/><rect x="389" y="621" width="2" height="22"/><rect x="406" y="665" width="4" height="58"/><rect x="323" y="675" width="2" height="46"/><rect x="392" y="643" width="5" height="55"/><rect x="274" y="601" width="2" height="41"/><rect x="361" y="704" width="5" height="45"/><rect x="309" y="633" width="3" height="52"/><rect x="367" y="567" width="3" height="25"/><rect x="309" y="587" width="5" height="28"/><rect x="389" y="579" width="2" height="31"/><rect x="377" y="604" width="2" height="42"/><rect x="467" y="642" width="3" height="19"/><rect x="288" y="611" width="3" height="11"/><rect x="330" y="718" width="3" height="53"/><rect x="390" y="571" width="3" height="12"/><rect x="332" y="624" width="2" height="21"/><rect x="321" y="675" width="2" height="55"/><rect x="454" y="685" width="5" height="49"/><rect x="436" y="621" width="2" height="46"/><rect x="323" y="582" width="5" height="59"/><rect x="421" y="564" width="2" height="48"/><rect x="430" y="663" width="5" height="34"/><rect x="453" y="661" width="3" height="48"/><rect x="272" y="569" width="5" height="20"/><rect x="327" y="620" width="3" height="42"/><rect x="350" y="699" width="3" height="37"/><rect x="456" y="561" width="4" height="47"/><rect x="383" y="589" width="5" height="13"/><rect x="408" y="601" width="4" height="34"/><rect x="358" y="646" width="2" height="29"/><rect x="447" y="625" width="3" height="35"/><rect x="279" y="566" width="1" height="20"/><rect x="453" y="655" width="1" height="18"/><rect x="420" y="658" width="4" height="7"/><rect x="313" y="671" width="2" height="11"/><rect x="403" y="673" width="2" height="25"/><rect x="301" y="581" width="3" height="23"/><rect x="424" y="546" width="2" height="32"/><rect x="401" y="640" width="2" height="39"/><rect x="365" y="600" width="3" height="12"/><rect x="453" y="676" width="3" height="35"/><rect x="456" y="604" width="1" height="38"/><rect x="292" y="562" width="1" height="16"/><rect x="424" y="691" width="4" height="18"/><rect x="273" y="645" width="4" height="26"/><rect x="343" y="618" width="1" height="10"/><rect x="289" y="694" width="2" height="25"/><rect x="328" y="591" width="2" height="39"/><rect x="430" y="614" width="1" height="30"/><rect x="338" y="679" width="1" height="25"/><rect x="394" y="678" width="1" height="24"/><rect x="461" y="616" width="1" height="28"/><rect x="334" y="550" width="4" height="38"/><rect x="389" y="697" width="3" height="6"/><rect x="320" y="634" width="2" height="6"/><rect x="401" y="622" width="2" height="36"/><rect x="462" y="555" width="1" height="27"/><rect x="353" y="628" width="2" height="29"/><rect x="272" y="559" width="3" height="33"/><rect x="460" y="649" width="2" height="28"/><rect x="351" y="592" width="1" height="31"/><rect x="389" y="585" width="4" height="37"/><rect x="424" y="695" width="4" height="26"/><rect x="338" y="699" width="4" height="22"/><rect x="350" y="624" width="2" height="11"/><rect x="435" y="624" width="2" height="23"/><rect x="407" y="698" width="2" height="7"/><rect x="273" y="611" width="2" height="34"/><rect x="340" y="623" width="1" height="19"/><rect x="452" y="613" width="2" height="11"/><rect x="375" y="690" width="1" height="22"/><rect x="399" y="589" width="1" height="17"/><rect x="355" y="583" width="2" height="16"/><rect x="390" y="636" width="2" height="15"/><rect x="290" y="570" width="2" height="23"/><rect x="272" y="626" width="2" height="31"/><rect x="352" y="587" width="2" height="7"/><rect x="437" y="618" width="2" height="11"/><rect x="345" y="684" width="3" height="27"/><rect x="333" y="597" width="4" height="35"/><rect x="317" y="676" width="3" height="18"/><rect x="415" y="553" width="2" height="24"/><rect x="454" y="638" width="1" height="34"/><rect x="430" y="588" width="2" height="25"/><rect x="466" y="612" width="2" height="14"/><rect x="374" y="618" width="3" height="30"/><rect x="297" y="589" width="2" height="33"/><rect x="314" y="695" width="1" height="26"/><rect x="407" y="551" width="4" height="28"/><rect x="468" y="685" width="2" height="7"/><rect x="467" y="659" width="3" height="38"/><rect x="300" y="633" width="2" height="29"/><rect x="434" y="594" width="4" height="33"/><rect x="453" y="675" width="3" height="33"/><rect x="422" y="652" width="2" height="10"/><rect x="453" y="695" width="2" height="38"/><rect x="293" y="571" width="4" height="15"/><rect x="285" y="677" width="3" height="32"/><rect x="728" y="651" width="4" height="26"/><rect x="805" y="557" width="2" height="18"/><rect x="824" y="544" width="3" height="10"/><rect x="827" y="565" width="2" height="40"/><rect x="765" y="654" width="2" height="38"/><rect x="762" y="622" width="2" height="32"/><rect x="756" y="652" width="3" height="5"/><rect x="815" y="580" width="3" height="30"/><rect x="793" y="575" width="2" height="14"/><rect x="830" y="620" width="3" height="28"/><rect x="827" y="631" width="3" height="20"/><rect x="766" y="662" width="2" height="37"/><rect x="792" y="662" width="2" height="26"/><rect x="722" y="615" width="2" height="22"/><rect x="763" y="544" width="2" height="32"/><rect x="753" y="576" width="4" height="31"/><rect x="724" y="637" width="3" height="5"/><rect x="720" y="607" width="2" height="32"/><rect x="759" y="600" width="2" height="38"/><rect x="771" y="591" width="4" height="37"/><rect x="745" y="662" width="1" height="36"/><rect x="726" y="564" width="2" height="18"/><rect x="740" y="628" width="3" height="7"/><rect x="753" y="585" width="2" height="38"/><rect x="794" y="643" width="2" height="18"/><rect x="735" y="606" width="1" height="18"/><rect x="734" y="582" width="1" height="24"/><rect x="725" y="572" width="2" height="13"/><rect x="782" y="560" width="1" height="16"/><rect x="723" y="559" width="2" height="34"/><rect x="852" y="638" width="2" height="8"/><rect x="855" y="663" width="3" height="35"/><rect x="843" y="559" width="4" height="19"/><rect x="854" y="578" width="4" height="17"/><rect x="872" y="534" width="3" height="8"/><rect x="870" y="578" width="3" height="26"/><rect x="878" y="603" width="4" height="11"/><rect x="893" y="672" width="2" height="15"/><rect x="904" y="680" width="2" height="11"/><rect x="850" y="574" width="1" height="38"/><rect x="858" y="682" width="1" height="18"/><rect x="843" y="643" width="2" height="39"/><rect x="852" y="553" width="2" height="24"/><rect x="899" y="689" width="3" height="13"/><rect x="870" y="532" width="4" height="34"/><rect x="908" y="644" width="3" height="40"/><rect x="898" y="585" width="1" height="28"/><rect x="899" y="685" width="1" height="7"/><rect x="852" y="604" width="4" height="19"/><rect x="857" y="677" width="3" height="6"/><rect x="872" y="652" width="3" height="30"/><rect x="876" y="620" width="2" height="32"/><rect x="901" y="527" width="2" height="7"/><rect x="892" y="656" width="2" height="12"/><rect x="885" y="681" width="1" height="24"/><rect x="1010" y="615" width="2" height="24"/><rect x="1015" y="586" width="1" height="36"/><rect x="1032" y="605" width="3" height="34"/><rect x="1036" y="599" width="2" height="16"/><rect x="980" y="603" width="2" height="25"/><rect x="1010" y="639" width="3" height="14"/><rect x="1070" y="612" width="3" height="14"/><rect x="1014" y="639" width="2" height="17"/><rect x="988" y="622" width="1" height="31"/><rect x="1039" y="603" width="3" height="19"/><rect x="1069" y="583" width="3" height="29"/><rect x="981" y="650" width="3" height="14"/><rect x="998" y="612" width="3" height="16"/><rect x="1034" y="613" width="1" height="23"/><rect x="997" y="603" width="2" height="31"/><rect x="1060" y="604" width="3" height="33"/><rect x="1017" y="610" width="2" height="30"/><rect x="998" y="659" width="3" height="38"/><rect x="1072" y="615" width="2" height="14"/><rect x="1023" y="646" width="4" height="8"/><rect x="1055" y="627" width="3" height="23"/><rect x="1011" y="584" width="1" height="16"/><rect x="1023" y="608" width="4" height="37"/><rect x="1029" y="612" width="4" height="37"/><rect x="979" y="584" width="1" height="30"/><rect x="1181" y="599" width="2" height="31"/><rect x="1169" y="560" width="1" height="30"/><rect x="1159" y="653" width="3" height="35"/><rect x="1202" y="630" width="4" height="9"/><rect x="1182" y="594" width="1" height="16"/><rect x="1200" y="611" width="4" height="12"/><rect x="1157" y="574" width="1" height="15"/><rect x="1246" y="592" width="2" height="23"/><rect x="1234" y="654" width="4" height="36"/><rect x="1168" y="635" width="1" height="18"/><rect x="1179" y="573" width="1" height="21"/><rect x="1242" y="574" width="1" height="36"/><rect x="1167" y="578" width="3" height="23"/><rect x="1231" y="601" width="3" height="30"/><rect x="1145" y="566" width="2" height="33"/><rect x="1160" y="593" width="2" height="16"/><rect x="1188" y="631" width="1" height="8"/><rect x="1244" y="613" width="1" height="30"/><rect x="1214" y="660" width="2" height="39"/><rect x="1153" y="600" width="4" height="10"/><rect x="1235" y="588" width="2" height="20"/><rect x="1193" y="622" width="3" height="19"/><rect x="1186" y="615" width="2" height="32"/><rect x="1188" y="577" width="1" height="35"/><rect x="1192" y="603" width="4" height="8"/><rect x="1331" y="808" width="2" height="36"/><rect x="1348" y="616" width="2" height="30"/><rect x="1316" y="722" width="1" height="12"/><rect x="1343" y="771" width="1" height="23"/><rect x="1307" y="780" width="4" height="38"/><rect x="1359" y="600" width="1" height="19"/><rect x="1369" y="780" width="2" height="20"/><rect x="1321" y="805" width="2" height="14"/><rect x="1345" y="625" width="4" height="35"/><rect x="1357" y="674" width="2" height="5"/><rect x="1314" y="732" width="3" height="23"/><rect x="1339" y="607" width="1" height="34"/><rect x="1368" y="800" width="1" height="6"/><rect x="1309" y="806" width="1" height="8"/><rect x="1364" y="715" width="2" height="38"/><rect x="1354" y="744" width="2" height="21"/><rect x="1328" y="603" width="4" height="19"/><rect x="1309" y="660" width="1" height="19"/><rect x="1356" y="799" width="2" height="8"/><rect x="1366" y="725" width="3" height="12"/><rect x="1351" y="774" width="3" height="21"/><rect x="1297" y="685" width="2" height="25"/><rect x="1365" y="627" width="1" height="28"/><rect x="1338" y="780" width="2" height="8"/><rect x="1325" y="602" width="4" height="38"/><rect x="1356" y="619" width="3" height="17"/><rect x="1345" y="739" width="2" height="36"/><rect x="1349" y="681" width="3" height="23"/><rect x="1298" y="795" width="3" height="40"/><rect x="1311" y="653" width="2" height="33"/><rect x="1411" y="652" width="2" height="38"/><rect x="1420" y="623" width="2" height="7"/><rect x="1451" y="686" width="4" height="6"/><rect x="1548" y="676" width="2" height="25"/><rect x="1493" y="665" width="2" height="25"/><rect x="1437" y="690" width="3" height="26"/><rect x="1434" y="680" width="2" height="9"/><rect x="1465" y="648" width="1" height="36"/><rect x="1403" y="675" width="1" height="33"/><rect x="1447" y="610" width="4" height="9"/><rect x="1560" y="657" width="2" height="27"/><rect x="1531" y="673" width="4" height="13"/><rect x="1531" y="650" width="4" height="38"/><rect x="1451" y="671" width="2" height="29"/><rect x="1496" y="667" width="2" height="9"/><rect x="1416" y="644" width="2" height="12"/><rect x="1474" y="647" width="2" height="32"/><rect x="1544" y="678" width="2" height="15"/><rect x="1472" y="644" width="4" height="37"/><rect x="1464" y="624" width="3" height="8"/><rect x="3481" y="573" width="2" height="28"/><rect x="3456" y="594" width="2" height="24"/><rect x="3503" y="597" width="2" height="7"/><rect x="3505" y="620" width="1" height="7"/><rect x="3546" y="633" width="3" height="37"/><rect x="3451" y="607" width="2" height="38"/><rect x="3588" y="598" width="3" height="17"/><rect x="3580" y="611" width="1" height="21"/><rect x="3523" y="663" width="2" height="27"/><rect x="3515" y="670" width="1" height="12"/><rect x="3545" y="576" width="4" height="11"/><rect x="3476" y="665" width="2" height="36"/><rect x="3464" y="653" width="2" height="24"/><rect x="3582" y="581" width="3" height="37"/><rect x="3550" y="713" width="2" height="35"/><rect x="3531" y="584" width="4" height="19"/><rect x="3558" y="642" width="2" height="27"/><rect x="3559" y="606" width="4" height="12"/><rect x="3487" y="614" width="1" height="12"/><rect x="3498" y="654" width="3" height="7"/><rect x="3497" y="681" width="2" height="14"/><rect x="3515" y="632" width="1" height="16"/><rect x="3485" y="692" width="1" height="38"/><rect x="3455" y="700" width="2" height="11"/><rect x="3475" y="571" width="4" height="32"/><rect x="3633" y="591" width="3" height="32"/><rect x="3519" y="618" width="1" height="37"/><rect x="3511" y="604" width="2" height="12"/><rect x="3489" y="711" width="2" height="16"/><rect x="3465" y="677" width="3" height="7"/><rect x="3450" y="584" width="1" height="15"/><rect x="3529" y="682" width="4" height="39"/><rect x="3558" y="719" width="2" height="18"/><rect x="3579" y="643" width="2" height="26"/><rect x="3537" y="715" width="4" height="36"/><rect x="3544" y="670" width="1" height="19"/><rect x="3480" y="655" width="2" height="23"/><rect x="3441" y="597" width="2" height="40"/><rect x="3463" y="631" width="4" height="7"/><rect x="3512" y="633" width="2" height="17"/><rect x="515" y="706" width="2" height="18"/><rect x="507" y="707" width="3" height="33"/><rect x="444" y="696" width="2" height="23"/><rect x="532" y="757" width="1" height="32"/><rect x="456" y="719" width="4" height="21"/><rect x="447" y="707" width="3" height="10"/><rect x="534" y="708" width="1" height="26"/><rect x="478" y="720" width="2" height="20"/><rect x="524" y="729" width="2" height="38"/><rect x="509" y="744" width="3" height="34"/><rect x="1062" y="734" width="3" height="14"/><rect x="1170" y="707" width="3" height="33"/><rect x="1152" y="756" width="1" height="8"/><rect x="1169" y="648" width="2" height="15"/><rect x="1097" y="722" width="3" height="14"/><rect x="1070" y="713" width="3" height="5"/><rect x="1104" y="685" width="2" height="14"/><rect x="1173" y="658" width="2" height="24"/><rect x="1143" y="732" width="3" height="33"/><rect x="1149" y="644" width="1" height="17"/><rect x="1120" y="640" width="4" height="26"/><rect x="1095" y="664" width="2" height="29"/></g>
<g fill="#00ffff"><rect x="774" y="779" width="2" height="35"/><rect x="790" y="764" width="4" height="24"/><rect x="814" y="746" width="3" height="9"/><rect x="813" y="776" width="5" height="36"/><rect x="809" y="764" width="4" height="23"/><rect x="813" y="758" width="4" height="13"/><rect x="768" y="758" width="3" height="25"/><rect x="802" y="746" width="2" height="24"/><rect x="734" y="769" width="5" height="26"/><rect x="825" y="767" width="2" height="33"/><rect x="758" y="764" width="2" height="13"/><rect x="721" y="784" width="3" height="9"/><rect x="816" y="753" width="5" height="11"/><rect x="782" y="777" width="2" height="33"/><rect x="721" y="783" width="5" height="36"/><rect x="765" y="788" width="4" height="18"/><rect x="779" y="763" width="5" height="40"/><rect x="785" y="767" width="2" height="14"/><rect x="720" y="772" width="5" height="32"/><rect x="722" y="771" width="3" height="20"/><rect x="729" y="756" width="5" height="16"/><rect x="809" y="769" width="3" height="29"/><rect x="725" y="751" width="4" height="19"/><rect x="796" y="756" width="3" height="33"/><rect x="737" y="778" width="4" height="17"/><rect x="769" y="749" width="4" height="15"/><rect x="763" y="776" width="3" height="34"/><rect x="757" y="745" width="3" height="19"/><rect x="818" y="755" width="2" height="23"/><rect x="746" y="761" width="2" height="25"/><rect x="777" y="783" width="4" height="12"/><rect x="788" y="776" width="4" height="8"/><rect x="771" y="753" width="3" height="22"/><rect x="749" y="750" width="2" height="28"/><rect x="788" y="775" width="4" height="12"/><rect x="746" y="774" width="2" height="32"/><rect x="760" y="778" width="2" height="18"/><rect x="827" y="763" width="3" height="39"/><rect x="729" y="762" width="3" height="16"/><rect x="766" y="790" width="3" height="20"/><rect x="786" y="778" width="3" height="23"/><rect x="820" y="745" width="2" height="38"/><rect x="747" y="762" width="4" height="19"/><rect x="768" y="751" width="3" height="35"/><rect x="744" y="781" width="5" height="29"/><rect x="1244" y="735" width="3" height="26"/><rect x="1210" y="751" width="4" height="39"/><rect x="1226" y="762" width="3" height="29"/><rect x="1256" y="764" width="3" height="11"/><rect x="1229" y="778" width="3" height="25"/><rect x="1250" y="780" width="3" height="31"/><rect x="1225" y="773" width="2" height="10"/><rect x="1225" y="742" width="2" height="32"/><rect x="1255" y="748" width="3" height="40"/><rect x="1208" y="746" width="3" height="17"/><rect x="1241" y="755" width="4" height="40"/><rect x="1205" y="736" width="4" height="26"/><rect x="1223" y="750" width="2" height="38"/><rect x="1222" y="750" width="5" height="18"/><rect x="1241" y="737" width="2" height="40"/><rect x="1191" y="740" width="5" height="21"/><rect x="1240" y="739" width="2" height="29"/><rect x="1185" y="742" width="2" height="24"/><rect x="1244" y="753" width="2" height="18"/><rect x="1206" y="761" width="4" height="36"/><rect x="1552" y="712" width="4" height="14"/><rect x="1479" y="746" width="3" height="11"/><rect x="1517" y="723" width="3" height="8"/><rect x="1486" y="714" width="4" height="31"/><rect x="1509" y="728" width="2" height="36"/><rect x="1457" y="727" width="3" height="24"/><rect x="1501" y="727" width="3" height="18"/><rect x="1533" y="738" width="5" height="34"/><rect x="1527" y="713" width="5" height="32"/><rect x="1444" y="731" width="5" height="12"/><rect x="1442" y="735" width="3" height="15"/><rect x="1497" y="726" width="4" height="35"/><rect x="1556" y="718" width="4" height="28"/><rect x="1490" y="736" width="3" height="15"/><rect x="1549" y="739" width="3" height="32"/><rect x="1446" y="734" width="3" height="35"/><rect x="1479" y="747" width="5" height="13"/><rect x="1497" y="742" width="5" height="16"/><rect x="1530" y="717" width="2" height="17"/><rect x="1509" y="731" width="4" height="18"/><rect x="1998" y="803" width="3" height="12"/><rect x="1991" y="804" width="3" height="16"/><rect x="1985" y="806" width="3" height="20"/><rect x="2002" y="800" width="5" height="37"/><rect x="2004" y="810" width="2" height="23"/><rect x="1963" y="788" width="2" height="36"/><rect x="2028" y="792" width="2" height="14"/><rect x="2014" y="790" width="5" height="30"/><rect x="2021" y="794" width="4" height="24"/><rect x="1996" y="805" width="4" height="33"/><rect x="1970" y="810" width="2" height="12"/><rect x="1982" y="785" width="2" height="27"/><rect x="2025" y="807" width="4" height="12"/><rect x="2022" y="794" width="5" height="39"/><rect x="1999" y="798" width="2" height="29"/><rect x="1969" y="800" width="3" height="17"/><rect x="2022" y="786" width="2" height="31"/><rect x="1987" y="790" width="4" height="14"/><rect x="2001" y="799" width="4" height="31"/><rect x="1992" y="802" width="4" height="14"/><rect x="1968" y="802" width="5" height="10"/><rect x="1975" y="787" width="3" height="26"/><rect x="1987" y="794" width="2" height="20"/><rect x="1979" y="806" width="3" height="35"/><rect x="1958" y="792" width="5" height="20"/><rect x="1957" y="800" width="2" height="39"/><rect x="2005" y="806" width="3" height="23"/><rect x="1956" y="808" width="3" height="15"/><rect x="1998" y="786" width="3" height="25"/><rect x="1970" y="791" width="4" height="25"/><rect x="1679" y="749" width="5" height="29"/><rect x="1676" y="749" width="5" height="22"/><rect x="1665" y="749" width="5" height="32"/><rect x="1702" y="739" width="3" height="18"/><rect x="1749" y="756" width="5" height="37"/><rect x="1647" y="746" width="2" height="32"/><rect x="1683" y="759" width="4" height="36"/><rect x="1671" y="739" width="2" height="34"/><rect x="1665" y="742" width="5" height="28"/><rect x="1718" y="746" width="2" height="39"/><rect x="1683" y="755" width="2" height="28"/><rect x="1669" y="750" width="3" height="29"/><rect x="1721" y="749" width="3" height="12"/><rect x="1689" y="760" width="2" height="15"/><rect x="1749" y="758" width="3" height="28"/><rect x="1652" y="742" width="4" height="23"/><rect x="1664" y="754" width="2" height="39"/><rect x="1687" y="741" width="2" height="9"/><rect x="1739" y="758" width="2" height="13"/><rect x="1680" y="739" width="3" height="35"/><rect x="1718" y="746" width="4" height="23"/><rect x="1732" y="755" width="5" height="27"/><rect x="1710" y="740" width="4" height="17"/><rect x="1675" y="756" width="3" height="25"/><rect x="1669" y="757" width="3" height="21"/><rect x="2110" y="789" width="3" height="30"/><rect x="2115" y="789" width="4" height="21"/><rect x="2116" y="792" width="3" height="13"/><rect x="2125" y="784" width="3" height="16"/><rect x="2115" y="787" width="4" height="19"/><rect x="2118" y="786" width="4" height="28"/><rect x="2240" y="786" width="4" height="30"/><rect x="2259" y="782" width="5" height="24"/><rect x="2241" y="783" width="3" height="38"/><rect x="2257" y="787" width="2" height="25"/><rect x="3426" y="644" width="2" height="9"/><rect x="3444" y="624" width="5" height="27"/><rect x="3420" y="639" width="5" height="25"/><rect x="3456" y="662" width="3" height="8"/><rect x="3470" y="622" width="4" height="38"/><rect x="3440" y="676" width="2" height="16"/><rect x="3407" y="678" width="2" height="14"/><rect x="3398" y="625" width="5" height="40"/><rect x="3425" y="676" width="2" height="17"/><rect x="3407" y="658" width="4" height="37"/><rect x="3403" y="671" width="5" height="37"/><rect x="3422" y="615" width="3" height="18"/><rect x="3405" y="656" width="3" height="13"/><rect x="3466" y="669" width="2" height="33"/><rect x="3420" y="648" width="4" height="22"/></g>
<rect x="1322" y="815" width="115" height="40" fill="#ffb6c1" opacity="0.55"/>
<g fill="#ffb6c1"><rect x="1439" y="835" width="3" height="24"/><rect x="1370" y="831" width="4" height="8"/><rect x="1415" y="841" width="3" height="17"/><rect x="1393" y="843" width="4" height="21"/><rect x="1418" y="852" width="4" height="23"/><rect x="1359" y="851" width="3" height="6"/><rect x="1342" y="839" width="5" height="16"/><rect x="1360" y="816" width="5" height="7"/><rect x="1356" y="852" width="4" height="9"/><rect x="1354" y="821" width="5" height="14"/><rect x="1388" y="851" width="3" height="11"/><rect x="1415" y="826" width="5" height="12"/><rect x="1409" y="843" width="5" height="21"/><rect x="1367" y="827" width="3" height="17"/><rect x="1399" y="822" width="5" height="20"/><rect x="1384" y="843" width="4" height="12"/><rect x="1382" y="842" width="2" height="9"/><rect x="1410" y="853" width="5" height="15"/><rect x="1387" y="846" width="5" height="18"/><rect x="1408" y="834" width="4" height="18"/><rect x="1381" y="853" width="5" height="5"/><rect x="1419" y="836" width="5" height="15"/><rect x="1378" y="829" width="4" height="5"/><rect x="1377" y="834" width="4" height="11"/><rect x="1333" y="814" width="2" height="18"/><rect x="1333" y="838" width="2" height="8"/><rect x="1359" y="815" width="4" height="7"/><rect x="1362" y="828" width="5" height="24"/><rect x="1435" y="836" width="4" height="5"/><rect x="1338" y="849" width="4" height="16"/><rect x="1349" y="841" width="4" height="24"/><rect x="1338" y="826" width="4" height="17"/><rect x="1363" y="824" width="4" height="18"/><rect x="1380" y="847" width="4" height="25"/><rect x="1362" y="822" width="2" height="13"/><rect x="1436" y="821" width="4" height="18"/><rect x="1403" y="820" width="3" height="21"/><rect x="1418" y="827" width="4" height="21"/><rect x="1420" y="833" width="5" height="22"/><rect x="1357" y="847" width="5" height="20"/><rect x="1384" y="825" width="2" height="16"/><rect x="1356" y="846" width="5" height="8"/><rect x="1376" y="837" width="4" height="12"/><rect x="1346" y="833" width="4" height="19"/><rect x="1393" y="824" width="2" height="17"/><rect x="1419" y="814" width="4" height="22"/><rect x="1381" y="850" width="4" height="20"/><rect x="1426" y="825" width="5" height="11"/><rect x="1404" y="852" width="4" height="12"/><rect x="1364" y="842" width="5" height="6"/><rect x="1321" y="852" width="2" height="13"/><rect x="1345" y="835" width="3" height="20"/><rect x="1331" y="851" width="2" height="5"/><rect x="1347" y="845" width="3" height="20"/><rect x="1439" y="830" width="3" height="19"/><rect x="1348" y="828" width="2" height="8"/><rect x="1357" y="837" width="5" height="19"/><rect x="1378" y="817" width="4" height="23"/><rect x="1426" y="838" width="5" height="11"/><rect x="1380" y="851" width="2" height="12"/><rect x="1693" y="795" width="2" height="18"/><rect x="1526" y="835" width="2" height="23"/><rect x="1605" y="800" width="3" height="15"/><rect x="1647" y="795" width="2" height="25"/><rect x="1655" y="826" width="5" height="15"/><rect x="1691" y="807" width="4" height="11"/><rect x="1518" y="831" width="5" height="20"/><rect x="1562" y="836" width="3" height="4"/><rect x="1615" y="801" width="2" height="14"/><rect x="1584" y="808" width="3" height="21"/><rect x="1615" y="814" width="2" height="24"/><rect x="1557" y="802" width="3" height="18"/><rect x="1686" y="803" width="3" height="24"/><rect x="1603" y="808" width="5" height="24"/><rect x="1680" y="807" width="4" height="11"/><rect x="1661" y="801" width="4" height="15"/><rect x="1687" y="811" width="2" height="12"/><rect x="1568" y="800" width="4" height="17"/><rect x="1695" y="804" width="3" height="12"/><rect x="1574" y="837" width="3" height="15"/><rect x="1635" y="810" width="4" height="19"/><rect x="1535" y="799" width="5" height="18"/><rect x="1557" y="829" width="2" height="15"/><rect x="1615" y="795" width="3" height="24"/><rect x="1661" y="812" width="3" height="13"/><rect x="1696" y="833" width="4" height="18"/><rect x="1594" y="803" width="4" height="13"/><rect x="1634" y="834" width="5" height="5"/><rect x="1569" y="839" width="3" height="8"/><rect x="1668" y="815" width="2" height="16"/><rect x="1696" y="826" width="4" height="9"/><rect x="1578" y="803" width="2" height="8"/><rect x="1697" y="813" width="2" height="23"/><rect x="1540" y="831" width="4" height="13"/><rect x="1594" y="809" width="4" height="21"/><rect x="1684" y="824" width="5" height="14"/><rect x="1589" y="814" width="4" height="6"/><rect x="1675" y="796" width="2" height="6"/><rect x="1532" y="825" width="4" height="11"/><rect x="1591" y="823" width="5" height="21"/><rect x="3628" y="794" width="4" height="15"/><rect x="3624" y="795" width="4" height="15"/><rect x="3560" y="835" width="3" height="20"/><rect x="3623" y="783" width="4" height="8"/><rect x="3620" y="804" width="3" height="8"/><rect x="3605" y="771" width="2" height="5"/><rect x="3631" y="785" width="2" height="17"/><rect x="3612" y="771" width="3" height="14"/><rect x="3593" y="826" width="4" height="5"/><rect x="3603" y="792" width="4" height="5"/><rect x="3578" y="809" width="3" height="15"/><rect x="3592" y="802" width="4" height="16"/><rect x="3586" y="790" width="3" height="22"/><rect x="3608" y="794" width="2" height="15"/><rect x="3565" y="763" width="3" height="20"/><rect x="3624" y="763" width="5" height="7"/><rect x="3605" y="796" width="5" height="9"/><rect x="3633" y="785" width="5" height="20"/><rect x="3563" y="783" width="2" height="13"/><rect x="3588" y="810" width="3" height="13"/><rect x="3625" y="783" width="5" height="14"/><rect x="3587" y="823" width="3" height="13"/><rect x="3563" y="800" width="3" height="15"/><rect x="3631" y="799" width="5" height="20"/><rect x="3623" y="805" width="5" height="23"/><rect x="1697" y="762" width="3" height="4"/><rect x="1679" y="796" width="4" height="21"/><rect x="1656" y="767" width="3" height="23"/><rect x="1690" y="757" width="5" height="7"/><rect x="1655" y="754" width="2" height="15"/><rect x="1633" y="748" width="4" height="23"/><rect x="1702" y="772" width="2" height="14"/><rect x="1636" y="751" width="5" height="8"/><rect x="1732" y="792" width="3" height="24"/><rect x="1712" y="791" width="4" height="13"/><rect x="1633" y="769" width="3" height="24"/><rect x="1722" y="770" width="3" height="11"/><rect x="1747" y="747" width="5" height="25"/><rect x="1664" y="776" width="2" height="13"/><rect x="1693" y="791" width="5" height="23"/><rect x="1729" y="762" width="4" height="7"/><rect x="1744" y="774" width="5" height="23"/><rect x="1658" y="752" width="3" height="20"/><rect x="1652" y="745" width="3" height="24"/><rect x="1751" y="797" width="4" height="7"/><rect x="1684" y="751" width="4" height="20"/><rect x="1665" y="787" width="5" height="24"/><rect x="1633" y="783" width="3" height="12"/><rect x="1644" y="777" width="4" height="20"/><rect x="1738" y="752" width="2" height="18"/><rect x="1907" y="774" width="4" height="24"/><rect x="1882" y="796" width="4" height="13"/><rect x="1985" y="811" width="2" height="7"/><rect x="1933" y="788" width="2" height="22"/><rect x="1978" y="812" width="2" height="7"/><rect x="1897" y="781" width="2" height="20"/><rect x="1940" y="781" width="3" height="19"/><rect x="1872" y="787" width="5" height="16"/><rect x="1876" y="765" width="5" height="7"/><rect x="1906" y="798" width="4" height="21"/><rect x="1977" y="761" width="3" height="8"/><rect x="1895" y="802" width="2" height="12"/><rect x="1994" y="770" width="5" height="21"/><rect x="1944" y="772" width="3" height="11"/><rect x="1932" y="761" width="2" height="20"/><rect x="2194" y="789" width="5" height="24"/><rect x="2096" y="785" width="3" height="17"/><rect x="2198" y="790" width="3" height="6"/><rect x="2212" y="783" width="3" height="24"/><rect x="2115" y="782" width="2" height="15"/><rect x="2132" y="788" width="4" height="6"/><rect x="2164" y="781" width="3" height="15"/><rect x="2059" y="782" width="3" height="12"/><rect x="2093" y="790" width="5" height="11"/><rect x="2095" y="778" width="5" height="5"/><rect x="2226" y="784" width="3" height="7"/><rect x="2079" y="779" width="3" height="17"/><rect x="503" y="811" width="2" height="22"/><rect x="505" y="802" width="4" height="20"/><rect x="556" y="813" width="5" height="20"/><rect x="525" y="822" width="5" height="14"/><rect x="543" y="814" width="4" height="17"/><rect x="507" y="819" width="3" height="12"/><rect x="527" y="807" width="2" height="10"/><rect x="535" y="821" width="4" height="18"/><rect x="530" y="830" width="4" height="11"/><rect x="480" y="812" width="5" height="21"/><rect x="541" y="801" width="2" height="15"/><rect x="548" y="833" width="4" height="16"/><rect x="3451" y="779" width="4" height="13"/><rect x="3553" y="763" width="4" height="13"/><rect x="3531" y="774" width="2" height="9"/><rect x="3504" y="768" width="4" height="21"/><rect x="3520" y="774" width="4" height="23"/><rect x="3505" y="770" width="2" height="15"/><rect x="3541" y="776" width="4" height="18"/><rect x="3501" y="770" width="2" height="15"/><rect x="3559" y="763" width="4" height="8"/><rect x="3549" y="763" width="2" height="24"/></g>
<rect x="762" y="760" width="9" height="125" fill="#fff"/><rect x="786" y="760" width="10" height="125" fill="#fff"/>
<rect x="762" y="875" width="9" height="10" fill="#ffb6c1"/><rect x="786" y="875" width="10" height="10" fill="#ffb6c1"/>
<path d="M287.2,513.4 L321.2,513.4 L304.2,543.4 Z" fill="#ff0000" />
<path d="M334.0,513.4 L368.0,513.4 L351.0,543.4 Z" fill="#ff0000" />
<path d="M356.9,492.6 L390.9,492.6 L373.9,522.6 Z" fill="#ff0000" />
<path d="M382.1,510.8 L416.1,510.8 L399.1,540.8 Z" fill="#ff0000" />
<path d="M404.3,577.1 L438.3,577.1 L421.3,607.1 Z" fill="#ff0000" />
<path d="M428.2,565.9 L462.2,565.9 L445.2,595.9 Z" fill="#ff0000" />
<path d="M475.3,412.7 L509.3,412.7 L492.3,442.7 Z" fill="#ff0000" />
<path d="M497.9,374.2 L531.9,374.2 L514.9,404.2 Z" fill="#ff0000" />
<path d="M522.1,365.1 L556.1,365.1 L539.1,395.1 Z" fill="#ff0000" />
<path d="M545.5,347.7 L579.5,347.7 L562.5,377.7 Z" fill="#ff0000" />
<path d="M569.4,362.5 L603.4,362.5 L586.4,392.5 Z" fill="#ff0000" />
<path d="M615.7,379.4 L649.7,379.4 L632.7,409.4 Z" fill="#ff0000" />
<path d="M639.1,376.8 L673.1,376.8 L656.1,406.8 Z" fill="#ff0000" />
<path d="M662.3,375.5 L696.3,375.5 L679.3,405.5 Z" fill="#ff0000" />
<path d="M709.3,398.9 L743.3,398.9 L726.3,428.9 Z" fill="#ff0000" />
<path d="M756.7,454.9 L790.7,454.9 L773.7,484.9 Z" fill="#ff0000" />
<path d="M780.1,466.6 L814.1,466.6 L797.1,496.6 Z" fill="#ff0000" />
<path d="M685.2,482.2 L719.2,482.2 L702.2,512.2 Z" fill="#ff0000" />
<path d="M733.3,501.7 L767.3,501.7 L750.3,531.7 Z" fill="#ff0000" />
<path d="M873.2,374.2 L907.2,374.2 L890.2,404.2 Z" fill="#ff0000" />
<path d="M895.8,341.7 L929.8,341.7 L912.8,371.7 Z" fill="#ff0000" />
<path d="M911.4,367.7 L945.4,367.7 L928.4,397.7 Z" fill="#ff0000" />
<path d="M802.2,548.5 L836.2,548.5 L819.2,578.5 Z" fill="#ff0000" />
<path d="M826.9,588.8 L860.9,588.8 L843.9,618.8 Z" fill="#ff0000" />
<path d="M850.3,549.8 L884.3,549.8 L867.3,579.8 Z" fill="#ff0000" />
<path d="M709.3,451.1 L743.3,451.1 L726.3,421.1 Z" fill="#ff0000" />
<path d="M873.2,415.2 L907.2,415.2 L890.2,385.2 Z" fill="#ff0000" />
<path d="M879.5,553.6 L904.5,553.6 L892.0,576.1 Z" fill="none" stroke="#ff0000" stroke-width="5"/>
<path d="M287.5,683.3 L321.5,683.3 L304.5,653.3 Z" fill="#ff0000" />
<path d="M311.4,709.3 L345.4,709.3 L328.4,679.3 Z" fill="#ff0000" />
<path d="M334.8,731.4 L368.8,731.4 L351.8,701.4 Z" fill="#ff0000" />
<path d="M358.2,710.1 L392.2,710.1 L375.2,680.1 Z" fill="#ff0000" />
<path d="M381.6,743.7 L415.6,743.7 L398.6,713.7 Z" fill="#ff0000" />
<path d="M428.2,775.1 L462.2,775.1 L445.2,745.1 Z" fill="#ff0000" />
<path d="M451.6,783.5 L485.6,783.5 L468.6,753.5 Z" fill="#ff0000" />
<path d="M404.8,813.4 L438.8,813.4 L421.8,783.4 Z" fill="#ff0000" />
<path d="M474.5,809.5 L508.5,809.5 L491.5,779.5 Z" fill="#ff0000" />
<path d="M498.4,816.0 L532.4,816.0 L515.4,786.0 Z" fill="#ff0000" />
<path d="M521.8,821.7 L555.8,821.7 L538.8,791.7 Z" fill="#ff0000" />
<path d="M545.2,821.7 L579.2,821.7 L562.2,791.7 Z" fill="#ff0000" />
<path d="M568.6,823.8 L602.6,823.8 L585.6,793.8 Z" fill="#ff0000" />
<path d="M592.0,825.6 L626.0,825.6 L609.0,795.6 Z" fill="#ff0000" />
<path d="M615.5,829.8 L649.5,829.8 L632.5,799.8 Z" fill="#ff0000" />
<path d="M638.9,831.6 L672.9,831.6 L655.9,801.6 Z" fill="#ff0000" />
<path d="M662.3,828.2 L696.3,828.2 L679.3,798.2 Z" fill="#ff0000" />
<path d="M685.7,827.7 L719.7,827.7 L702.7,797.7 Z" fill="#ff0000" />
<path d="M732.8,759.5 L766.8,759.5 L749.8,729.5 Z" fill="#ff0000" />
<path d="M756.2,733.5 L790.2,733.5 L773.2,703.5 Z" fill="#ff0000" />
<path d="M779.6,735.9 L813.6,735.9 L796.6,705.9 Z" fill="#ff0000" />
<path d="M803.0,763.4 L837.0,763.4 L820.0,733.4 Z" fill="#ff0000" />
<path d="M826.4,747.0 L860.4,747.0 L843.4,717.0 Z" fill="#ff0000" />
<path d="M897.1,754.8 L931.1,754.8 L914.1,724.8 Z" fill="#ff0000" />
<path d="M713.8,795.3 L738.8,795.3 L726.3,772.8 Z" fill="none" stroke="#ff0000" stroke-width="5"/>
<path d="M877.7,728.9 L902.7,728.9 L890.2,706.4 Z" fill="none" stroke="#ff0000" stroke-width="5"/>
<path d="M942.9,365.1 L976.9,365.1 L959.9,395.1 Z" fill="#ff0000" />
<path d="M967.1,389.8 L1001.1,389.8 L984.1,419.8 Z" fill="#ff0000" />
<path d="M990.2,493.9 L1024.2,493.9 L1007.2,523.9 Z" fill="#ff0000" />
<path d="M1037.3,490.0 L1071.3,490.0 L1054.3,520.0 Z" fill="#ff0000" />
<path d="M1083.4,506.9 L1117.4,506.9 L1100.4,536.9 Z" fill="#ff0000" />
<path d="M1013.1,548.5 L1047.1,548.5 L1030.1,578.5 Z" fill="#ff0000" />
<path d="M1107.5,564.1 L1141.5,564.1 L1124.5,594.1 Z" fill="#ff0000" />
<path d="M1131.0,584.9 L1165.0,584.9 L1148.0,614.9 Z" fill="#ff0000" />
<path d="M1154.4,584.9 L1188.4,584.9 L1171.4,614.9 Z" fill="#ff0000" />
<path d="M1177.8,579.7 L1211.8,579.7 L1194.8,609.7 Z" fill="#ff0000" />
<path d="M1201.2,470.5 L1235.2,470.5 L1218.2,500.5 Z" fill="#ff0000" />
<path d="M1224.6,462.7 L1258.6,462.7 L1241.6,492.7 Z" fill="#ff0000" />
<path d="M1248.0,473.1 L1282.0,473.1 L1265.0,503.1 Z" fill="#ff0000" />
<path d="M1271.4,491.3 L1305.4,491.3 L1288.4,521.3 Z" fill="#ff0000" />
<path d="M1294.8,475.7 L1328.8,475.7 L1311.8,505.7 Z" fill="#ff0000" />
<path d="M1318.2,478.3 L1352.2,478.3 L1335.2,508.3 Z" fill="#ff0000" />
<path d="M1341.6,487.4 L1375.6,487.4 L1358.6,517.4 Z" fill="#ff0000" />
<path d="M1365.6,482.2 L1399.6,482.2 L1382.6,512.2 Z" fill="#ff0000" />
<path d="M1389.0,408.1 L1423.0,408.1 L1406.0,438.1 Z" fill="#ff0000" />
<path d="M1412.4,392.4 L1446.4,392.4 L1429.4,422.4 Z" fill="#ff0000" />
<path d="M1435.8,374.2 L1469.8,374.2 L1452.8,404.2 Z" fill="#ff0000" />
<path d="M1457.9,333.9 L1491.9,333.9 L1474.9,363.9 Z" fill="#ff0000" />
<path d="M1482.1,319.6 L1516.1,319.6 L1499.1,349.6 Z" fill="#ff0000" />
<path d="M1528.9,340.4 L1562.9,340.4 L1545.9,370.4 Z" fill="#ff0000" />
<path d="M1576.2,350.8 L1610.2,350.8 L1593.2,380.8 Z" fill="#ff0000" />
<path d="M919.5,745.7 L953.5,745.7 L936.5,715.7 Z" fill="#ff0000" />
<path d="M943.7,756.1 L977.7,756.1 L960.7,726.1 Z" fill="#ff0000" />
<path d="M967.1,715.8 L1001.1,715.8 L984.1,685.8 Z" fill="#ff0000" />
<path d="M990.5,727.5 L1024.5,727.5 L1007.5,697.5 Z" fill="#ff0000" />
<path d="M1013.9,745.7 L1047.9,745.7 L1030.9,715.7 Z" fill="#ff0000" />
<path d="M1037.3,785.5 L1071.3,785.5 L1054.3,755.5 Z" fill="#ff0000" />
<path d="M1084.1,831.6 L1118.1,831.6 L1101.1,801.6 Z" fill="#ff0000" />
<path d="M1107.5,831.6 L1141.5,831.6 L1124.5,801.6 Z" fill="#ff0000" />
<path d="M1131.0,821.9 L1165.0,821.9 L1148.0,791.9 Z" fill="#ff0000" />
<path d="M1154.4,773.8 L1188.4,773.8 L1171.4,743.8 Z" fill="#ff0000" />
<path d="M1177.8,750.2 L1211.8,750.2 L1194.8,720.2 Z" fill="#ff0000" />
<path d="M1201.2,746.5 L1235.2,746.5 L1218.2,716.5 Z" fill="#ff0000" />
<path d="M1224.6,748.3 L1258.6,748.3 L1241.6,718.3 Z" fill="#ff0000" />
<path d="M1248.0,806.3 L1282.0,806.3 L1265.0,776.3 Z" fill="#ff0000" />
<path d="M1271.4,831.6 L1305.4,831.6 L1288.4,801.6 Z" fill="#ff0000" />
<path d="M1294.8,831.6 L1328.8,831.6 L1311.8,801.6 Z" fill="#ff0000" />
<path d="M1318.7,701.5 L1352.7,701.5 L1335.7,671.5 Z" fill="#ff0000" />
<path d="M1341.6,704.1 L1375.6,704.1 L1358.6,674.1 Z" fill="#ff0000" />
<path d="M1365.6,705.4 L1399.6,705.4 L1382.6,675.4 Z" fill="#ff0000" />
<path d="M1388.5,706.7 L1422.5,706.7 L1405.5,676.7 Z" fill="#ff0000" />
<path d="M1411.9,715.8 L1445.9,715.8 L1428.9,685.8 Z" fill="#ff0000" />
<path d="M1435.8,730.1 L1469.8,730.1 L1452.8,700.1 Z" fill="#ff0000" />
<path d="M1458.7,730.1 L1492.7,730.1 L1475.7,700.1 Z" fill="#ff0000" />
<path d="M1482.1,750.2 L1516.1,750.2 L1499.1,720.2 Z" fill="#ff0000" />
<path d="M1505.5,750.2 L1539.5,750.2 L1522.5,720.2 Z" fill="#ff0000" />
<path d="M1528.9,719.7 L1562.9,719.7 L1545.9,689.7 Z" fill="#ff0000" />
<path d="M1552.3,696.3 L1586.3,696.3 L1569.3,666.3 Z" fill="#ff0000" />
<path d="M1575.7,705.4 L1609.7,705.4 L1592.7,675.4 Z" fill="#ff0000" />
<path d="M1322.7,794.2 L1347.7,794.2 L1335.2,816.7 Z" fill="none" stroke="#ff0000" stroke-width="5"/>
<path d="M1346.1,794.2 L1371.1,794.2 L1358.6,816.7 Z" fill="none" stroke="#ff0000" stroke-width="5"/>
<path d="M1370.1,794.2 L1395.1,794.2 L1382.6,816.7 Z" fill="none" stroke="#ff0000" stroke-width="5"/>
<path d="M1393.0,786.4 L1418.0,786.4 L1405.5,808.9 Z" fill="none" stroke="#ff0000" stroke-width="5"/>
<path d="M1416.4,786.4 L1441.4,786.4 L1428.9,808.9 Z" fill="none" stroke="#ff0000" stroke-width="5"/>
<path d="M1533.4,802.0 L1558.4,802.0 L1545.9,824.5 Z" fill="none" stroke="#ff0000" stroke-width="5"/>
<path d="M1322.7,856.4 L1347.7,856.4 L1335.2,833.9 Z" fill="none" stroke="#ff0000" stroke-width="5"/>
<path d="M1346.1,857.7 L1371.1,857.7 L1358.6,835.2 Z" fill="none" stroke="#ff0000" stroke-width="5"/>
<path d="M1370.1,855.1 L1395.1,855.1 L1382.6,832.6 Z" fill="none" stroke="#ff0000" stroke-width="5"/>
<path d="M1393.0,853.8 L1418.0,853.8 L1405.5,831.3 Z" fill="none" stroke="#ff0000" stroke-width="5"/>
<path d="M1416.4,853.8 L1441.4,853.8 L1428.9,831.3 Z" fill="none" stroke="#ff0000" stroke-width="5"/>
<path d="M1533.4,842.1 L1558.4,842.1 L1545.9,819.6 Z" fill="none" stroke="#ff0000" stroke-width="5"/>
<path d="M1598.6,352.1 L1632.6,352.1 L1615.6,382.1 Z" fill="#ff0000" />
<path d="M1623.3,324.8 L1657.3,324.8 L1640.3,354.8 Z" fill="#ff0000" />
<path d="M1646.7,333.9 L1680.7,333.9 L1663.7,363.9 Z" fill="#ff0000" />
<path d="M1692.2,370.3 L1726.2,370.3 L1709.2,400.3 Z" fill="#ff0000" />
<path d="M1716.4,323.5 L1750.4,323.5 L1733.4,353.5 Z" fill="#ff0000" />
<path d="M1739.1,317.0 L1773.1,317.0 L1756.1,347.0 Z" fill="#ff0000" />
<path d="M1763.2,311.8 L1797.2,311.8 L1780.2,341.8 Z" fill="#ff0000" />
<path d="M1786.7,317.0 L1820.7,317.0 L1803.7,347.0 Z" fill="#ff0000" />
<path d="M1810.1,306.6 L1844.1,306.6 L1827.1,336.6 Z" fill="#ff0000" />
<path d="M1833.5,306.6 L1867.5,306.6 L1850.5,336.6 Z" fill="#ff0000" />
<path d="M1856.9,302.7 L1890.9,302.7 L1873.9,332.7 Z" fill="#ff0000" />
<path d="M1880.3,298.8 L1914.3,298.8 L1897.3,328.8 Z" fill="#ff0000" />
<path d="M1903.7,293.6 L1937.7,293.6 L1920.7,323.6 Z" fill="#ff0000" />
<path d="M1927.1,302.7 L1961.1,302.7 L1944.1,332.7 Z" fill="#ff0000" />
<path d="M1950.5,302.7 L1984.5,302.7 L1967.5,332.7 Z" fill="#ff0000" />
<path d="M1973.9,306.6 L2007.9,306.6 L1990.9,336.6 Z" fill="#ff0000" />
<path d="M1997.3,307.9 L2031.3,307.9 L2014.3,337.9 Z" fill="#ff0000" />
<path d="M2021.3,317.0 L2055.3,317.0 L2038.3,347.0 Z" fill="#ff0000" />
<path d="M2068.1,341.7 L2102.1,341.7 L2085.1,371.7 Z" fill="#ff0000" />
<path d="M2091.5,354.7 L2125.5,354.7 L2108.5,384.7 Z" fill="#ff0000" />
<path d="M2114.9,374.2 L2148.9,374.2 L2131.9,404.2 Z" fill="#ff0000" />
<path d="M2138.3,428.9 L2172.3,428.9 L2155.3,458.9 Z" fill="#ff0000" />
<path d="M2160.9,418.5 L2194.9,418.5 L2177.9,448.5 Z" fill="#ff0000" />
<path d="M2184.3,431.5 L2218.3,431.5 L2201.3,461.5 Z" fill="#ff0000" />
<path d="M2021.3,548.6 L2055.3,548.6 L2038.3,518.6 Z" fill="#ff0000" />
<path d="M2068.1,540.8 L2102.1,540.8 L2085.1,510.8 Z" fill="#ff0000" />
<path d="M2091.5,533.0 L2125.5,533.0 L2108.5,503.0 Z" fill="#ff0000" />
<path d="M2114.9,523.9 L2148.9,523.9 L2131.9,493.9 Z" fill="#ff0000" />
<path d="M2138.3,525.2 L2172.3,525.2 L2155.3,495.2 Z" fill="#ff0000" />
<path d="M2160.9,521.3 L2194.9,521.3 L2177.9,491.3 Z" fill="#ff0000" />
<path d="M2184.3,503.1 L2218.3,503.1 L2201.3,473.1 Z" fill="#ff0000" />
<path d="M1599.1,719.7 L1633.1,719.7 L1616.1,689.7 Z" fill="#ff0000" />
<path d="M1623.3,711.1 L1657.3,711.1 L1640.3,681.1 Z" fill="#ff0000" />
<path d="M1646.7,705.4 L1680.7,705.4 L1663.7,675.4 Z" fill="#ff0000" />
<path d="M1670.1,684.1 L1704.1,684.1 L1687.1,654.1 Z" fill="#ff0000" />
<path d="M1693.0,684.1 L1727.0,684.1 L1710.0,654.1 Z" fill="#ff0000" />
<path d="M1716.4,659.9 L1750.4,659.9 L1733.4,629.9 Z" fill="#ff0000" />
<path d="M1739.8,659.9 L1773.8,659.9 L1756.8,629.9 Z" fill="#ff0000" />
<path d="M1763.2,645.6 L1797.2,645.6 L1780.2,615.6 Z" fill="#ff0000" />
<path d="M1786.7,656.0 L1820.7,656.0 L1803.7,626.0 Z" fill="#ff0000" />
<path d="M1810.1,671.6 L1844.1,671.6 L1827.1,641.6 Z" fill="#ff0000" />
<path d="M1833.5,653.9 L1867.5,653.9 L1850.5,623.9 Z" fill="#ff0000" />
<path d="M1856.9,651.3 L1890.9,651.3 L1873.9,621.3 Z" fill="#ff0000" />
<path d="M1880.3,645.6 L1914.3,645.6 L1897.3,615.6 Z" fill="#ff0000" />
<path d="M1903.7,647.7 L1937.7,647.7 L1920.7,617.7 Z" fill="#ff0000" />
<path d="M1927.6,640.4 L1961.6,640.4 L1944.6,610.4 Z" fill="#ff0000" />
<path d="M1951.0,631.3 L1985.0,631.3 L1968.0,601.3 Z" fill="#ff0000" />
<path d="M3332.2,427.6 L3366.2,427.6 L3349.2,457.6 Z" fill="#ff0000" />
<path d="M3355.6,409.4 L3389.6,409.4 L3372.6,439.4 Z" fill="#ff0000" />
<path d="M3379.0,449.7 L3413.0,449.7 L3396.0,479.7 Z" fill="#ff0000" />
<path d="M3402.4,491.3 L3436.4,491.3 L3419.4,521.3 Z" fill="#ff0000" />
<path d="M3425.8,487.4 L3459.8,487.4 L3442.8,517.4 Z" fill="#ff0000" />
<path d="M3449.3,456.2 L3483.3,456.2 L3466.3,486.2 Z" fill="#ff0000" />
<path d="M3473.2,409.4 L3507.2,409.4 L3490.2,439.4 Z" fill="#ff0000" />
<path d="M3520.0,387.2 L3554.0,387.2 L3537.0,417.2 Z" fill="#ff0000" />
<path d="M3543.4,396.3 L3577.4,396.3 L3560.4,426.3 Z" fill="#ff0000" />
<path d="M3566.8,396.3 L3600.8,396.3 L3583.8,426.3 Z" fill="#ff0000" />
<path d="M3590.2,370.3 L3624.2,370.3 L3607.2,400.3 Z" fill="#ff0000" />
<path d="M3613.6,370.3 L3647.6,370.3 L3630.6,400.3 Z" fill="#ff0000" />
<path d="M3332.2,494.0 L3366.2,494.0 L3349.2,464.0 Z" fill="#ff0000" />
<path d="M3355.6,577.2 L3389.6,577.2 L3372.6,547.2 Z" fill="#ff0000" />
<path d="M3379.0,620.1 L3413.0,620.1 L3396.0,590.1 Z" fill="#ff0000" />
<path d="M3402.4,652.1 L3436.4,652.1 L3419.4,622.1 Z" fill="#ff0000" />
<path d="M3425.8,646.9 L3459.8,646.9 L3442.8,616.9 Z" fill="#ff0000" />
<path d="M3449.3,654.7 L3483.3,654.7 L3466.3,624.7 Z" fill="#ff0000" />
<path d="M3473.2,701.5 L3507.2,701.5 L3490.2,671.5 Z" fill="#ff0000" />
<path d="M3496.6,707.5 L3530.6,707.5 L3513.6,677.5 Z" fill="#ff0000" />
<path d="M3520.0,707.5 L3554.0,707.5 L3537.0,677.5 Z" fill="#ff0000" />
<path d="M3543.4,714.5 L3577.4,714.5 L3560.4,684.5 Z" fill="#ff0000" />
<path d="M3567.3,745.7 L3601.3,745.7 L3584.3,715.7 Z" fill="#ff0000" />
<path d="M3590.2,756.1 L3624.2,756.1 L3607.2,726.1 Z" fill="#ff0000" />
<path d="M3613.6,758.7 L3647.6,758.7 L3630.6,728.7 Z" fill="#ff0000" />
<path d="M3383.5,782.0 L3408.5,782.0 L3396.0,804.5 Z" fill="none" stroke="#ff0000" stroke-width="5"/>
<path d="M3383.5,827.8 L3408.5,827.8 L3396.0,805.3 Z" fill="none" stroke="#ff0000" stroke-width="5"/>
<path d="M3430.3,771.6 L3455.3,771.6 L3442.8,794.1 Z" fill="none" stroke="#ff0000" stroke-width="5"/>
<path d="M3430.3,817.4 L3455.3,817.4 L3442.8,794.9 Z" fill="none" stroke="#ff0000" stroke-width="5"/>
<path d="M3453.8,758.6 L3478.8,758.6 L3466.3,781.1 Z" fill="none" stroke="#ff0000" stroke-width="5"/>
<path d="M3453.8,812.2 L3478.8,812.2 L3466.3,789.7 Z" fill="none" stroke="#ff0000" stroke-width="5"/>
<path d="M444.7,562.2 L444.7,577.8" stroke="#32cd32" stroke-width="4.2"/><path d="M418.7,562.2 L470.7,562.2" stroke="#32cd32" stroke-width="5"/><path d="M418.7,577.8 L470.7,577.8" stroke="#32cd32" stroke-width="5"/><circle cx="444.7" cy="570.0" r="17" fill="#32cd32"/>
<path d="M725.6,503.7 L725.6,513.3" stroke="#32cd32" stroke-width="4.2"/><path d="M699.6,503.7 L751.6,503.7" stroke="#32cd32" stroke-width="5"/><path d="M699.6,513.3 L751.6,513.3" stroke="#32cd32" stroke-width="5"/><circle cx="725.6" cy="508.9" r="17" fill="#32cd32"/>
<path d="M819.2,578.6 L819.2,588.2" stroke="#32cd32" stroke-width="4.2"/><path d="M793.2,578.6 L845.2,578.6" stroke="#32cd32" stroke-width="5"/><path d="M793.2,588.2 L845.2,588.2" stroke="#32cd32" stroke-width="5"/><circle cx="819.2" cy="583.0" r="17" fill="#32cd32"/>
<path d="M889.4,510.2 L889.4,602.5" stroke="#32cd32" stroke-width="4.2"/><path d="M863.4,510.2 L915.4,510.2" stroke="#32cd32" stroke-width="5"/><circle cx="889.4" cy="602.5" r="14.2" fill="#fff" stroke="#32cd32" stroke-width="5.6"/>
<path d="M421.8,615.0 L421.8,693.8" stroke="#32cd32" stroke-width="4.2"/><path d="M395.8,615.0 L447.8,615.0" stroke="#32cd32" stroke-width="5"/><path d="M395.8,693.8 L447.8,693.8" stroke="#32cd32" stroke-width="5"/><circle cx="421.8" cy="654.0" r="14.2" fill="#fff" stroke="#32cd32" stroke-width="5.6"/>
<path d="M843.4,692.2 L843.4,717.7" stroke="#32cd32" stroke-width="4.2"/><path d="M817.4,692.2 L869.4,692.2" stroke="#32cd32" stroke-width="5"/><path d="M817.4,717.7 L869.4,717.7" stroke="#32cd32" stroke-width="5"/><circle cx="843.4" cy="704.7" r="17" fill="#32cd32"/>
<path d="M1242.1,495.9 L1242.1,504.2" stroke="#32cd32" stroke-width="4.2"/><path d="M1216.1,495.9 L1268.1,495.9" stroke="#32cd32" stroke-width="5"/><path d="M1216.1,504.2 L1268.1,504.2" stroke="#32cd32" stroke-width="5"/><circle cx="1242.1" cy="499.8" r="17" fill="#32cd32"/>
<circle cx="1288.9" cy="499.8" r="17" fill="#32cd32"/>
<path d="M1311.8,495.9 L1311.8,504.2" stroke="#32cd32" stroke-width="4.2"/><path d="M1285.8,495.9 L1337.8,495.9" stroke="#32cd32" stroke-width="5"/><path d="M1285.8,504.2 L1337.8,504.2" stroke="#32cd32" stroke-width="5"/><circle cx="1311.8" cy="499.8" r="17" fill="#32cd32"/>
<path d="M1359.2,523.2 L1359.2,540.1" stroke="#32cd32" stroke-width="4.2"/><path d="M1333.2,523.2 L1385.2,523.2" stroke="#32cd32" stroke-width="5"/><path d="M1333.2,540.1 L1385.2,540.1" stroke="#32cd32" stroke-width="5"/><circle cx="1359.2" cy="531.0" r="17" fill="#32cd32"/>
<path d="M1171.4,576.0 L1171.4,584.3" stroke="#32cd32" stroke-width="4.2"/><path d="M1145.4,576.0 L1197.4,576.0" stroke="#32cd32" stroke-width="5"/><path d="M1145.4,584.3 L1197.4,584.3" stroke="#32cd32" stroke-width="5"/><circle cx="1171.4" cy="579.6" r="17" fill="#32cd32"/>
<circle cx="960.7" cy="575.2" r="14.2" fill="#fff" stroke="#32cd32" stroke-width="5.6"/>
<circle cx="1007.2" cy="572.6" r="14.2" fill="#fff" stroke="#32cd32" stroke-width="5.6"/>
<circle cx="984.1" cy="762.7" r="14.2" fill="#fff" stroke="#32cd32" stroke-width="5.6"/>
<path d="M1382.6,669.6 L1382.6,735.9" stroke="#32cd32" stroke-width="4.2"/><path d="M1356.6,669.6 L1408.6,669.6" stroke="#32cd32" stroke-width="5"/><path d="M1356.6,735.9 L1408.6,735.9" stroke="#32cd32" stroke-width="5"/><circle cx="1382.6" cy="702.9" r="14.2" fill="#fff" stroke="#32cd32" stroke-width="5.6"/>
<path d="M1405.5,665.7 L1405.5,804.9" stroke="#32cd32" stroke-width="4.2"/><path d="M1379.5,665.7 L1431.5,665.7" stroke="#32cd32" stroke-width="5"/><path d="M1379.5,804.9 L1431.5,804.9" stroke="#32cd32" stroke-width="5"/><circle cx="1405.5" cy="735.2" r="14.2" fill="#fff" stroke="#32cd32" stroke-width="5.6"/>
<path d="M2131.9,726.8 L2131.9,814.8" stroke="#32cd32" stroke-width="4.2"/><path d="M2105.9,726.8 L2157.9,726.8" stroke="#32cd32" stroke-width="5"/><path d="M2105.9,814.8 L2157.9,814.8" stroke="#32cd32" stroke-width="5"/><circle cx="2131.9" cy="770.5" r="14.2" fill="#fff" stroke="#32cd32" stroke-width="5.6"/>
<path d="M3466.8,514.1 L3466.8,549.2" stroke="#32cd32" stroke-width="4.2"/><path d="M3440.8,514.1 L3492.8,514.1" stroke="#32cd32" stroke-width="5"/><path d="M3440.8,549.2 L3492.8,549.2" stroke="#32cd32" stroke-width="5"/><circle cx="3466.8" cy="531.0" r="17" fill="#32cd32"/>
<path d="M3396.0,536.2 L3396.0,573.9" stroke="#32cd32" stroke-width="4.2"/><path d="M3370.0,536.2 L3422.0,536.2" stroke="#32cd32" stroke-width="5"/><circle cx="3396.0" cy="573.9" r="17" fill="#32cd32"/>
<path d="M3419.4,605.1 L3419.4,607.7" stroke="#32cd32" stroke-width="4.2"/><path d="M3393.4,605.1 L3445.4,605.1" stroke="#32cd32" stroke-width="5"/><circle cx="3419.4" cy="607.7" r="17" fill="#32cd32"/>
<path d="M3302.4,717.2 L3302.4,723.7" stroke="#32cd32" stroke-width="4.2"/><path d="M3276.4,717.2 L3328.4,717.2" stroke="#32cd32" stroke-width="5"/><path d="M3276.4,723.7 L3328.4,723.7" stroke="#32cd32" stroke-width="5"/><circle cx="3302.4" cy="720.3" r="17" fill="#32cd32"/>
<path d="M3372.6,699.0 L3372.6,719.0" stroke="#32cd32" stroke-width="4.2"/><path d="M3346.6,699.0 L3398.6,699.0" stroke="#32cd32" stroke-width="5"/><path d="M3346.6,719.0 L3398.6,719.0" stroke="#32cd32" stroke-width="5"/><circle cx="3372.6" cy="708.6" r="17" fill="#32cd32"/>
<path d="M3326.3,756.0 L3326.3,854.3" stroke="#32cd32" stroke-width="4.2"/><path d="M3300.3,756.0 L3352.3,756.0" stroke="#32cd32" stroke-width="5"/><path d="M3300.3,854.3 L3352.3,854.3" stroke="#32cd32" stroke-width="5"/><circle cx="3326.3" cy="805.4" r="17" fill="#32cd32"/>
<path d="M3442.8,800.2 L3442.8,838.7" stroke="#32cd32" stroke-width="4.2"/><path d="M3416.8,800.2 L3468.8,800.2" stroke="#32cd32" stroke-width="5"/><path d="M3416.8,838.7 L3468.8,838.7" stroke="#32cd32" stroke-width="5"/><circle cx="3442.8" cy="819.2" r="14.2" fill="#fff" stroke="#32cd32" stroke-width="5.6"/>
<path d="M3490.2,726.8 L3490.2,808.8" stroke="#32cd32" stroke-width="4.2"/><path d="M3464.2,726.8 L3516.2,726.8" stroke="#32cd32" stroke-width="5"/><path d="M3464.2,808.8 L3516.2,808.8" stroke="#32cd32" stroke-width="5"/><circle cx="3490.2" cy="767.9" r="14.2" fill="#fff" stroke="#32cd32" stroke-width="5.6"/>
<path d="M3537.0,720.9 L3537.0,809.5" stroke="#32cd32" stroke-width="4.2"/><path d="M3511.0,720.9 L3563.0,720.9" stroke="#32cd32" stroke-width="5"/><path d="M3511.0,809.5 L3563.0,809.5" stroke="#32cd32" stroke-width="5"/><circle cx="3537.0" cy="765.3" r="14.2" fill="#fff" stroke="#32cd32" stroke-width="5.6"/>
<path d="M3584.3,693.0 L3584.3,956.0" stroke="#32cd32" stroke-width="4.2"/><path d="M3558.3,693.0 L3610.3,693.0" stroke="#32cd32" stroke-width="5"/><circle cx="3584.3" cy="824.4" r="14.2" fill="#fff" stroke="#32cd32" stroke-width="5.6"/>
<path d="M304.2,493.3 L304.2,503.2" stroke="#0000ff" stroke-width="4.2"/><path d="M278.2,493.3 L330.2,493.3" stroke="#0000ff" stroke-width="5"/><path d="M278.2,503.2 L330.2,503.2" stroke="#0000ff" stroke-width="5"/><circle cx="304.2" cy="497.2" r="17" fill="#0000ff"/>
<path d="M328.4,526.6 L328.4,536.2" stroke="#0000ff" stroke-width="4.2"/><path d="M302.4,526.6 L354.4,526.6" stroke="#0000ff" stroke-width="5"/><path d="M302.4,536.2 L354.4,536.2" stroke="#0000ff" stroke-width="5"/><circle cx="328.4" cy="531.0" r="17" fill="#0000ff"/>
<path d="M351.0,449.1 L351.0,478.2" stroke="#0000ff" stroke-width="4.2"/><path d="M325.0,449.1 L377.0,449.1" stroke="#0000ff" stroke-width="5"/><path d="M325.0,478.2 L377.0,478.2" stroke="#0000ff" stroke-width="5"/><circle cx="351.0" cy="463.4" r="17" fill="#0000ff"/>
<circle cx="374.4" cy="473.0" r="17" fill="#0000ff"/>
<path d="M397.8,479.0 L397.8,488.1" stroke="#0000ff" stroke-width="4.2"/><path d="M371.8,479.0 L423.8,479.0" stroke="#0000ff" stroke-width="5"/><path d="M371.8,488.1 L423.8,488.1" stroke="#0000ff" stroke-width="5"/><circle cx="397.8" cy="483.4" r="17" fill="#0000ff"/>
<path d="M516.2,445.2 L516.2,456.9" stroke="#0000ff" stroke-width="4.2"/><path d="M490.2,445.2 L542.2,445.2" stroke="#0000ff" stroke-width="5"/><path d="M490.2,456.9 L542.2,456.9" stroke="#0000ff" stroke-width="5"/><circle cx="516.2" cy="451.7" r="17" fill="#0000ff"/>
<path d="M539.6,427.7 L539.6,437.9" stroke="#0000ff" stroke-width="4.2"/><path d="M513.6,427.7 L565.6,427.7" stroke="#0000ff" stroke-width="5"/><path d="M513.6,437.9 L565.6,437.9" stroke="#0000ff" stroke-width="5"/><circle cx="539.6" cy="433.5" r="17" fill="#0000ff"/>
<path d="M561.7,386.6 L561.7,397.6" stroke="#0000ff" stroke-width="4.2"/><path d="M535.7,386.6 L587.7,386.6" stroke="#0000ff" stroke-width="5"/><path d="M535.7,397.6 L587.7,397.6" stroke="#0000ff" stroke-width="5"/><circle cx="561.7" cy="391.8" r="17" fill="#0000ff"/>
<path d="M585.1,380.1 L585.1,389.8" stroke="#0000ff" stroke-width="4.2"/><path d="M559.1,380.1 L611.1,380.1" stroke="#0000ff" stroke-width="5"/><path d="M559.1,389.8 L611.1,389.8" stroke="#0000ff" stroke-width="5"/><circle cx="585.1" cy="384.0" r="17" fill="#0000ff"/>
<path d="M609.8,476.9 L609.8,485.5" stroke="#0000ff" stroke-width="4.2"/><path d="M583.8,476.9 L635.8,476.9" stroke="#0000ff" stroke-width="5"/><path d="M583.8,485.5 L635.8,485.5" stroke="#0000ff" stroke-width="5"/><circle cx="609.8" cy="481.6" r="17" fill="#0000ff"/>
<path d="M633.2,518.8 L633.2,537.0" stroke="#0000ff" stroke-width="4.2"/><path d="M607.2,518.8 L659.2,518.8" stroke="#0000ff" stroke-width="5"/><path d="M607.2,537.0 L659.2,537.0" stroke="#0000ff" stroke-width="5"/><circle cx="633.2" cy="527.1" r="17" fill="#0000ff"/>
<path d="M655.3,372.9 L655.3,384.0" stroke="#0000ff" stroke-width="4.2"/><path d="M629.3,372.9 L681.3,372.9" stroke="#0000ff" stroke-width="5"/><path d="M629.3,384.0 L681.3,384.0" stroke="#0000ff" stroke-width="5"/><circle cx="655.3" cy="378.8" r="17" fill="#0000ff"/>
<path d="M678.8,428.8 L678.8,437.9" stroke="#0000ff" stroke-width="4.2"/><path d="M652.8,428.8 L704.8,428.8" stroke="#0000ff" stroke-width="5"/><path d="M652.8,437.9 L704.8,437.9" stroke="#0000ff" stroke-width="5"/><circle cx="678.8" cy="433.5" r="17" fill="#0000ff"/>
<path d="M702.2,436.1 L702.2,445.7" stroke="#0000ff" stroke-width="4.2"/><path d="M676.2,436.1 L728.2,436.1" stroke="#0000ff" stroke-width="5"/><path d="M676.2,445.7 L728.2,445.7" stroke="#0000ff" stroke-width="5"/><circle cx="702.2" cy="441.3" r="17" fill="#0000ff"/>
<path d="M492.8,524.0 L492.8,541.4" stroke="#0000ff" stroke-width="4.2"/><path d="M466.8,524.0 L518.8,524.0" stroke="#0000ff" stroke-width="5"/><path d="M466.8,541.4 L518.8,541.4" stroke="#0000ff" stroke-width="5"/><circle cx="492.8" cy="532.3" r="17" fill="#0000ff"/>
<path d="M468.1,554.4 L468.1,563.5" stroke="#0000ff" stroke-width="4.2"/><path d="M442.1,554.4 L494.1,554.4" stroke="#0000ff" stroke-width="5"/><path d="M442.1,563.5 L494.1,563.5" stroke="#0000ff" stroke-width="5"/><circle cx="468.1" cy="559.6" r="17" fill="#0000ff"/>
<path d="M749.0,490.7 L749.0,508.9" stroke="#0000ff" stroke-width="4.2"/><path d="M723.0,490.7 L775.0,490.7" stroke="#0000ff" stroke-width="5"/><path d="M723.0,508.9 L775.0,508.9" stroke="#0000ff" stroke-width="5"/><circle cx="749.0" cy="499.8" r="17" fill="#0000ff"/>
<path d="M772.4,515.4 L772.4,525.8" stroke="#0000ff" stroke-width="4.2"/><path d="M746.4,515.4 L798.4,515.4" stroke="#0000ff" stroke-width="5"/><path d="M746.4,525.8 L798.4,525.8" stroke="#0000ff" stroke-width="5"/><circle cx="772.4" cy="520.6" r="17" fill="#0000ff"/>
<path d="M795.8,534.9 L795.8,551.8" stroke="#0000ff" stroke-width="4.2"/><path d="M769.8,534.9 L821.8,534.9" stroke="#0000ff" stroke-width="5"/><path d="M769.8,551.8 L821.8,551.8" stroke="#0000ff" stroke-width="5"/><circle cx="795.8" cy="542.7" r="17" fill="#0000ff"/>
<path d="M914.1,394.4 L914.1,437.4" stroke="#0000ff" stroke-width="4.2"/><path d="M888.1,394.4 L940.1,394.4" stroke="#0000ff" stroke-width="5"/><path d="M888.1,437.4 L940.1,437.4" stroke="#0000ff" stroke-width="5"/><circle cx="914.1" cy="416.5" r="17" fill="#0000ff"/>
<path d="M421.8,427.0 L421.8,466.7" stroke="#0000ff" stroke-width="4.2"/><path d="M395.8,427.0 L447.8,427.0" stroke="#0000ff" stroke-width="5"/><path d="M395.8,466.7 L447.8,466.7" stroke="#0000ff" stroke-width="5"/><circle cx="421.8" cy="446.5" r="14.2" fill="#fff" stroke="#0000ff" stroke-width="5.6"/>
<path d="M890.7,445.2 L890.7,493.8" stroke="#0000ff" stroke-width="4.2"/><path d="M864.7,445.2 L916.7,445.2" stroke="#0000ff" stroke-width="5"/><path d="M864.7,493.8 L916.7,493.8" stroke="#0000ff" stroke-width="5"/><circle cx="890.7" cy="469.9" r="14.2" fill="#fff" stroke="#0000ff" stroke-width="5.6"/>
<path d="M866.8,677.9 L866.8,704.7" stroke="#0000ff" stroke-width="4.2"/><path d="M840.8,677.9 L892.8,677.9" stroke="#0000ff" stroke-width="5"/><path d="M840.8,704.7 L892.8,704.7" stroke="#0000ff" stroke-width="5"/><circle cx="866.8" cy="691.7" r="17" fill="#0000ff"/>
<path d="M937.8,379.6 L937.8,394.4" stroke="#0000ff" stroke-width="4.2"/><path d="M911.8,379.6 L963.8,379.6" stroke="#0000ff" stroke-width="5"/><path d="M911.8,394.4 L963.8,394.4" stroke="#0000ff" stroke-width="5"/><circle cx="937.8" cy="389.2" r="17" fill="#0000ff"/>
<path d="M1031.4,429.0 L1031.4,449.1" stroke="#0000ff" stroke-width="4.2"/><path d="M1005.4,429.0 L1057.4,429.0" stroke="#0000ff" stroke-width="5"/><path d="M1005.4,449.1 L1057.4,449.1" stroke="#0000ff" stroke-width="5"/><circle cx="1031.4" cy="438.7" r="17" fill="#0000ff"/>
<path d="M1054.3,473.8 L1054.3,492.8" stroke="#0000ff" stroke-width="4.2"/><path d="M1028.3,473.8 L1080.3,473.8" stroke="#0000ff" stroke-width="5"/><path d="M1028.3,492.8 L1080.3,492.8" stroke="#0000ff" stroke-width="5"/><circle cx="1054.3" cy="483.7" r="17" fill="#0000ff"/>
<path d="M1194.8,480.8 L1194.8,508.9" stroke="#0000ff" stroke-width="4.2"/><path d="M1168.8,480.8 L1220.8,480.8" stroke="#0000ff" stroke-width="5"/><path d="M1168.8,508.9 L1220.8,508.9" stroke="#0000ff" stroke-width="5"/><circle cx="1194.8" cy="494.6" r="17" fill="#0000ff"/>
<path d="M1264.7,471.2 L1264.7,481.1" stroke="#0000ff" stroke-width="4.2"/><path d="M1238.7,471.2 L1290.7,471.2" stroke="#0000ff" stroke-width="5"/><path d="M1238.7,481.1 L1290.7,481.1" stroke="#0000ff" stroke-width="5"/><circle cx="1264.7" cy="475.1" r="17" fill="#0000ff"/>
<path d="M1101.7,540.9 L1101.7,553.1" stroke="#0000ff" stroke-width="4.2"/><path d="M1075.7,540.9 L1127.7,540.9" stroke="#0000ff" stroke-width="5"/><path d="M1075.7,553.1 L1127.7,553.1" stroke="#0000ff" stroke-width="5"/><circle cx="1101.7" cy="549.2" r="17" fill="#0000ff"/>
<circle cx="1124.5" cy="559.6" r="17" fill="#0000ff"/>
<path d="M1148.0,539.3 L1148.0,548.7" stroke="#0000ff" stroke-width="4.2"/><path d="M1122.0,539.3 L1174.0,539.3" stroke="#0000ff" stroke-width="5"/><path d="M1122.0,548.7 L1174.0,548.7" stroke="#0000ff" stroke-width="5"/><circle cx="1148.0" cy="542.7" r="17" fill="#0000ff"/>
<path d="M1218.2,571.3 L1218.2,580.4" stroke="#0000ff" stroke-width="4.2"/><path d="M1192.2,571.3 L1244.2,571.3" stroke="#0000ff" stroke-width="5"/><path d="M1192.2,580.4 L1244.2,580.4" stroke="#0000ff" stroke-width="5"/><circle cx="1218.2" cy="576.0" r="17" fill="#0000ff"/>
<path d="M1335.2,453.7 L1335.2,463.4" stroke="#0000ff" stroke-width="4.2"/><path d="M1309.2,453.7 L1361.2,453.7" stroke="#0000ff" stroke-width="5"/><path d="M1309.2,463.4 L1361.2,463.4" stroke="#0000ff" stroke-width="5"/><circle cx="1335.2" cy="458.9" r="17" fill="#0000ff"/>
<path d="M1429.4,427.0 L1429.4,437.4" stroke="#0000ff" stroke-width="4.2"/><path d="M1403.4,427.0 L1455.4,427.0" stroke="#0000ff" stroke-width="5"/><path d="M1403.4,437.4 L1455.4,437.4" stroke="#0000ff" stroke-width="5"/><circle cx="1429.4" cy="432.2" r="17" fill="#0000ff"/>
<path d="M1452.3,391.8 L1452.3,404.3" stroke="#0000ff" stroke-width="4.2"/><path d="M1426.3,391.8 L1478.3,391.8" stroke="#0000ff" stroke-width="5"/><path d="M1426.3,404.3 L1478.3,404.3" stroke="#0000ff" stroke-width="5"/><circle cx="1452.3" cy="398.3" r="17" fill="#0000ff"/>
<path d="M1474.9,371.0 L1474.9,384.0" stroke="#0000ff" stroke-width="4.2"/><path d="M1448.9,371.0 L1500.9,371.0" stroke="#0000ff" stroke-width="5"/><path d="M1448.9,384.0 L1500.9,384.0" stroke="#0000ff" stroke-width="5"/><circle cx="1474.9" cy="377.5" r="17" fill="#0000ff"/>
<circle cx="1498.3" cy="360.6" r="17" fill="#0000ff"/>
<circle cx="1521.7" cy="365.8" r="17" fill="#0000ff"/>
<circle cx="1545.1" cy="365.8" r="17" fill="#0000ff"/>
<circle cx="1568.5" cy="374.9" r="17" fill="#0000ff"/>
<path d="M1590.6,403.5 L1590.6,413.9" stroke="#0000ff" stroke-width="4.2"/><path d="M1564.6,403.5 L1616.6,403.5" stroke="#0000ff" stroke-width="5"/><path d="M1564.6,413.9 L1616.6,413.9" stroke="#0000ff" stroke-width="5"/><circle cx="1590.6" cy="407.4" r="17" fill="#0000ff"/>
<path d="M960.7,421.8 L960.7,451.7" stroke="#0000ff" stroke-width="4.2"/><path d="M934.7,421.8 L986.7,421.8" stroke="#0000ff" stroke-width="5"/><path d="M934.7,451.7 L986.7,451.7" stroke="#0000ff" stroke-width="5"/><circle cx="960.7" cy="436.1" r="14.2" fill="#fff" stroke="#0000ff" stroke-width="5.6"/>
<path d="M984.1,414.7 L984.1,423.1" stroke="#0000ff" stroke-width="4.2"/><path d="M958.1,414.7 L1010.1,414.7" stroke="#0000ff" stroke-width="5"/><circle cx="984.1" cy="423.1" r="14.2" fill="#fff" stroke="#0000ff" stroke-width="5.6"/>
<path d="M1007.2,440.0 L1007.2,455.0" stroke="#0000ff" stroke-width="4.2"/><path d="M981.2,455.0 L1033.2,455.0" stroke="#0000ff" stroke-width="5"/><circle cx="1007.2" cy="440.0" r="14.2" fill="#fff" stroke="#0000ff" stroke-width="5.6"/>
<path d="M1382.6,430.1 L1382.6,479.0" stroke="#0000ff" stroke-width="4.2"/><path d="M1356.6,430.1 L1408.6,430.1" stroke="#0000ff" stroke-width="5"/><path d="M1356.6,479.0 L1408.6,479.0" stroke="#0000ff" stroke-width="5"/><circle cx="1382.6" cy="453.0" r="14.2" fill="#fff" stroke="#0000ff" stroke-width="5.6"/>
<path d="M1405.5,445.2 L1405.5,469.9" stroke="#0000ff" stroke-width="4.2"/><path d="M1379.5,445.2 L1431.5,445.2" stroke="#0000ff" stroke-width="5"/><path d="M1379.5,469.9 L1431.5,469.9" stroke="#0000ff" stroke-width="5"/><circle cx="1405.5" cy="450.4" r="14.2" fill="#fff" stroke="#0000ff" stroke-width="5.6"/>
<path d="M1615.6,402.2 L1615.6,410.0" stroke="#0000ff" stroke-width="4.2"/><path d="M1589.6,402.2 L1641.6,402.2" stroke="#0000ff" stroke-width="5"/><path d="M1589.6,410.0 L1641.6,410.0" stroke="#0000ff" stroke-width="5"/><circle cx="1615.6" cy="407.4" r="17" fill="#0000ff"/>
<circle cx="1662.4" cy="363.2" r="17" fill="#0000ff"/>
<circle cx="1685.8" cy="378.8" r="17" fill="#0000ff"/>
<circle cx="1709.2" cy="371.0" r="17" fill="#0000ff"/>
<circle cx="1732.6" cy="381.4" r="17" fill="#0000ff"/>
<circle cx="1756.1" cy="364.5" r="17" fill="#0000ff"/>
<circle cx="1779.5" cy="376.2" r="17" fill="#0000ff"/>
<circle cx="1802.9" cy="371.0" r="17" fill="#0000ff"/>
<path d="M1827.6,368.4 L1827.6,402.2" stroke="#0000ff" stroke-width="4.2"/><path d="M1801.6,368.4 L1853.6,368.4" stroke="#0000ff" stroke-width="5"/><path d="M1801.6,402.2 L1853.6,402.2" stroke="#0000ff" stroke-width="5"/><circle cx="1827.6" cy="398.3" r="17" fill="#0000ff"/>
<circle cx="1851.0" cy="373.6" r="17" fill="#0000ff"/>
<circle cx="1874.4" cy="369.7" r="17" fill="#0000ff"/>
<path d="M1897.8,368.4 L1897.8,373.6" stroke="#0000ff" stroke-width="4.2"/><path d="M1871.8,368.4 L1923.8,368.4" stroke="#0000ff" stroke-width="5"/><circle cx="1897.8" cy="373.6" r="17" fill="#0000ff"/>
<path d="M1921.2,339.8 L1921.2,351.5" stroke="#0000ff" stroke-width="4.2"/><path d="M1895.2,339.8 L1947.2,339.8" stroke="#0000ff" stroke-width="5"/><path d="M1895.2,351.5 L1947.2,351.5" stroke="#0000ff" stroke-width="5"/><circle cx="1921.2" cy="346.3" r="17" fill="#0000ff"/>
<circle cx="1944.6" cy="354.1" r="17" fill="#0000ff"/>
<circle cx="1968.0" cy="361.9" r="17" fill="#0000ff"/>
<circle cx="1991.4" cy="360.6" r="17" fill="#0000ff"/>
<circle cx="2014.8" cy="367.1" r="17" fill="#0000ff"/>
<path d="M2038.3,347.6 L2038.3,358.0" stroke="#0000ff" stroke-width="4.2"/><path d="M2012.3,347.6 L2064.3,347.6" stroke="#0000ff" stroke-width="5"/><path d="M2012.3,358.0 L2064.3,358.0" stroke="#0000ff" stroke-width="5"/><circle cx="2038.3" cy="352.8" r="17" fill="#0000ff"/>
<path d="M2085.1,365.8 L2085.1,376.2" stroke="#0000ff" stroke-width="4.2"/><path d="M2059.1,365.8 L2111.1,365.8" stroke="#0000ff" stroke-width="5"/><path d="M2059.1,376.2 L2111.1,376.2" stroke="#0000ff" stroke-width="5"/><circle cx="2085.1" cy="371.0" r="17" fill="#0000ff"/>
<path d="M2107.2,389.2 L2107.2,400.9" stroke="#0000ff" stroke-width="4.2"/><path d="M2081.2,389.2 L2133.2,389.2" stroke="#0000ff" stroke-width="5"/><path d="M2081.2,400.9 L2133.2,400.9" stroke="#0000ff" stroke-width="5"/><circle cx="2107.2" cy="394.4" r="17" fill="#0000ff"/>
<path d="M2155.3,459.5 L2155.3,477.7" stroke="#0000ff" stroke-width="4.2"/><path d="M2129.3,459.5 L2181.3,459.5" stroke="#0000ff" stroke-width="5"/><path d="M2129.3,477.7 L2181.3,477.7" stroke="#0000ff" stroke-width="5"/><circle cx="2155.3" cy="467.3" r="17" fill="#0000ff"/>
<path d="M2200.8,498.5 L2200.8,508.9" stroke="#0000ff" stroke-width="4.2"/><path d="M2174.8,498.5 L2226.8,498.5" stroke="#0000ff" stroke-width="5"/><path d="M2174.8,508.9 L2226.8,508.9" stroke="#0000ff" stroke-width="5"/><circle cx="2200.8" cy="503.7" r="17" fill="#0000ff"/>
<path d="M2177.9,527.1 L2177.9,545.3" stroke="#0000ff" stroke-width="4.2"/><path d="M2151.9,527.1 L2203.9,527.1" stroke="#0000ff" stroke-width="5"/><path d="M2151.9,545.3 L2203.9,545.3" stroke="#0000ff" stroke-width="5"/><circle cx="2177.9" cy="536.2" r="17" fill="#0000ff"/>
<path d="M2131.9,401.7 L2131.9,442.6" stroke="#0000ff" stroke-width="4.2"/><path d="M2105.9,401.7 L2157.9,401.7" stroke="#0000ff" stroke-width="5"/><path d="M2105.9,442.6 L2157.9,442.6" stroke="#0000ff" stroke-width="5"/><circle cx="2131.9" cy="421.8" r="14.2" fill="#fff" stroke="#0000ff" stroke-width="5.6"/>
<path d="M3349.2,457.6 L3349.2,625.4" stroke="#0000ff" stroke-width="4.2"/><path d="M3323.2,457.6 L3375.2,457.6" stroke="#0000ff" stroke-width="5"/><path d="M3323.2,625.4 L3375.2,625.4" stroke="#0000ff" stroke-width="5"/><circle cx="3349.2" cy="541.4" r="17" fill="#0000ff"/>
<path d="M3513.1,499.8 L3513.1,517.5" stroke="#0000ff" stroke-width="4.2"/><path d="M3487.1,499.8 L3539.1,499.8" stroke="#0000ff" stroke-width="5"/><path d="M3487.1,517.5 L3539.1,517.5" stroke="#0000ff" stroke-width="5"/><circle cx="3513.1" cy="508.4" r="17" fill="#0000ff"/>
<circle cx="3560.4" cy="471.2" r="17" fill="#0000ff"/>
<path d="M3606.7,489.4 L3606.7,499.8" stroke="#0000ff" stroke-width="4.2"/><path d="M3580.7,499.8 L3632.7,499.8" stroke="#0000ff" stroke-width="5"/><circle cx="3606.7" cy="489.4" r="17" fill="#0000ff"/>
<path d="M3629.3,437.4 L3629.3,457.6" stroke="#0000ff" stroke-width="4.2"/><path d="M3603.3,437.4 L3655.3,437.4" stroke="#0000ff" stroke-width="5"/><path d="M3603.3,457.6 L3655.3,457.6" stroke="#0000ff" stroke-width="5"/><circle cx="3629.3" cy="447.8" r="17" fill="#0000ff"/>
<path d="M3442.8,440.5 L3442.8,479.0" stroke="#0000ff" stroke-width="4.2"/><path d="M3416.8,440.5 L3468.8,440.5" stroke="#0000ff" stroke-width="5"/><path d="M3416.8,479.0 L3468.8,479.0" stroke="#0000ff" stroke-width="5"/><circle cx="3442.8" cy="459.5" r="14.2" fill="#fff" stroke="#0000ff" stroke-width="5.6"/>
<path d="M3490.2,444.4 L3490.2,481.6" stroke="#0000ff" stroke-width="4.2"/><path d="M3464.2,444.4 L3516.2,444.4" stroke="#0000ff" stroke-width="5"/><path d="M3464.2,481.6 L3516.2,481.6" stroke="#0000ff" stroke-width="5"/><circle cx="3490.2" cy="463.4" r="14.2" fill="#fff" stroke="#0000ff" stroke-width="5.6"/>
<path d="M3536.5,444.4 L3536.5,482.9" stroke="#0000ff" stroke-width="4.2"/><path d="M3510.5,444.4 L3562.5,444.4" stroke="#0000ff" stroke-width="5"/><path d="M3510.5,482.9 L3562.5,482.9" stroke="#0000ff" stroke-width="5"/><circle cx="3536.5" cy="464.7" r="14.2" fill="#fff" stroke="#0000ff" stroke-width="5.6"/>
<path d="M3584.3,444.4 L3584.3,482.9" stroke="#0000ff" stroke-width="4.2"/><path d="M3558.3,444.4 L3610.3,444.4" stroke="#0000ff" stroke-width="5"/><path d="M3558.3,482.9 L3610.3,482.9" stroke="#0000ff" stroke-width="5"/><circle cx="3584.3" cy="460.8" r="14.2" fill="#fff" stroke="#0000ff" stroke-width="5.6"/>
<path d="M266.0,371.0 L338.0,373.0 L520.0,370.6 L556.0,372.0 L728.0,385.0 L780.0,385.0 L884.0,379.5 L1102.0,374.0 L1248.0,379.5 L1400.0,381.0 L1562.0,381.0" fill="none" stroke="#000" stroke-width="3.9" stroke-linejoin="round"/>
<path d="M1667.0,379.5 L2128.0,381.0 L2232.0,387.0 L2294.0,386.0 L2357.0,373.0 L2388.0,372.0 L2540.0,378.4 L2930.0,409.6 L3039.0,412.7 L3294.0,412.7 L3637.0,411.0" fill="none" stroke="#000" stroke-width="3.9" stroke-linejoin="round"/>
<path d="M266.0,532.0 L416.0,538.0 L546.0,543.0 L780.0,540.0 L1040.0,541.0 L1400.0,538.0 L1566.0,541.0" fill="none" stroke="#000" stroke-width="3.9" stroke-linejoin="round"/>
<path d="M1665.0,542.0 L1868.0,546.0 L2024.0,558.0 L2222.0,573.4 L2540.0,571.4 L2618.0,573.4 L3008.0,569.0 L3637.0,565.6" fill="none" stroke="#000" stroke-width="3.9" stroke-linejoin="round"/>
<path d="M266.0,772.6 L520.0,781.5 L780.0,797.0 L930.0,800.2 L1086.0,807.5 L1320.0,815.3 L1385.0,818.4 L1566.0,819.0" fill="none" stroke="#000" stroke-width="3.9" stroke-linejoin="round"/>
<path d="M1667.0,817.9 L1764.0,820.5 L1990.0,821.8 L2154.0,824.4 L2540.0,831.0 L2790.0,823.0 L2982.0,823.0 L3351.0,833.5 L3637.0,833.5" fill="none" stroke="#000" stroke-width="3.9" stroke-linejoin="round"/>
<path d="M266.0,857.0 L343.0,851.7 L416.0,844.0 L676.0,844.0 L884.0,851.7 L969.0,853.0 L1144.0,862.0 L1242.0,865.0 L1372.0,868.6 L1566.0,880.0" fill="none" stroke="#000" stroke-width="3.9" stroke-linejoin="round"/>
<path d="M1667.0,885.5 L1792.0,889.4 L1873.0,889.4 L2011.0,886.8 L2164.0,882.9 L2540.0,880.0 L2618.0,881.0 L3112.0,881.0 L3200.0,877.7 L3351.0,878.7 L3637.0,885.5" fill="none" stroke="#000" stroke-width="3.9" stroke-linejoin="round"/>
<text x="1615" y="401.5" font-size="59" text-anchor="middle" fill="#000">230</text>
<text x="1615" y="562.6" font-size="59" text-anchor="middle" fill="#000">250</text>
<text x="1615" y="840" font-size="59" text-anchor="middle" fill="#000">273</text>
<text x="0" y="0" font-size="59" text-anchor="middle" fill="#000" transform="translate(1615,903) rotate(2)">279</text>
<g stroke="#000" stroke-width="5.5" fill="none">
<path d="M266.0,109 L266.0,956.7 L3640.0,956.7"/>
</g>
<g stroke="#000" stroke-width="5.8">
<line x1="266.0" y1="112" x2="347" y2="112"/>
<line x1="266.0" y1="217.5" x2="347" y2="217.5"/>
<line x1="266.0" y1="323" x2="347" y2="323"/>
<line x1="266.0" y1="428.6" x2="347" y2="428.6"/>
<line x1="266.0" y1="534" x2="347" y2="534"/>
<line x1="266.0" y1="639.7" x2="347" y2="639.7"/>
<line x1="266.0" y1="745.2" x2="347" y2="745.2"/>
<line x1="266.0" y1="850.8" x2="347" y2="850.8"/>
<line x1="266.0" y1="956.5" x2="347" y2="956.5"/>
<line x1="266.0" y1="894" x2="266.0" y2="956.5"/>
<line x1="336.2" y1="924" x2="336.2" y2="956.5"/>
<line x1="406.5" y1="924" x2="406.5" y2="956.5"/>
<line x1="476.7" y1="924" x2="476.7" y2="956.5"/>
<line x1="546.9" y1="894" x2="546.9" y2="956.5"/>
<line x1="617.1" y1="924" x2="617.1" y2="956.5"/>
<line x1="687.4" y1="924" x2="687.4" y2="956.5"/>
<line x1="757.6" y1="924" x2="757.6" y2="956.5"/>
<line x1="827.8" y1="894" x2="827.8" y2="956.5"/>
<line x1="898.1" y1="924" x2="898.1" y2="956.5"/>
<line x1="968.3" y1="924" x2="968.3" y2="956.5"/>
<line x1="1038.5" y1="924" x2="1038.5" y2="956.5"/>
<line x1="1108.8" y1="894" x2="1108.8" y2="956.5"/>
<line x1="1179.0" y1="924" x2="1179.0" y2="956.5"/>
<line x1="1249.2" y1="924" x2="1249.2" y2="956.5"/>
<line x1="1319.4" y1="924" x2="1319.4" y2="956.5"/>
<line x1="1389.7" y1="894" x2="1389.7" y2="956.5"/>
<line x1="1459.9" y1="924" x2="1459.9" y2="956.5"/>
<line x1="1530.1" y1="924" x2="1530.1" y2="956.5"/>
<line x1="1600.4" y1="924" x2="1600.4" y2="956.5"/>
<line x1="1670.6" y1="894" x2="1670.6" y2="956.5"/>
<line x1="1740.8" y1="924" x2="1740.8" y2="956.5"/>
<line x1="1811.0" y1="924" x2="1811.0" y2="956.5"/>
<line x1="1881.3" y1="924" x2="1881.3" y2="956.5"/>
<line x1="1951.5" y1="894" x2="1951.5" y2="956.5"/>
<line x1="2021.7" y1="924" x2="2021.7" y2="956.5"/>
<line x1="2092.0" y1="924" x2="2092.0" y2="956.5"/>
<line x1="2162.2" y1="924" x2="2162.2" y2="956.5"/>
<line x1="2232.4" y1="894" x2="2232.4" y2="956.5"/>
<line x1="2302.6" y1="924" x2="2302.6" y2="956.5"/>
<line x1="2372.9" y1="924" x2="2372.9" y2="956.5"/>
<line x1="2443.1" y1="924" x2="2443.1" y2="956.5"/>
<line x1="2513.3" y1="894" x2="2513.3" y2="956.5"/>
<line x1="2583.6" y1="924" x2="2583.6" y2="956.5"/>
<line x1="2653.8" y1="924" x2="2653.8" y2="956.5"/>
<line x1="2724.0" y1="924" x2="2724.0" y2="956.5"/>
<line x1="2794.2" y1="894" x2="2794.2" y2="956.5"/>
<line x1="2864.5" y1="924" x2="2864.5" y2="956.5"/>
<line x1="2934.7" y1="924" x2="2934.7" y2="956.5"/>
<line x1="3004.9" y1="924" x2="3004.9" y2="956.5"/>
<line x1="3075.2" y1="894" x2="3075.2" y2="956.5"/>
<line x1="3145.4" y1="924" x2="3145.4" y2="956.5"/>
<line x1="3215.6" y1="924" x2="3215.6" y2="956.5"/>
<line x1="3285.9" y1="924" x2="3285.9" y2="956.5"/>
<line x1="3356.1" y1="894" x2="3356.1" y2="956.5"/>
<line x1="3426.3" y1="924" x2="3426.3" y2="956.5"/>
<line x1="3496.5" y1="924" x2="3496.5" y2="956.5"/>
<line x1="3566.8" y1="924" x2="3566.8" y2="956.5"/>
<line x1="3637.0" y1="894" x2="3637.0" y2="956.5"/>
</g>
<text x="1951" y="77" font-size="100" text-anchor="middle" fill="#000">Galati: 2025/10/27</text>
<text x="84.7" y="137.0" font-size="72" textLength="148.7" lengthAdjust="spacingAndGlyphs" fill="#000">15.0</text>
<text x="86.8" y="242.5" font-size="72" textLength="146.6" lengthAdjust="spacingAndGlyphs" fill="#000">13.1</text>
<text x="86.6" y="348.0" font-size="72" textLength="146.6" lengthAdjust="spacingAndGlyphs" fill="#000">11.2</text>
<text x="84.8" y="453.6" font-size="72" textLength="148.6" lengthAdjust="spacingAndGlyphs" fill="#000">9.43</text>
<text x="83.7" y="559.0" font-size="72" textLength="149.7" lengthAdjust="spacingAndGlyphs" fill="#000">7.58</text>
<text x="86.9" y="664.7" font-size="72" textLength="146.5" lengthAdjust="spacingAndGlyphs" fill="#000">5.72</text>
<text x="84.8" y="770.2" font-size="72" textLength="148.6" lengthAdjust="spacingAndGlyphs" fill="#000">3.86</text>
<text x="83.7" y="875.8" font-size="72" textLength="149.7" lengthAdjust="spacingAndGlyphs" fill="#000">2.00</text>
<text x="82.8" y="981.5" font-size="72" textLength="149.6" lengthAdjust="spacingAndGlyphs" fill="#000">0.14</text>
<text x="244.6" y="1037.0" font-size="81" textLength="43.9" lengthAdjust="spacingAndGlyphs" fill="#000">0</text>
<text x="525.5" y="1037.0" font-size="81" textLength="43.8" lengthAdjust="spacingAndGlyphs" fill="#000">2</text>
<text x="806.4" y="1037.0" font-size="81" textLength="43.9" lengthAdjust="spacingAndGlyphs" fill="#000">4</text>
<text x="1085.6" y="1037.0" font-size="81" textLength="46.3" lengthAdjust="spacingAndGlyphs" fill="#000">6</text>
<text x="1368.2" y="1037.0" font-size="81" textLength="43.9" lengthAdjust="spacingAndGlyphs" fill="#000">8</text>
<text x="1623.4" y="1037.0" font-size="81" textLength="92.3" lengthAdjust="spacingAndGlyphs" fill="#000">10</text>
<text x="1905.4" y="1037.0" font-size="81" textLength="91.2" lengthAdjust="spacingAndGlyphs" fill="#000">12</text>
<text x="2184.8" y="1037.0" font-size="81" textLength="92.3" lengthAdjust="spacingAndGlyphs" fill="#000">14</text>
<text x="2465.6" y="1037.0" font-size="81" textLength="93.5" lengthAdjust="spacingAndGlyphs" fill="#000">16</text>
<text x="2747.1" y="1037.0" font-size="81" textLength="92.3" lengthAdjust="spacingAndGlyphs" fill="#000">18</text>
<text x="3028.5" y="1037.0" font-size="81" textLength="93.4" lengthAdjust="spacingAndGlyphs" fill="#000">20</text>
<text x="3310.5" y="1037.0" font-size="81" textLength="92.3" lengthAdjust="spacingAndGlyphs" fill="#000">22</text>
<text x="3589.9" y="1037.0" font-size="81" textLength="93.4" lengthAdjust="spacingAndGlyphs" fill="#000">24</text>
<text x="1738.8" y="1116.3" font-size="81" textLength="419.9" lengthAdjust="spacingAndGlyphs" fill="#000">Time (UTC)</text>
<g transform="translate(38,822) rotate(-90)"><text x="-6.3" y="0.0" font-size="71" textLength="603.0" lengthAdjust="spacingAndGlyphs" fill="#000">Height AMSL (km)</text></g>
<defs><linearGradient id="cb" x1="0" x2="1" y1="0" y2="0"><stop offset="0" stop-color="#ffffff"/><stop offset="0.3333" stop-color="#ffb6c1"/><stop offset="0.6667" stop-color="#00ffff"/><stop offset="1" stop-color="#d3d3d3"/></linearGradient></defs>
<rect x="266.0" y="1144" width="3371.0" height="53" fill="url(#cb)"/>
<line x1="263.0" y1="1200" x2="3640.0" y2="1200" stroke="#000" stroke-width="5.5"/>
<g stroke="#000" stroke-width="5.5">
<line x1="266.0" y1="1183" x2="266.0" y2="1200"/>
<line x1="378.4" y1="1190" x2="378.4" y2="1200"/>
<line x1="490.7" y1="1190" x2="490.7" y2="1200"/>
<line x1="603.1" y1="1190" x2="603.1" y2="1200"/>
<line x1="715.5" y1="1190" x2="715.5" y2="1200"/>
<line x1="827.8" y1="1190" x2="827.8" y2="1200"/>
<line x1="940.2" y1="1190" x2="940.2" y2="1200"/>
<line x1="1052.6" y1="1190" x2="1052.6" y2="1200"/>
<line x1="1164.9" y1="1190" x2="1164.9" y2="1200"/>
<line x1="1277.3" y1="1190" x2="1277.3" y2="1200"/>
<line x1="1389.7" y1="1183" x2="1389.7" y2="1200"/>
<line x1="1502.0" y1="1190" x2="1502.0" y2="1200"/>
<line x1="1614.4" y1="1190" x2="1614.4" y2="1200"/>
<line x1="1726.8" y1="1190" x2="1726.8" y2="1200"/>
<line x1="1839.1" y1="1190" x2="1839.1" y2="1200"/>
<line x1="1951.5" y1="1190" x2="1951.5" y2="1200"/>
<line x1="2063.9" y1="1190" x2="2063.9" y2="1200"/>
<line x1="2176.2" y1="1190" x2="2176.2" y2="1200"/>
<line x1="2288.6" y1="1190" x2="2288.6" y2="1200"/>
<line x1="2401.0" y1="1190" x2="2401.0" y2="1200"/>
<line x1="2513.3" y1="1183" x2="2513.3" y2="1200"/>
<line x1="2625.7" y1="1190" x2="2625.7" y2="1200"/>
<line x1="2738.1" y1="1190" x2="2738.1" y2="1200"/>
<line x1="2850.4" y1="1190" x2="2850.4" y2="1200"/>
<line x1="2962.8" y1="1190" x2="2962.8" y2="1200"/>
<line x1="3075.2" y1="1190" x2="3075.2" y2="1200"/>
<line x1="3187.5" y1="1190" x2="3187.5" y2="1200"/>
<line x1="3299.9" y1="1190" x2="3299.9" y2="1200"/>
<line x1="3412.3" y1="1190" x2="3412.3" y2="1200"/>
<line x1="3524.6" y1="1190" x2="3524.6" y2="1200"/>
<line x1="3637.0" y1="1183" x2="3637.0" y2="1200"/>
</g>
<text x="179.8" y="1263.0" font-size="61" textLength="154.1" lengthAdjust="spacingAndGlyphs" fill="#000">Clear</text>
<text x="1304.0" y="1263.0" font-size="61" textLength="171.6" lengthAdjust="spacingAndGlyphs" fill="#000">Water</text>
<text x="2467.7" y="1263.0" font-size="61" textLength="86.0" lengthAdjust="spacingAndGlyphs" fill="#000">Ice</text>
<text x="3553.7" y="1263.0" font-size="61" textLength="167.1" lengthAdjust="spacingAndGlyphs" fill="#000">Other</text>
<rect x="249" y="1313.5" width="651" height="334.0" fill="none" stroke="#000" stroke-width="5.5"/>
<rect x="1066" y="1313.5" width="546" height="227.5" fill="none" stroke="#000" stroke-width="5.5"/>
<rect x="2328" y="1313.5" width="559.5" height="400.5" fill="none" stroke="#000" stroke-width="5.5"/>
<circle cx="287" cy="1383.5" r="17" fill="#32cd32"/>
<circle cx="287" cy="1471" r="14.2" fill="none" stroke="#32cd32" stroke-width="5.6"/>
<path d="M270,1551 L304,1585 M304,1551 L270,1585" stroke="#32cd32" stroke-width="5"/>
<text x="324.1" y="1405.8" font-size="61" textLength="454.8" lengthAdjust="spacingAndGlyphs" fill="#000">FCI-OCA SL Wat</text>
<text x="324.0" y="1492.7" font-size="61" textLength="455.1" lengthAdjust="spacingAndGlyphs" fill="#000">FCI-OCA 2L Wat</text>
<text x="323.6" y="1589.0" font-size="61" textLength="507.7" lengthAdjust="spacingAndGlyphs" fill="#000">OCA High Err Wat</text>
<circle cx="1103.4" cy="1383.5" r="17" fill="#0000ff"/>
<circle cx="1103.4" cy="1471" r="14.2" fill="none" stroke="#0000ff" stroke-width="5.6"/>
<text x="1138.1" y="1405.8" font-size="61" textLength="428.9" lengthAdjust="spacingAndGlyphs" fill="#000">FCI-OCA SL Ice</text>
<text x="1138.0" y="1492.7" font-size="61" textLength="429.3" lengthAdjust="spacingAndGlyphs" fill="#000">FCI-OCA 2L Ice</text>
<path d="M2348.0,1393.5 L2382.0,1393.5 L2365.0,1363.5 Z" fill="#ff0000"/>
<path d="M2348.0,1460.0 L2382.0,1460.0 L2365.0,1490.0 Z" fill="#ff0000"/>
<path d="M2350.0,1565.0 L2380.0,1565.0 L2365.0,1539.0 Z" fill="none" stroke="#ff0000" stroke-width="5" stroke-linejoin="miter"/>
<path d="M2350.0,1634.5 L2380.0,1634.5 L2365.0,1660.5 Z" fill="none" stroke="#ff0000" stroke-width="5" stroke-linejoin="miter"/>
<text x="2403.5" y="1406.2" font-size="61" textLength="350.1" lengthAdjust="spacingAndGlyphs" fill="#000">ACTRIS CBH</text>
<text x="2403.5" y="1492.6" font-size="61" textLength="344.6" lengthAdjust="spacingAndGlyphs" fill="#000">ACTRIS CTH</text>
<text x="2403.5" y="1579.4" font-size="61" textLength="441.9" lengthAdjust="spacingAndGlyphs" fill="#000">ACTRIS CBH BL</text>
<text x="2403.5" y="1665.8" font-size="61" textLength="437.4" lengthAdjust="spacingAndGlyphs" fill="#000">ACTRIS CTH BL</text>
</svg></body></html>
